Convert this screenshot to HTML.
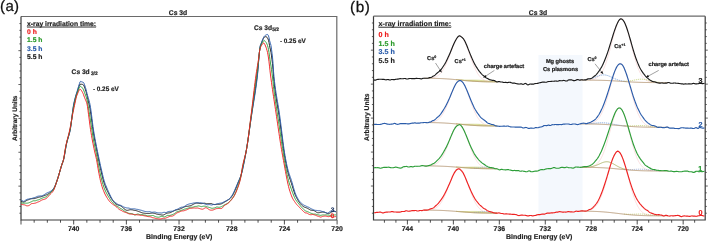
<!DOCTYPE html>
<html><head><meta charset="utf-8"><style>
html,body{margin:0;padding:0;background:#fff;width:710px;height:242px;overflow:hidden}
body{position:relative;font-family:"Liberation Sans",sans-serif}
text{text-rendering:geometricPrecision}
</style></head><body>
<svg width="710" height="242" viewBox="0 0 710 242" style="position:absolute;left:0;top:0;will-change:transform"><rect width="710" height="242" fill="#fff"/><rect x="538.5" y="55" width="44" height="164.5" fill="#f4f8fd"/><g fill="none" stroke="#3a3a3a" stroke-width="1.2"><path d="M21,16.5 H336.8 V220" stroke="#6a6a6a"/><path d="M21,16.5 V220 H336.8"/><path d="M19.40,213.23 H21" stroke-width="0.8"/><path d="M19.40,206.45 H21" stroke-width="0.8"/><path d="M19.40,199.68 H21" stroke-width="0.8"/><path d="M19.40,192.91 H21" stroke-width="0.8"/><path d="M18.40,186.13 H21" stroke-width="0.8"/><path d="M19.40,179.36 H21" stroke-width="0.8"/><path d="M19.40,172.59 H21" stroke-width="0.8"/><path d="M19.40,165.81 H21" stroke-width="0.8"/><path d="M19.40,159.04 H21" stroke-width="0.8"/><path d="M18.40,152.27 H21" stroke-width="0.8"/><path d="M19.40,145.49 H21" stroke-width="0.8"/><path d="M19.40,138.72 H21" stroke-width="0.8"/><path d="M19.40,131.95 H21" stroke-width="0.8"/><path d="M19.40,125.17 H21" stroke-width="0.8"/><path d="M18.40,118.40 H21" stroke-width="0.8"/><path d="M19.40,111.63 H21" stroke-width="0.8"/><path d="M19.40,104.85 H21" stroke-width="0.8"/><path d="M19.40,98.08 H21" stroke-width="0.8"/><path d="M19.40,91.31 H21" stroke-width="0.8"/><path d="M18.40,84.53 H21" stroke-width="0.8"/><path d="M19.40,77.76 H21" stroke-width="0.8"/><path d="M19.40,70.99 H21" stroke-width="0.8"/><path d="M19.40,64.21 H21" stroke-width="0.8"/><path d="M19.40,57.44 H21" stroke-width="0.8"/><path d="M18.40,50.67 H21" stroke-width="0.8"/><path d="M19.40,43.89 H21" stroke-width="0.8"/><path d="M19.40,37.12 H21" stroke-width="0.8"/><path d="M19.40,30.35 H21" stroke-width="0.8"/><path d="M19.40,23.57 H21" stroke-width="0.8"/><path d="M337.08,220 V224.50" stroke-width="0.9"/><path d="M323.91,220 V222.70" stroke-width="0.9"/><path d="M310.74,220 V222.70" stroke-width="0.9"/><path d="M297.57,220 V222.70" stroke-width="0.9"/><path d="M284.40,220 V224.50" stroke-width="0.9"/><path d="M271.23,220 V222.70" stroke-width="0.9"/><path d="M258.06,220 V222.70" stroke-width="0.9"/><path d="M244.89,220 V222.70" stroke-width="0.9"/><path d="M231.72,220 V224.50" stroke-width="0.9"/><path d="M218.55,220 V222.70" stroke-width="0.9"/><path d="M205.38,220 V222.70" stroke-width="0.9"/><path d="M192.21,220 V222.70" stroke-width="0.9"/><path d="M179.04,220 V224.50" stroke-width="0.9"/><path d="M165.87,220 V222.70" stroke-width="0.9"/><path d="M152.70,220 V222.70" stroke-width="0.9"/><path d="M139.53,220 V222.70" stroke-width="0.9"/><path d="M126.36,220 V224.50" stroke-width="0.9"/><path d="M113.19,220 V222.70" stroke-width="0.9"/><path d="M100.02,220 V222.70" stroke-width="0.9"/><path d="M86.85,220 V222.70" stroke-width="0.9"/><path d="M73.68,220 V224.50" stroke-width="0.9"/><path d="M60.51,220 V222.70" stroke-width="0.9"/><path d="M47.34,220 V222.70" stroke-width="0.9"/><path d="M34.17,220 V222.70" stroke-width="0.9"/><path d="M21.00,220 V224.50" stroke-width="0.9"/></g><g fill="none" stroke="#3a3a3a" stroke-width="1.2"><path d="M373.5,16.2 H705.2" stroke="#6a6a6a"/><path d="M373.5,16.2 V220 H705.2 V16.2"/><path d="M371.90,213.21 H373.5" stroke-width="0.8"/><path d="M705.2,213.21 H706.80" stroke-width="0.8"/><path d="M371.90,206.41 H373.5" stroke-width="0.8"/><path d="M705.2,206.41 H706.80" stroke-width="0.8"/><path d="M371.90,199.62 H373.5" stroke-width="0.8"/><path d="M705.2,199.62 H706.80" stroke-width="0.8"/><path d="M371.90,192.83 H373.5" stroke-width="0.8"/><path d="M705.2,192.83 H706.80" stroke-width="0.8"/><path d="M370.90,186.03 H373.5" stroke-width="0.8"/><path d="M705.2,186.03 H707.80" stroke-width="0.8"/><path d="M371.90,179.24 H373.5" stroke-width="0.8"/><path d="M705.2,179.24 H706.80" stroke-width="0.8"/><path d="M371.90,172.45 H373.5" stroke-width="0.8"/><path d="M705.2,172.45 H706.80" stroke-width="0.8"/><path d="M371.90,165.65 H373.5" stroke-width="0.8"/><path d="M705.2,165.65 H706.80" stroke-width="0.8"/><path d="M371.90,158.86 H373.5" stroke-width="0.8"/><path d="M705.2,158.86 H706.80" stroke-width="0.8"/><path d="M370.90,152.07 H373.5" stroke-width="0.8"/><path d="M705.2,152.07 H707.80" stroke-width="0.8"/><path d="M371.90,145.27 H373.5" stroke-width="0.8"/><path d="M705.2,145.27 H706.80" stroke-width="0.8"/><path d="M371.90,138.48 H373.5" stroke-width="0.8"/><path d="M705.2,138.48 H706.80" stroke-width="0.8"/><path d="M371.90,131.69 H373.5" stroke-width="0.8"/><path d="M705.2,131.69 H706.80" stroke-width="0.8"/><path d="M371.90,124.89 H373.5" stroke-width="0.8"/><path d="M705.2,124.89 H706.80" stroke-width="0.8"/><path d="M370.90,118.10 H373.5" stroke-width="0.8"/><path d="M705.2,118.10 H707.80" stroke-width="0.8"/><path d="M371.90,111.31 H373.5" stroke-width="0.8"/><path d="M705.2,111.31 H706.80" stroke-width="0.8"/><path d="M371.90,104.51 H373.5" stroke-width="0.8"/><path d="M705.2,104.51 H706.80" stroke-width="0.8"/><path d="M371.90,97.72 H373.5" stroke-width="0.8"/><path d="M705.2,97.72 H706.80" stroke-width="0.8"/><path d="M371.90,90.93 H373.5" stroke-width="0.8"/><path d="M705.2,90.93 H706.80" stroke-width="0.8"/><path d="M370.90,84.13 H373.5" stroke-width="0.8"/><path d="M705.2,84.13 H707.80" stroke-width="0.8"/><path d="M371.90,77.34 H373.5" stroke-width="0.8"/><path d="M705.2,77.34 H706.80" stroke-width="0.8"/><path d="M371.90,70.55 H373.5" stroke-width="0.8"/><path d="M705.2,70.55 H706.80" stroke-width="0.8"/><path d="M371.90,63.75 H373.5" stroke-width="0.8"/><path d="M705.2,63.75 H706.80" stroke-width="0.8"/><path d="M371.90,56.96 H373.5" stroke-width="0.8"/><path d="M705.2,56.96 H706.80" stroke-width="0.8"/><path d="M370.90,50.17 H373.5" stroke-width="0.8"/><path d="M705.2,50.17 H707.80" stroke-width="0.8"/><path d="M371.90,43.37 H373.5" stroke-width="0.8"/><path d="M705.2,43.37 H706.80" stroke-width="0.8"/><path d="M371.90,36.58 H373.5" stroke-width="0.8"/><path d="M705.2,36.58 H706.80" stroke-width="0.8"/><path d="M371.90,29.79 H373.5" stroke-width="0.8"/><path d="M705.2,29.79 H706.80" stroke-width="0.8"/><path d="M371.90,22.99 H373.5" stroke-width="0.8"/><path d="M705.2,22.99 H706.80" stroke-width="0.8"/><path d="M694.65,220 V222.70" stroke-width="0.9"/><path d="M683.16,220 V224.50" stroke-width="0.9"/><path d="M671.67,220 V222.70" stroke-width="0.9"/><path d="M660.18,220 V222.70" stroke-width="0.9"/><path d="M648.69,220 V222.70" stroke-width="0.9"/><path d="M637.20,220 V224.50" stroke-width="0.9"/><path d="M625.71,220 V222.70" stroke-width="0.9"/><path d="M614.22,220 V222.70" stroke-width="0.9"/><path d="M602.73,220 V222.70" stroke-width="0.9"/><path d="M591.24,220 V224.50" stroke-width="0.9"/><path d="M579.75,220 V222.70" stroke-width="0.9"/><path d="M568.26,220 V222.70" stroke-width="0.9"/><path d="M556.77,220 V222.70" stroke-width="0.9"/><path d="M545.28,220 V224.50" stroke-width="0.9"/><path d="M533.79,220 V222.70" stroke-width="0.9"/><path d="M522.30,220 V222.70" stroke-width="0.9"/><path d="M510.81,220 V222.70" stroke-width="0.9"/><path d="M499.32,220 V224.50" stroke-width="0.9"/><path d="M487.83,220 V222.70" stroke-width="0.9"/><path d="M476.34,220 V222.70" stroke-width="0.9"/><path d="M464.85,220 V222.70" stroke-width="0.9"/><path d="M453.36,220 V224.50" stroke-width="0.9"/><path d="M441.87,220 V222.70" stroke-width="0.9"/><path d="M430.38,220 V222.70" stroke-width="0.9"/><path d="M418.89,220 V222.70" stroke-width="0.9"/><path d="M407.40,220 V224.50" stroke-width="0.9"/><path d="M395.91,220 V222.70" stroke-width="0.9"/><path d="M384.42,220 V222.70" stroke-width="0.9"/></g><path d="M456.00,79.54 L456.50,79.57 L457.00,79.61 L457.50,79.64 L458.00,79.67 L458.50,79.70 L459.00,79.73 L459.50,79.76 L460.00,79.78 L460.50,79.81 L461.00,79.83 L461.50,79.85 L462.00,79.87 L462.50,79.89 L463.00,79.91 L463.50,79.92 L464.00,79.94 L464.50,79.95 L465.00,79.96 L465.50,79.96 L466.00,79.97 L466.50,79.98 L467.00,79.98 L467.50,79.98 L468.00,79.98 L468.50,79.98 L469.00,79.98 L469.50,79.98 L470.00,79.98 L470.50,79.98 L471.00,79.98 L471.50,79.98 L472.00,79.98 L472.50,79.99 L473.00,79.99 L473.50,79.99 L474.00,80.00 L474.50,80.01 L475.00,80.02 L475.50,80.03 L476.00,80.04 L476.50,80.06 L477.00,80.07 L477.50,80.09 L478.00,80.12 L478.50,80.14 L479.00,80.17 L479.50,80.20 L480.00,80.23 L480.50,80.27 L481.00,80.31 L481.50,80.34 L482.00,80.39 L482.50,80.43 L483.00,80.47 L483.50,80.52 L484.00,80.57 L484.50,80.62 L485.00,80.67 L485.50,80.72 L486.00,80.77 L486.50,80.82 L487.00,80.87 L487.50,80.92 L488.00,80.98 L488.50,81.03 L489.00,81.08 L489.50,81.13 L490.00,81.17 L490.50,81.22 L491.00,81.26 L491.50,81.31 L492.00,81.35 L492.50,81.39 L493.00,81.43 L493.50,81.47 L494.00,81.50 L494.50,81.54 L495.00,81.57 L495.50,81.60 L496.00,81.63 L496.50,81.65 L497.00,81.68 L497.00,81.91 L496.50,81.91 L496.00,81.91 L495.50,81.90 L495.00,81.90 L494.50,81.90 L494.00,81.89 L493.50,81.89 L493.00,81.89 L492.50,81.88 L492.00,81.88 L491.50,81.87 L491.00,81.87 L490.50,81.86 L490.00,81.85 L489.50,81.85 L489.00,81.84 L488.50,81.83 L488.00,81.83 L487.50,81.82 L487.00,81.81 L486.50,81.80 L486.00,81.79 L485.50,81.78 L485.00,81.76 L484.50,81.75 L484.00,81.74 L483.50,81.73 L483.00,81.71 L482.50,81.70 L482.00,81.68 L481.50,81.66 L481.00,81.64 L480.50,81.62 L480.00,81.61 L479.50,81.58 L479.00,81.56 L478.50,81.54 L478.00,81.52 L477.50,81.49 L477.00,81.47 L476.50,81.44 L476.00,81.41 L475.50,81.38 L475.00,81.35 L474.50,81.32 L474.00,81.29 L473.50,81.26 L473.00,81.22 L472.50,81.19 L472.00,81.15 L471.50,81.12 L471.00,81.08 L470.50,81.04 L470.00,81.00 L469.50,80.96 L469.00,80.92 L468.50,80.88 L468.00,80.83 L467.50,80.79 L467.00,80.74 L466.50,80.70 L466.00,80.65 L465.50,80.60 L465.00,80.56 L464.50,80.51 L464.00,80.46 L463.50,80.41 L463.00,80.36 L462.50,80.31 L462.00,80.26 L461.50,80.21 L461.00,80.16 L460.50,80.11 L460.00,80.06 L459.50,80.01 L459.00,79.96 L458.50,79.91 L458.00,79.86 L457.50,79.81 L457.00,79.76 L456.50,79.71 L456.00,79.66 Z" fill="#dfe3a0" stroke="#c4c870" stroke-width="0.5"/><path d="M432.00,77.76 L432.50,77.67 L433.00,77.58 L433.50,77.47 L434.00,77.34 L434.50,77.19 L435.00,77.03 L435.50,76.84 L436.00,76.63 L436.50,76.40 L437.00,76.13 L437.50,75.84 L438.00,75.51 L438.50,75.15 L439.00,74.75 L439.50,74.32 L440.00,73.84 L440.50,73.31 L441.00,72.74 L441.50,72.12 L442.00,71.45 L442.50,70.73 L443.00,69.96 L443.50,69.14 L444.00,68.26 L444.50,67.33 L445.00,66.34 L445.50,65.31 L446.00,64.23 L446.50,63.09 L447.00,61.92 L447.50,60.70 L448.00,59.45 L448.50,58.16 L449.00,56.85 L449.50,55.51 L450.00,54.16 L450.50,52.80 L451.00,51.44 L451.50,50.09 L452.00,48.76 L452.50,47.45 L453.00,46.17 L453.50,44.93 L454.00,43.74 L454.50,42.61 L455.00,41.55 L455.50,40.56 L456.00,39.66 L456.50,38.85 L457.00,38.13 L457.50,37.52 L458.00,37.02 L458.50,36.63 L459.00,36.35 L459.50,36.20 L460.00,36.16 L460.50,36.25 L461.00,36.46 L461.50,36.79 L462.00,37.23 L462.50,37.79 L463.00,38.46 L463.50,39.23 L464.00,40.10 L464.50,41.07 L465.00,42.12 L465.50,43.25 L466.00,44.44 L466.50,45.70 L467.00,47.01 L467.50,48.36 L468.00,49.75 L468.50,51.17 L469.00,52.60 L469.50,54.04 L470.00,55.48 L470.50,56.91 L471.00,58.33 L471.50,59.73 L472.00,61.10 L472.50,62.44 L473.00,63.74 L473.50,65.00 L474.00,66.22 L474.50,67.39 L475.00,68.50 L475.50,69.57 L476.00,70.57 L476.50,71.53 L477.00,72.43 L477.50,73.27 L478.00,74.06 L478.50,74.80 L479.00,75.48 L479.50,76.11 L480.00,76.70 L480.50,77.24 L481.00,77.73 L481.50,78.18 L482.00,78.59 L482.50,78.96 L483.00,79.30 L483.50,79.60 L484.00,79.88 L484.50,80.12 L485.00,80.34 L485.50,80.54 L486.00,80.71 L486.50,80.87 L487.00,81.01 L487.50,81.13 L488.00,81.23" fill="none" stroke="#f4c0c0" stroke-width="0.5"/><path d="M590.00,79.81 L590.50,79.76 L591.00,79.70 L591.50,79.62 L592.00,79.54 L592.50,79.44 L593.00,79.33 L593.50,79.20 L594.00,79.05 L594.50,78.88 L595.00,78.69 L595.50,78.47 L596.00,78.23 L596.50,77.95 L597.00,77.64 L597.50,77.30 L598.00,76.91 L598.50,76.48 L599.00,76.00 L599.50,75.48 L600.00,74.90 L600.50,74.27 L601.00,73.58 L601.50,72.83 L602.00,72.01 L602.50,71.12 L603.00,70.17 L603.50,69.15 L604.00,68.05 L604.50,66.88 L605.00,65.63 L605.50,64.32 L606.00,62.92 L606.50,61.46 L607.00,59.93 L607.50,58.33 L608.00,56.67 L608.50,54.95 L609.00,53.17 L609.50,51.35 L610.00,49.49 L610.50,47.60 L611.00,45.69 L611.50,43.76 L612.00,41.82 L612.50,39.89 L613.00,37.98 L613.50,36.10 L614.00,34.26 L614.50,32.47 L615.00,30.74 L615.50,29.09 L616.00,27.53 L616.50,26.07 L617.00,24.71 L617.50,23.48 L618.00,22.38 L618.50,21.41 L619.00,20.59 L619.50,19.92 L620.00,19.41 L620.50,19.06 L621.00,18.88 L621.50,18.86 L622.00,19.01 L622.50,19.33 L623.00,19.81 L623.50,20.45 L624.00,21.25 L624.50,22.19 L625.00,23.28 L625.50,24.50 L626.00,25.85 L626.50,27.32 L627.00,28.88 L627.50,30.54 L628.00,32.29 L628.50,34.10 L629.00,35.97 L629.50,37.89 L630.00,39.84 L630.50,41.82 L631.00,43.81 L631.50,45.79 L632.00,47.77 L632.50,49.73 L633.00,51.66 L633.50,53.56 L634.00,55.41 L634.50,57.21 L635.00,58.95 L635.50,60.63 L636.00,62.25 L636.50,63.79 L637.00,65.27 L637.50,66.67 L638.00,67.99 L638.50,69.24 L639.00,70.42 L639.50,71.52 L640.00,72.55 L640.50,73.50 L641.00,74.39 L641.50,75.21 L642.00,75.96 L642.50,76.66 L643.00,77.29 L643.50,77.87 L644.00,78.39 L644.50,78.87 L645.00,79.30 L645.50,79.69 L646.00,80.04 L646.50,80.35 L647.00,80.63 L647.50,80.88 L648.00,81.10 L648.50,81.30 L649.00,81.47 L649.50,81.63 L650.00,81.76 L650.50,81.88 L651.00,81.98 L651.50,82.07 L652.00,82.15" fill="none" stroke="#f4c0c0" stroke-width="0.5"/><path d="M585.00,79.78 L585.50,79.73 L586.00,79.67 L586.50,79.61 L587.00,79.54 L587.50,79.46 L588.00,79.38 L588.50,79.28 L589.00,79.18 L589.50,79.06 L590.00,78.94 L590.50,78.81 L591.00,78.67 L591.50,78.52 L592.00,78.36 L592.50,78.20 L593.00,78.02 L593.50,77.84 L594.00,77.65 L594.50,77.46 L595.00,77.26 L595.50,77.06 L596.00,76.86 L596.50,76.66 L597.00,76.47 L597.50,76.27 L598.00,76.08 L598.50,75.90 L599.00,75.73 L599.50,75.57 L600.00,75.43 L600.50,75.29 L601.00,75.18 L601.50,75.08 L602.00,75.00 L602.50,74.94 L603.00,74.91 L603.50,74.89 L604.00,74.90 L604.50,74.92 L605.00,74.97 L605.50,75.05 L606.00,75.14 L606.50,75.25 L607.00,75.38 L607.50,75.53 L608.00,75.70 L608.50,75.88 L609.00,76.08 L609.50,76.28 L610.00,76.50 L610.50,76.72 L611.00,76.95 L611.50,77.18 L612.00,77.42 L612.50,77.66 L613.00,77.89 L613.50,78.12 L614.00,78.35 L614.50,78.58 L615.00,78.79 L615.50,79.00 L616.00,79.21 L616.50,79.40 L617.00,79.59 L617.50,79.77 L618.00,79.93 L618.50,80.09 L619.00,80.24 L619.50,80.38 L620.00,80.51 L620.50,80.63 L621.00,80.75 L621.50,80.85 L622.00,80.95 L622.50,81.04 L623.00,81.13 L623.50,81.21 L624.00,81.28 L624.50,81.35 L625.00,81.41 L625.50,81.47 L626.00,81.53" fill="none" stroke="#6a98d8" stroke-width="0.8" stroke-dasharray="1.3,0.8"/><path d="M624.00,81.27 L624.50,81.26 L625.00,81.25 L625.50,81.24 L626.00,81.22 L626.50,81.20 L627.00,81.17 L627.50,81.13 L628.00,81.09 L628.50,81.04 L629.00,80.99 L629.50,80.93 L630.00,80.86 L630.50,80.79 L631.00,80.71 L631.50,80.63 L632.00,80.54 L632.50,80.45 L633.00,80.36 L633.50,80.26 L634.00,80.17 L634.50,80.07 L635.00,79.97 L635.50,79.87 L636.00,79.78 L636.50,79.69 L637.00,79.60 L637.50,79.52 L638.00,79.45 L638.50,79.38 L639.00,79.33 L639.50,79.28 L640.00,79.24 L640.50,79.21 L641.00,79.20 L641.50,79.19 L642.00,79.20 L642.50,79.22 L643.00,79.25 L643.50,79.29 L644.00,79.34 L644.50,79.41 L645.00,79.48 L645.50,79.57 L646.00,79.66 L646.50,79.76 L647.00,79.87 L647.50,79.98 L648.00,80.10 L648.50,80.22 L649.00,80.35 L649.50,80.47 L650.00,80.60 L650.50,80.73 L651.00,80.85 L651.50,80.97 L652.00,81.09 L652.50,81.21 L653.00,81.32 L653.50,81.43 L654.00,81.54 L654.50,81.63 L655.00,81.73 L655.50,81.81 L656.00,81.89 L656.50,81.97 L657.00,82.04 L657.50,82.10 L658.00,82.16 L658.50,82.21 L659.00,82.26 L659.50,82.30 L660.00,82.34" fill="none" stroke="#b8c860" stroke-width="0.7" stroke-dasharray="1.2,0.8"/><path d="M424.00,78.24 L424.50,78.24 L425.00,78.24 L425.50,78.25 L426.00,78.25 L426.50,78.25 L427.00,78.26 L427.50,78.26 L428.00,78.26 L428.50,78.27 L429.00,78.27 L429.50,78.28 L430.00,78.29 L430.50,78.29 L431.00,78.30 L431.50,78.31 L432.00,78.31 L432.50,78.32 L433.00,78.33 L433.50,78.34 L434.00,78.35 L434.50,78.36 L435.00,78.37 L435.50,78.39 L436.00,78.40 L436.50,78.41 L437.00,78.43 L437.50,78.44 L438.00,78.46 L438.50,78.47 L439.00,78.49 L439.50,78.51 L440.00,78.53 L440.50,78.55 L441.00,78.57 L441.50,78.59 L442.00,78.62 L442.50,78.64 L443.00,78.67 L443.50,78.69 L444.00,78.72 L444.50,78.75 L445.00,78.78 L445.50,78.81 L446.00,78.84 L446.50,78.87 L447.00,78.90 L447.50,78.94 L448.00,78.97 L448.50,79.01 L449.00,79.05 L449.50,79.09 L450.00,79.13 L450.50,79.17 L451.00,79.21 L451.50,79.25 L452.00,79.29 L452.50,79.34 L453.00,79.38 L453.50,79.43 L454.00,79.47 L454.50,79.52 L455.00,79.57 L455.50,79.61 L456.00,79.66 L456.50,79.71 L457.00,79.76 L457.50,79.81 L458.00,79.86 L458.50,79.91 L459.00,79.96 L459.50,80.01 L460.00,80.06 L460.50,80.11 L461.00,80.16 L461.50,80.21 L462.00,80.26 L462.50,80.31 L463.00,80.36 L463.50,80.41 L464.00,80.46 L464.50,80.51 L465.00,80.56 L465.50,80.60 L466.00,80.65 L466.50,80.70 L467.00,80.74 L467.50,80.79 L468.00,80.83 L468.50,80.88 L469.00,80.92 L469.50,80.96 L470.00,81.00 L470.50,81.04 L471.00,81.08 L471.50,81.12 L472.00,81.15 L472.50,81.19 L473.00,81.22 L473.50,81.26 L474.00,81.29 L474.50,81.32 L475.00,81.35 L475.50,81.38 L476.00,81.41 L476.50,81.44 L477.00,81.47 L477.50,81.49 L478.00,81.52 L478.50,81.54 L479.00,81.56 L479.50,81.58 L480.00,81.61 L480.50,81.62 L481.00,81.64 L481.50,81.66 L482.00,81.68 L482.50,81.70 L483.00,81.71 L483.50,81.73 L484.00,81.74 L484.50,81.75 L485.00,81.76 L485.50,81.78 L486.00,81.79 L486.50,81.80 L487.00,81.81 L487.50,81.82 L488.00,81.83 L488.50,81.83 L489.00,81.84 L489.50,81.85 L490.00,81.85 L490.50,81.86 L491.00,81.87 L491.50,81.87 L492.00,81.88 L492.50,81.88 L493.00,81.89 L493.50,81.89 L494.00,81.89 L494.50,81.90 L495.00,81.90 L495.50,81.90 L496.00,81.91 L496.50,81.91 L497.00,81.91" fill="none" stroke="#b0906c" stroke-width="0.85"/><path d="M580.00,80.09 L580.50,80.10 L581.00,80.10 L581.50,80.10 L582.00,80.10 L582.50,80.10 L583.00,80.10 L583.50,80.10 L584.00,80.10 L584.50,80.10 L585.00,80.11 L585.50,80.11 L586.00,80.11 L586.50,80.11 L587.00,80.11 L587.50,80.12 L588.00,80.12 L588.50,80.12 L589.00,80.13 L589.50,80.13 L590.00,80.13 L590.50,80.14 L591.00,80.14 L591.50,80.14 L592.00,80.15 L592.50,80.15 L593.00,80.16 L593.50,80.17 L594.00,80.17 L594.50,80.18 L595.00,80.18 L595.50,80.19 L596.00,80.20 L596.50,80.21 L597.00,80.22 L597.50,80.23 L598.00,80.24 L598.50,80.25 L599.00,80.26 L599.50,80.27 L600.00,80.28 L600.50,80.29 L601.00,80.30 L601.50,80.32 L602.00,80.33 L602.50,80.35 L603.00,80.36 L603.50,80.38 L604.00,80.40 L604.50,80.41 L605.00,80.43 L605.50,80.45 L606.00,80.47 L606.50,80.49 L607.00,80.51 L607.50,80.53 L608.00,80.55 L608.50,80.58 L609.00,80.60 L609.50,80.62 L610.00,80.65 L610.50,80.68 L611.00,80.70 L611.50,80.73 L612.00,80.76 L612.50,80.78 L613.00,80.81 L613.50,80.84 L614.00,80.87 L614.50,80.90 L615.00,80.93 L615.50,80.96 L616.00,80.99 L616.50,81.02 L617.00,81.06 L617.50,81.09 L618.00,81.12 L618.50,81.16 L619.00,81.19 L619.50,81.22 L620.00,81.26 L620.50,81.29 L621.00,81.32 L621.50,81.36 L622.00,81.39 L622.50,81.42 L623.00,81.46 L623.50,81.49 L624.00,81.52 L624.50,81.56 L625.00,81.59 L625.50,81.62 L626.00,81.65 L626.50,81.69 L627.00,81.72 L627.50,81.75 L628.00,81.78 L628.50,81.81 L629.00,81.84 L629.50,81.87 L630.00,81.90 L630.50,81.93 L631.00,81.95 L631.50,81.98 L632.00,82.01 L632.50,82.03 L633.00,82.06 L633.50,82.08 L634.00,82.11 L634.50,82.13 L635.00,82.15 L635.50,82.18 L636.00,82.20 L636.50,82.22 L637.00,82.24 L637.50,82.26 L638.00,82.27 L638.50,82.29 L639.00,82.31 L639.50,82.33 L640.00,82.34 L640.50,82.36 L641.00,82.37 L641.50,82.39 L642.00,82.40 L642.50,82.41 L643.00,82.42 L643.50,82.44 L644.00,82.45 L644.50,82.46 L645.00,82.47 L645.50,82.48 L646.00,82.49 L646.50,82.49 L647.00,82.50 L647.50,82.51 L648.00,82.52 L648.50,82.52 L649.00,82.53 L649.50,82.54 L650.00,82.54 L650.50,82.55 L651.00,82.55 L651.50,82.56 L652.00,82.56 L652.50,82.56 L653.00,82.57 L653.50,82.57 L654.00,82.57 L654.50,82.58 L655.00,82.58 L655.50,82.58 L656.00,82.59 L656.50,82.59 L657.00,82.59 L657.50,82.59 L658.00,82.59 L658.50,82.59 L659.00,82.60 L659.50,82.60 L660.00,82.60 L660.50,82.60 L661.00,82.60 L661.50,82.60 L662.00,82.60 L662.50,82.60 L663.00,82.60 L663.50,82.60 L664.00,82.61 L664.50,82.61 L665.00,82.61 L665.50,82.61 L666.00,82.61 L666.50,82.61 L667.00,82.61 L667.50,82.61 L668.00,82.61" fill="none" stroke="#b0906c" stroke-width="0.85"/><path d="M456.00,123.78 L456.50,123.81 L457.00,123.84 L457.50,123.87 L458.00,123.90 L458.50,123.93 L459.00,123.95 L459.50,123.98 L460.00,124.00 L460.50,124.02 L461.00,124.04 L461.50,124.06 L462.00,124.08 L462.50,124.09 L463.00,124.11 L463.50,124.12 L464.00,124.13 L464.50,124.14 L465.00,124.14 L465.50,124.15 L466.00,124.15 L466.50,124.15 L467.00,124.16 L467.50,124.16 L468.00,124.15 L468.50,124.15 L469.00,124.15 L469.50,124.15 L470.00,124.15 L470.50,124.14 L471.00,124.14 L471.50,124.14 L472.00,124.14 L472.50,124.14 L473.00,124.14 L473.50,124.14 L474.00,124.14 L474.50,124.15 L475.00,124.16 L475.50,124.17 L476.00,124.18 L476.50,124.19 L477.00,124.21 L477.50,124.23 L478.00,124.25 L478.50,124.27 L479.00,124.30 L479.50,124.33 L480.00,124.36 L480.50,124.39 L481.00,124.43 L481.50,124.47 L482.00,124.51 L482.50,124.55 L483.00,124.60 L483.50,124.64 L484.00,124.69 L484.50,124.74 L485.00,124.79 L485.50,124.84 L486.00,124.89 L486.50,124.94 L487.00,124.99 L487.50,125.04 L488.00,125.09 L488.50,125.14 L489.00,125.19 L489.50,125.24 L490.00,125.29 L490.50,125.33 L491.00,125.38 L491.50,125.42 L492.00,125.47 L492.50,125.51 L493.00,125.54 L493.50,125.58 L494.00,125.62 L494.50,125.65 L495.00,125.68 L495.50,125.71 L496.00,125.74 L496.50,125.77 L497.00,125.79 L497.00,126.02 L496.50,126.02 L496.00,126.02 L495.50,126.02 L495.00,126.01 L494.50,126.01 L494.00,126.01 L493.50,126.00 L493.00,126.00 L492.50,126.00 L492.00,125.99 L491.50,125.99 L491.00,125.98 L490.50,125.98 L490.00,125.97 L489.50,125.96 L489.00,125.96 L488.50,125.95 L488.00,125.94 L487.50,125.93 L487.00,125.92 L486.50,125.91 L486.00,125.90 L485.50,125.89 L485.00,125.88 L484.50,125.87 L484.00,125.86 L483.50,125.85 L483.00,125.83 L482.50,125.82 L482.00,125.80 L481.50,125.79 L481.00,125.77 L480.50,125.75 L480.00,125.73 L479.50,125.71 L479.00,125.69 L478.50,125.67 L478.00,125.65 L477.50,125.63 L477.00,125.60 L476.50,125.58 L476.00,125.55 L475.50,125.52 L475.00,125.49 L474.50,125.47 L474.00,125.44 L473.50,125.40 L473.00,125.37 L472.50,125.34 L472.00,125.31 L471.50,125.27 L471.00,125.24 L470.50,125.20 L470.00,125.16 L469.50,125.12 L469.00,125.08 L468.50,125.04 L468.00,125.00 L467.50,124.96 L467.00,124.92 L466.50,124.88 L466.00,124.83 L465.50,124.79 L465.00,124.75 L464.50,124.70 L464.00,124.65 L463.50,124.61 L463.00,124.56 L462.50,124.51 L462.00,124.47 L461.50,124.42 L461.00,124.37 L460.50,124.33 L460.00,124.28 L459.50,124.23 L459.00,124.18 L458.50,124.14 L458.00,124.09 L457.50,124.04 L457.00,123.99 L456.50,123.95 L456.00,123.90 Z" fill="#dfe3a0" stroke="#c4c870" stroke-width="0.5"/><path d="M432.00,121.97 L432.50,121.87 L433.00,121.76 L433.50,121.64 L434.00,121.50 L434.50,121.34 L435.00,121.15 L435.50,120.95 L436.00,120.72 L436.50,120.46 L437.00,120.18 L437.50,119.86 L438.00,119.51 L438.50,119.12 L439.00,118.69 L439.50,118.22 L440.00,117.71 L440.50,117.15 L441.00,116.55 L441.50,115.90 L442.00,115.20 L442.50,114.45 L443.00,113.64 L443.50,112.78 L444.00,111.88 L444.50,110.91 L445.00,109.90 L445.50,108.84 L446.00,107.73 L446.50,106.57 L447.00,105.38 L447.50,104.14 L448.00,102.87 L448.50,101.57 L449.00,100.25 L449.50,98.90 L450.00,97.55 L450.50,96.19 L451.00,94.84 L451.50,93.50 L452.00,92.17 L452.50,90.88 L453.00,89.62 L453.50,88.40 L454.00,87.24 L454.50,86.14 L455.00,85.11 L455.50,84.16 L456.00,83.29 L456.50,82.51 L457.00,81.83 L457.50,81.26 L458.00,80.79 L458.50,80.44 L459.00,80.20 L459.50,80.08 L460.00,80.08 L460.50,80.20 L461.00,80.44 L461.50,80.79 L462.00,81.26 L462.50,81.85 L463.00,82.54 L463.50,83.33 L464.00,84.22 L464.50,85.19 L465.00,86.25 L465.50,87.39 L466.00,88.59 L466.50,89.85 L467.00,91.16 L467.50,92.51 L468.00,93.90 L468.50,95.31 L469.00,96.73 L469.50,98.17 L470.00,99.60 L470.50,101.03 L471.00,102.44 L471.50,103.83 L472.00,105.19 L472.50,106.52 L473.00,107.82 L473.50,109.07 L474.00,110.28 L474.50,111.44 L475.00,112.55 L475.50,113.61 L476.00,114.61 L476.50,115.57 L477.00,116.46 L477.50,117.30 L478.00,118.09 L478.50,118.83 L479.00,119.51 L479.50,120.15 L480.00,120.73 L480.50,121.27 L481.00,121.77 L481.50,122.22 L482.00,122.64 L482.50,123.01 L483.00,123.35 L483.50,123.66 L484.00,123.94 L484.50,124.19 L485.00,124.41 L485.50,124.61 L486.00,124.79 L486.50,124.95 L487.00,125.09 L487.50,125.21 L488.00,125.32" fill="none" stroke="#f4c0c0" stroke-width="0.5"/><path d="M590.00,123.36 L590.50,123.26 L591.00,123.15 L591.50,123.02 L592.00,122.88 L592.50,122.71 L593.00,122.53 L593.50,122.32 L594.00,122.09 L594.50,121.82 L595.00,121.53 L595.50,121.20 L596.00,120.84 L596.50,120.44 L597.00,120.00 L597.50,119.51 L598.00,118.97 L598.50,118.38 L599.00,117.75 L599.50,117.05 L600.00,116.30 L600.50,115.48 L601.00,114.61 L601.50,113.67 L602.00,112.66 L602.50,111.59 L603.00,110.44 L603.50,109.24 L604.00,107.96 L604.50,106.61 L605.00,105.20 L605.50,103.73 L606.00,102.20 L606.50,100.61 L607.00,98.96 L607.50,97.27 L608.00,95.54 L608.50,93.77 L609.00,91.96 L609.50,90.14 L610.00,88.30 L610.50,86.46 L611.00,84.62 L611.50,82.79 L612.00,80.98 L612.50,79.21 L613.00,77.49 L613.50,75.81 L614.00,74.21 L614.50,72.67 L615.00,71.23 L615.50,69.88 L616.00,68.63 L616.50,67.50 L617.00,66.49 L617.50,65.60 L618.00,64.86 L618.50,64.25 L619.00,63.79 L619.50,63.49 L620.00,63.33 L620.50,63.33 L621.00,63.48 L621.50,63.78 L622.00,64.24 L622.50,64.84 L623.00,65.59 L623.50,66.48 L624.00,67.50 L624.50,68.64 L625.00,69.91 L625.50,71.28 L626.00,72.75 L626.50,74.32 L627.00,75.96 L627.50,77.68 L628.00,79.45 L628.50,81.27 L629.00,83.13 L629.50,85.02 L630.00,86.93 L630.50,88.84 L631.00,90.76 L631.50,92.66 L632.00,94.54 L632.50,96.40 L633.00,98.22 L633.50,100.00 L634.00,101.73 L634.50,103.42 L635.00,105.04 L635.50,106.61 L636.00,108.11 L636.50,109.54 L637.00,110.91 L637.50,112.21 L638.00,113.44 L638.50,114.60 L639.00,115.69 L639.50,116.71 L640.00,117.67 L640.50,118.56 L641.00,119.38 L641.50,120.15 L642.00,120.85 L642.50,121.50 L643.00,122.10 L643.50,122.65 L644.00,123.15 L644.50,123.60 L645.00,124.01 L645.50,124.38 L646.00,124.72 L646.50,125.02 L647.00,125.29 L647.50,125.54 L648.00,125.75 L648.50,125.95 L649.00,126.12 L649.50,126.27 L650.00,126.41 L650.50,126.53 L651.00,126.63 L651.50,126.72 L652.00,126.80" fill="none" stroke="#f4c0c0" stroke-width="0.5"/><path d="M585.00,123.85 L585.50,123.84 L586.00,123.83 L586.50,123.81 L587.00,123.80 L587.50,123.78 L588.00,123.76 L588.50,123.73 L589.00,123.71 L589.50,123.68 L590.00,123.65 L590.50,123.62 L591.00,123.58 L591.50,123.55 L592.00,123.51 L592.50,123.47 L593.00,123.42 L593.50,123.38 L594.00,123.33 L594.50,123.28 L595.00,123.24 L595.50,123.19 L596.00,123.14 L596.50,123.09 L597.00,123.05 L597.50,123.00 L598.00,122.96 L598.50,122.92 L599.00,122.88 L599.50,122.85 L600.00,122.82 L600.50,122.80 L601.00,122.78 L601.50,122.77 L602.00,122.76 L602.50,122.76 L603.00,122.77 L603.50,122.79 L604.00,122.81 L604.50,122.84 L605.00,122.87 L605.50,122.91 L606.00,122.96 L606.50,123.02 L607.00,123.08 L607.50,123.15 L608.00,123.22 L608.50,123.30 L609.00,123.38 L609.50,123.47 L610.00,123.56 L610.50,123.65 L611.00,123.75 L611.50,123.85 L612.00,123.94 L612.50,124.04 L613.00,124.14 L613.50,124.24 L614.00,124.34 L614.50,124.43 L615.00,124.53 L615.50,124.62 L616.00,124.72 L616.50,124.81 L617.00,124.89 L617.50,124.98 L618.00,125.06 L618.50,125.14 L619.00,125.22 L619.50,125.29 L620.00,125.36 L620.50,125.43 L621.00,125.50 L621.50,125.56 L622.00,125.63 L622.50,125.69 L623.00,125.75 L623.50,125.80 L624.00,125.86 L624.50,125.91 L625.00,125.96 L625.50,126.01 L626.00,126.06" fill="none" stroke="#6a98d8" stroke-width="0.8" stroke-dasharray="1.3,0.8"/><path d="M624.00,125.81 L624.50,125.83 L625.00,125.85 L625.50,125.87 L626.00,125.89 L626.50,125.90 L627.00,125.92 L627.50,125.92 L628.00,125.93 L628.50,125.93 L629.00,125.93 L629.50,125.92 L630.00,125.92 L630.50,125.91 L631.00,125.89 L631.50,125.87 L632.00,125.86 L632.50,125.83 L633.00,125.81 L633.50,125.78 L634.00,125.76 L634.50,125.73 L635.00,125.70 L635.50,125.68 L636.00,125.65 L636.50,125.62 L637.00,125.60 L637.50,125.58 L638.00,125.56 L638.50,125.54 L639.00,125.53 L639.50,125.52 L640.00,125.51 L640.50,125.51 L641.00,125.51 L641.50,125.52 L642.00,125.54 L642.50,125.56 L643.00,125.58 L643.50,125.61 L644.00,125.64 L644.50,125.68 L645.00,125.73 L645.50,125.77 L646.00,125.82 L646.50,125.88 L647.00,125.94 L647.50,126.00 L648.00,126.06 L648.50,126.12 L649.00,126.18 L649.50,126.25 L650.00,126.31 L650.50,126.37 L651.00,126.44 L651.50,126.50 L652.00,126.56 L652.50,126.62 L653.00,126.67 L653.50,126.73 L654.00,126.78 L654.50,126.83 L655.00,126.87 L655.50,126.92 L656.00,126.96 L656.50,126.99 L657.00,127.03 L657.50,127.06 L658.00,127.09 L658.50,127.11 L659.00,127.14 L659.50,127.16 L660.00,127.18" fill="none" stroke="#b8c860" stroke-width="0.7" stroke-dasharray="1.2,0.8"/><path d="M424.00,122.53 L424.50,122.53 L425.00,122.53 L425.50,122.54 L426.00,122.54 L426.50,122.54 L427.00,122.55 L427.50,122.55 L428.00,122.56 L428.50,122.56 L429.00,122.57 L429.50,122.57 L430.00,122.58 L430.50,122.58 L431.00,122.59 L431.50,122.60 L432.00,122.61 L432.50,122.62 L433.00,122.62 L433.50,122.63 L434.00,122.64 L434.50,122.65 L435.00,122.67 L435.50,122.68 L436.00,122.69 L436.50,122.70 L437.00,122.72 L437.50,122.73 L438.00,122.75 L438.50,122.76 L439.00,122.78 L439.50,122.80 L440.00,122.82 L440.50,122.84 L441.00,122.86 L441.50,122.88 L442.00,122.90 L442.50,122.93 L443.00,122.95 L443.50,122.98 L444.00,123.00 L444.50,123.03 L445.00,123.06 L445.50,123.09 L446.00,123.12 L446.50,123.15 L447.00,123.18 L447.50,123.21 L448.00,123.25 L448.50,123.28 L449.00,123.32 L449.50,123.35 L450.00,123.39 L450.50,123.43 L451.00,123.47 L451.50,123.51 L452.00,123.55 L452.50,123.59 L453.00,123.63 L453.50,123.68 L454.00,123.72 L454.50,123.77 L455.00,123.81 L455.50,123.86 L456.00,123.90 L456.50,123.95 L457.00,123.99 L457.50,124.04 L458.00,124.09 L458.50,124.14 L459.00,124.18 L459.50,124.23 L460.00,124.28 L460.50,124.33 L461.00,124.37 L461.50,124.42 L462.00,124.47 L462.50,124.51 L463.00,124.56 L463.50,124.61 L464.00,124.65 L464.50,124.70 L465.00,124.75 L465.50,124.79 L466.00,124.83 L466.50,124.88 L467.00,124.92 L467.50,124.96 L468.00,125.00 L468.50,125.04 L469.00,125.08 L469.50,125.12 L470.00,125.16 L470.50,125.20 L471.00,125.24 L471.50,125.27 L472.00,125.31 L472.50,125.34 L473.00,125.37 L473.50,125.40 L474.00,125.44 L474.50,125.47 L475.00,125.49 L475.50,125.52 L476.00,125.55 L476.50,125.58 L477.00,125.60 L477.50,125.63 L478.00,125.65 L478.50,125.67 L479.00,125.69 L479.50,125.71 L480.00,125.73 L480.50,125.75 L481.00,125.77 L481.50,125.79 L482.00,125.80 L482.50,125.82 L483.00,125.83 L483.50,125.85 L484.00,125.86 L484.50,125.87 L485.00,125.88 L485.50,125.89 L486.00,125.90 L486.50,125.91 L487.00,125.92 L487.50,125.93 L488.00,125.94 L488.50,125.95 L489.00,125.96 L489.50,125.96 L490.00,125.97 L490.50,125.98 L491.00,125.98 L491.50,125.99 L492.00,125.99 L492.50,126.00 L493.00,126.00 L493.50,126.00 L494.00,126.01 L494.50,126.01 L495.00,126.01 L495.50,126.02 L496.00,126.02 L496.50,126.02 L497.00,126.02" fill="none" stroke="#b0906c" stroke-width="0.85"/><path d="M580.00,123.93 L580.50,123.93 L581.00,123.93 L581.50,123.93 L582.00,123.93 L582.50,123.94 L583.00,123.94 L583.50,123.94 L584.00,123.94 L584.50,123.95 L585.00,123.95 L585.50,123.95 L586.00,123.96 L586.50,123.96 L587.00,123.97 L587.50,123.97 L588.00,123.97 L588.50,123.98 L589.00,123.99 L589.50,123.99 L590.00,124.00 L590.50,124.00 L591.00,124.01 L591.50,124.02 L592.00,124.03 L592.50,124.04 L593.00,124.04 L593.50,124.05 L594.00,124.06 L594.50,124.07 L595.00,124.09 L595.50,124.10 L596.00,124.11 L596.50,124.12 L597.00,124.14 L597.50,124.15 L598.00,124.17 L598.50,124.18 L599.00,124.20 L599.50,124.22 L600.00,124.23 L600.50,124.25 L601.00,124.27 L601.50,124.29 L602.00,124.31 L602.50,124.34 L603.00,124.36 L603.50,124.38 L604.00,124.41 L604.50,124.43 L605.00,124.46 L605.50,124.49 L606.00,124.51 L606.50,124.54 L607.00,124.57 L607.50,124.60 L608.00,124.64 L608.50,124.67 L609.00,124.70 L609.50,124.73 L610.00,124.77 L610.50,124.80 L611.00,124.84 L611.50,124.88 L612.00,124.91 L612.50,124.95 L613.00,124.99 L613.50,125.03 L614.00,125.07 L614.50,125.11 L615.00,125.15 L615.50,125.19 L616.00,125.23 L616.50,125.28 L617.00,125.32 L617.50,125.36 L618.00,125.41 L618.50,125.45 L619.00,125.49 L619.50,125.54 L620.00,125.58 L620.50,125.62 L621.00,125.67 L621.50,125.71 L622.00,125.75 L622.50,125.80 L623.00,125.84 L623.50,125.88 L624.00,125.93 L624.50,125.97 L625.00,126.01 L625.50,126.05 L626.00,126.09 L626.50,126.13 L627.00,126.17 L627.50,126.21 L628.00,126.25 L628.50,126.29 L629.00,126.33 L629.50,126.37 L630.00,126.40 L630.50,126.44 L631.00,126.47 L631.50,126.51 L632.00,126.54 L632.50,126.57 L633.00,126.61 L633.50,126.64 L634.00,126.67 L634.50,126.70 L635.00,126.73 L635.50,126.75 L636.00,126.78 L636.50,126.81 L637.00,126.83 L637.50,126.86 L638.00,126.88 L638.50,126.90 L639.00,126.92 L639.50,126.94 L640.00,126.96 L640.50,126.98 L641.00,127.00 L641.50,127.02 L642.00,127.04 L642.50,127.05 L643.00,127.07 L643.50,127.08 L644.00,127.10 L644.50,127.11 L645.00,127.12 L645.50,127.14 L646.00,127.15 L646.50,127.16 L647.00,127.17 L647.50,127.18 L648.00,127.19 L648.50,127.20 L649.00,127.21 L649.50,127.21 L650.00,127.22 L650.50,127.23 L651.00,127.23 L651.50,127.24 L652.00,127.25 L652.50,127.25 L653.00,127.26 L653.50,127.26 L654.00,127.27 L654.50,127.27 L655.00,127.27 L655.50,127.28 L656.00,127.28 L656.50,127.28 L657.00,127.29 L657.50,127.29 L658.00,127.29 L658.50,127.29 L659.00,127.30 L659.50,127.30 L660.00,127.30 L660.50,127.30 L661.00,127.30 L661.50,127.30 L662.00,127.30 L662.50,127.31 L663.00,127.31 L663.50,127.31 L664.00,127.31 L664.50,127.31 L665.00,127.31 L665.50,127.31 L666.00,127.31 L666.50,127.31 L667.00,127.31 L667.50,127.31 L668.00,127.31" fill="none" stroke="#b0906c" stroke-width="0.85"/><path d="M456.00,166.95 L456.50,166.98 L457.00,167.00 L457.50,167.02 L458.00,167.05 L458.50,167.07 L459.00,167.08 L459.50,167.10 L460.00,167.12 L460.50,167.13 L461.00,167.14 L461.50,167.16 L462.00,167.16 L462.50,167.17 L463.00,167.18 L463.50,167.18 L464.00,167.18 L464.50,167.18 L465.00,167.18 L465.50,167.18 L466.00,167.17 L466.50,167.17 L467.00,167.16 L467.50,167.15 L468.00,167.14 L468.50,167.13 L469.00,167.12 L469.50,167.11 L470.00,167.10 L470.50,167.09 L471.00,167.08 L471.50,167.07 L472.00,167.07 L472.50,167.06 L473.00,167.05 L473.50,167.05 L474.00,167.04 L474.50,167.04 L475.00,167.04 L475.50,167.05 L476.00,167.05 L476.50,167.06 L477.00,167.07 L477.50,167.08 L478.00,167.10 L478.50,167.12 L479.00,167.14 L479.50,167.16 L480.00,167.19 L480.50,167.22 L481.00,167.25 L481.50,167.28 L482.00,167.32 L482.50,167.36 L483.00,167.40 L483.50,167.44 L484.00,167.49 L484.50,167.53 L485.00,167.58 L485.50,167.62 L486.00,167.67 L486.50,167.72 L487.00,167.77 L487.50,167.82 L488.00,167.86 L488.50,167.91 L489.00,167.96 L489.50,168.01 L490.00,168.05 L490.50,168.10 L491.00,168.14 L491.50,168.18 L492.00,168.22 L492.50,168.26 L493.00,168.30 L493.50,168.33 L494.00,168.37 L494.50,168.40 L495.00,168.43 L495.50,168.46 L496.00,168.49 L496.50,168.51 L497.00,168.54 L497.00,168.77 L496.50,168.77 L496.00,168.77 L495.50,168.76 L495.00,168.76 L494.50,168.76 L494.00,168.76 L493.50,168.76 L493.00,168.75 L492.50,168.75 L492.00,168.75 L491.50,168.74 L491.00,168.74 L490.50,168.74 L490.00,168.73 L489.50,168.73 L489.00,168.72 L488.50,168.72 L488.00,168.71 L487.50,168.71 L487.00,168.70 L486.50,168.70 L486.00,168.69 L485.50,168.68 L485.00,168.67 L484.50,168.66 L484.00,168.66 L483.50,168.65 L483.00,168.64 L482.50,168.63 L482.00,168.61 L481.50,168.60 L481.00,168.59 L480.50,168.58 L480.00,168.56 L479.50,168.55 L479.00,168.53 L478.50,168.52 L478.00,168.50 L477.50,168.48 L477.00,168.46 L476.50,168.44 L476.00,168.42 L475.50,168.40 L475.00,168.38 L474.50,168.36 L474.00,168.34 L473.50,168.31 L473.00,168.29 L472.50,168.26 L472.00,168.23 L471.50,168.21 L471.00,168.18 L470.50,168.15 L470.00,168.12 L469.50,168.09 L469.00,168.06 L468.50,168.03 L468.00,167.99 L467.50,167.96 L467.00,167.93 L466.50,167.89 L466.00,167.86 L465.50,167.82 L465.00,167.78 L464.50,167.75 L464.00,167.71 L463.50,167.67 L463.00,167.63 L462.50,167.59 L462.00,167.55 L461.50,167.51 L461.00,167.47 L460.50,167.43 L460.00,167.39 L459.50,167.35 L459.00,167.31 L458.50,167.27 L458.00,167.23 L457.50,167.19 L457.00,167.15 L456.50,167.12 L456.00,167.08 Z" fill="#dfe3a0" stroke="#c4c870" stroke-width="0.5"/><path d="M432.00,165.22 L432.50,165.11 L433.00,164.98 L433.50,164.84 L434.00,164.67 L434.50,164.49 L435.00,164.28 L435.50,164.05 L436.00,163.79 L436.50,163.50 L437.00,163.17 L437.50,162.81 L438.00,162.42 L438.50,161.98 L439.00,161.50 L439.50,160.98 L440.00,160.41 L440.50,159.79 L441.00,159.12 L441.50,158.41 L442.00,157.64 L442.50,156.81 L443.00,155.93 L443.50,155.00 L444.00,154.02 L444.50,152.98 L445.00,151.90 L445.50,150.76 L446.00,149.59 L446.50,148.37 L447.00,147.11 L447.50,145.82 L448.00,144.50 L448.50,143.17 L449.00,141.81 L449.50,140.45 L450.00,139.09 L450.50,137.74 L451.00,136.40 L451.50,135.09 L452.00,133.81 L452.50,132.57 L453.00,131.39 L453.50,130.26 L454.00,129.20 L454.50,128.22 L455.00,127.33 L455.50,126.52 L456.00,125.81 L456.50,125.21 L457.00,124.72 L457.50,124.34 L458.00,124.08 L458.50,123.94 L459.00,123.91 L459.50,124.02 L460.00,124.24 L460.50,124.58 L461.00,125.04 L461.50,125.61 L462.00,126.29 L462.50,127.08 L463.00,127.96 L463.50,128.93 L464.00,129.99 L464.50,131.12 L465.00,132.32 L465.50,133.58 L466.00,134.89 L466.50,136.24 L467.00,137.62 L467.50,139.03 L468.00,140.45 L468.50,141.88 L469.00,143.30 L469.50,144.72 L470.00,146.12 L470.50,147.49 L471.00,148.84 L471.50,150.15 L472.00,151.43 L472.50,152.66 L473.00,153.84 L473.50,154.98 L474.00,156.06 L474.50,157.09 L475.00,158.07 L475.50,158.99 L476.00,159.85 L476.50,160.67 L477.00,161.42 L477.50,162.13 L478.00,162.78 L478.50,163.38 L479.00,163.94 L479.50,164.45 L480.00,164.91 L480.50,165.34 L481.00,165.72 L481.50,166.07 L482.00,166.39 L482.50,166.67 L483.00,166.92 L483.50,167.15 L484.00,167.36 L484.50,167.54 L485.00,167.70 L485.50,167.84 L486.00,167.96 L486.50,168.07 L487.00,168.17 L487.50,168.25 L488.00,168.33" fill="none" stroke="#f4c0c0" stroke-width="0.5"/><path d="M590.00,166.86 L590.50,166.77 L591.00,166.67 L591.50,166.56 L592.00,166.43 L592.50,166.28 L593.00,166.11 L593.50,165.91 L594.00,165.69 L594.50,165.45 L595.00,165.17 L595.50,164.86 L596.00,164.51 L596.50,164.12 L597.00,163.69 L597.50,163.21 L598.00,162.69 L598.50,162.11 L599.00,161.48 L599.50,160.79 L600.00,160.03 L600.50,159.22 L601.00,158.34 L601.50,157.39 L602.00,156.37 L602.50,155.28 L603.00,154.12 L603.50,152.89 L604.00,151.58 L604.50,150.21 L605.00,148.77 L605.50,147.26 L606.00,145.68 L606.50,144.05 L607.00,142.36 L607.50,140.62 L608.00,138.84 L608.50,137.03 L609.00,135.18 L609.50,133.32 L610.00,131.44 L610.50,129.56 L611.00,127.70 L611.50,125.85 L612.00,124.04 L612.50,122.27 L613.00,120.55 L613.50,118.90 L614.00,117.33 L614.50,115.84 L615.00,114.46 L615.50,113.18 L616.00,112.03 L616.50,111.00 L617.00,110.12 L617.50,109.37 L618.00,108.78 L618.50,108.34 L619.00,108.06 L619.50,107.94 L620.00,107.99 L620.50,108.20 L621.00,108.57 L621.50,109.10 L622.00,109.78 L622.50,110.62 L623.00,111.59 L623.50,112.71 L624.00,113.95 L624.50,115.32 L625.00,116.79 L625.50,118.36 L626.00,120.02 L626.50,121.76 L627.00,123.56 L627.50,125.41 L628.00,127.31 L628.50,129.24 L629.00,131.19 L629.50,133.14 L630.00,135.10 L630.50,137.04 L631.00,138.96 L631.50,140.85 L632.00,142.70 L632.50,144.51 L633.00,146.27 L633.50,147.97 L634.00,149.61 L634.50,151.18 L635.00,152.69 L635.50,154.12 L636.00,155.49 L636.50,156.77 L637.00,157.99 L637.50,159.13 L638.00,160.20 L638.50,161.20 L639.00,162.12 L639.50,162.98 L640.00,163.78 L640.50,164.51 L641.00,165.18 L641.50,165.80 L642.00,166.36 L642.50,166.87 L643.00,167.33 L643.50,167.75 L644.00,168.12 L644.50,168.46 L645.00,168.77 L645.50,169.04 L646.00,169.28 L646.50,169.50 L647.00,169.69 L647.50,169.85 L648.00,170.00 L648.50,170.13 L649.00,170.25 L649.50,170.35 L650.00,170.44 L650.50,170.51 L651.00,170.58 L651.50,170.63 L652.00,170.68" fill="none" stroke="#f4c0c0" stroke-width="0.5"/><path d="M581.00,167.31 L581.50,167.31 L582.00,167.31 L582.50,167.30 L583.00,167.30 L583.50,167.29 L584.00,167.28 L584.50,167.27 L585.00,167.26 L585.50,167.24 L586.00,167.22 L586.50,167.20 L587.00,167.18 L587.50,167.15 L588.00,167.11 L588.50,167.07 L589.00,167.02 L589.50,166.97 L590.00,166.91 L590.50,166.84 L591.00,166.76 L591.50,166.67 L592.00,166.58 L592.50,166.47 L593.00,166.35 L593.50,166.22 L594.00,166.08 L594.50,165.93 L595.00,165.77 L595.50,165.60 L596.00,165.41 L596.50,165.22 L597.00,165.02 L597.50,164.81 L598.00,164.59 L598.50,164.37 L599.00,164.14 L599.50,163.91 L600.00,163.68 L600.50,163.46 L601.00,163.24 L601.50,163.02 L602.00,162.82 L602.50,162.62 L603.00,162.44 L603.50,162.28 L604.00,162.13 L604.50,162.01 L605.00,161.91 L605.50,161.83 L606.00,161.77 L606.50,161.74 L607.00,161.74 L607.50,161.77 L608.00,161.82 L608.50,161.90 L609.00,162.01 L609.50,162.15 L610.00,162.30 L610.50,162.49 L611.00,162.69 L611.50,162.91 L612.00,163.15 L612.50,163.40 L613.00,163.67 L613.50,163.95 L614.00,164.23 L614.50,164.52 L615.00,164.82 L615.50,165.11 L616.00,165.41 L616.50,165.70 L617.00,165.98 L617.50,166.26 L618.00,166.53 L618.50,166.79 L619.00,167.05 L619.50,167.29 L620.00,167.52 L620.50,167.74 L621.00,167.94 L621.50,168.14 L622.00,168.32 L622.50,168.49 L623.00,168.65 L623.50,168.80 L624.00,168.94 L624.50,169.07 L625.00,169.19 L625.50,169.30 L626.00,169.40 L626.50,169.49 L627.00,169.58 L627.50,169.66 L628.00,169.74" fill="none" stroke="#a4ac58" stroke-width="0.8"/><path d="M474.00,168.19 L474.50,168.18 L475.00,168.17 L475.50,168.14 L476.00,168.11 L476.50,168.07 L477.00,168.02 L477.50,167.96 L478.00,167.90 L478.50,167.83 L479.00,167.75 L479.50,167.67 L480.00,167.59 L480.50,167.51 L481.00,167.43 L481.50,167.35 L482.00,167.28 L482.50,167.21 L483.00,167.16 L483.50,167.12 L484.00,167.09 L484.50,167.07 L485.00,167.07 L485.50,167.09 L486.00,167.12 L486.50,167.17 L487.00,167.22 L487.50,167.30 L488.00,167.38 L488.50,167.47 L489.00,167.56 L489.50,167.66 L490.00,167.76 L490.50,167.86 L491.00,167.96 L491.50,168.06 L492.00,168.15 L492.50,168.23 L493.00,168.31 L493.50,168.38 L494.00,168.44 L494.50,168.50 L495.00,168.55 L495.50,168.59 L496.00,168.62" fill="none" stroke="#8aaee0" stroke-width="0.7" stroke-dasharray="1.2,0.8"/><path d="M624.00,169.44 L624.50,169.46 L625.00,169.49 L625.50,169.51 L626.00,169.54 L626.50,169.55 L627.00,169.57 L627.50,169.58 L628.00,169.59 L628.50,169.59 L629.00,169.59 L629.50,169.59 L630.00,169.59 L630.50,169.58 L631.00,169.57 L631.50,169.55 L632.00,169.53 L632.50,169.52 L633.00,169.49 L633.50,169.47 L634.00,169.44 L634.50,169.42 L635.00,169.39 L635.50,169.36 L636.00,169.34 L636.50,169.31 L637.00,169.29 L637.50,169.27 L638.00,169.25 L638.50,169.23 L639.00,169.22 L639.50,169.21 L640.00,169.20 L640.50,169.20 L641.00,169.21 L641.50,169.21 L642.00,169.23 L642.50,169.25 L643.00,169.27 L643.50,169.30 L644.00,169.33 L644.50,169.37 L645.00,169.41 L645.50,169.46 L646.00,169.51 L646.50,169.56 L647.00,169.62 L647.50,169.68 L648.00,169.74 L648.50,169.80 L649.00,169.86 L649.50,169.93 L650.00,169.99 L650.50,170.05 L651.00,170.12 L651.50,170.18 L652.00,170.24 L652.50,170.29 L653.00,170.35 L653.50,170.40 L654.00,170.45 L654.50,170.50 L655.00,170.55 L655.50,170.59 L656.00,170.63 L656.50,170.66 L657.00,170.70 L657.50,170.73 L658.00,170.76 L658.50,170.78 L659.00,170.81 L659.50,170.83 L660.00,170.85" fill="none" stroke="#8aa0d0" stroke-width="0.7" stroke-dasharray="1.2,0.8"/><path d="M424.00,165.87 L424.50,165.87 L425.00,165.88 L425.50,165.88 L426.00,165.88 L426.50,165.89 L427.00,165.89 L427.50,165.89 L428.00,165.90 L428.50,165.90 L429.00,165.91 L429.50,165.91 L430.00,165.92 L430.50,165.92 L431.00,165.93 L431.50,165.93 L432.00,165.94 L432.50,165.95 L433.00,165.96 L433.50,165.97 L434.00,165.97 L434.50,165.98 L435.00,165.99 L435.50,166.00 L436.00,166.02 L436.50,166.03 L437.00,166.04 L437.50,166.05 L438.00,166.07 L438.50,166.08 L439.00,166.10 L439.50,166.11 L440.00,166.13 L440.50,166.15 L441.00,166.17 L441.50,166.19 L442.00,166.21 L442.50,166.23 L443.00,166.25 L443.50,166.27 L444.00,166.29 L444.50,166.32 L445.00,166.34 L445.50,166.37 L446.00,166.39 L446.50,166.42 L447.00,166.45 L447.50,166.48 L448.00,166.51 L448.50,166.54 L449.00,166.57 L449.50,166.60 L450.00,166.64 L450.50,166.67 L451.00,166.70 L451.50,166.74 L452.00,166.77 L452.50,166.81 L453.00,166.85 L453.50,166.88 L454.00,166.92 L454.50,166.96 L455.00,167.00 L455.50,167.04 L456.00,167.08 L456.50,167.12 L457.00,167.15 L457.50,167.19 L458.00,167.23 L458.50,167.27 L459.00,167.31 L459.50,167.35 L460.00,167.39 L460.50,167.43 L461.00,167.47 L461.50,167.51 L462.00,167.55 L462.50,167.59 L463.00,167.63 L463.50,167.67 L464.00,167.71 L464.50,167.75 L465.00,167.78 L465.50,167.82 L466.00,167.86 L466.50,167.89 L467.00,167.93 L467.50,167.96 L468.00,167.99 L468.50,168.03 L469.00,168.06 L469.50,168.09 L470.00,168.12 L470.50,168.15 L471.00,168.18 L471.50,168.21 L472.00,168.23 L472.50,168.26 L473.00,168.29 L473.50,168.31 L474.00,168.34 L474.50,168.36 L475.00,168.38 L475.50,168.40 L476.00,168.42 L476.50,168.44 L477.00,168.46 L477.50,168.48 L478.00,168.50 L478.50,168.52 L479.00,168.53 L479.50,168.55 L480.00,168.56 L480.50,168.58 L481.00,168.59 L481.50,168.60 L482.00,168.61 L482.50,168.63 L483.00,168.64 L483.50,168.65 L484.00,168.66 L484.50,168.66 L485.00,168.67 L485.50,168.68 L486.00,168.69 L486.50,168.70 L487.00,168.70 L487.50,168.71 L488.00,168.71 L488.50,168.72 L489.00,168.72 L489.50,168.73 L490.00,168.73 L490.50,168.74 L491.00,168.74 L491.50,168.74 L492.00,168.75 L492.50,168.75 L493.00,168.75 L493.50,168.76 L494.00,168.76 L494.50,168.76 L495.00,168.76 L495.50,168.76 L496.00,168.77 L496.50,168.77 L497.00,168.77" fill="none" stroke="#b0906c" stroke-width="0.85"/><path d="M580.00,167.33 L580.50,167.33 L581.00,167.33 L581.50,167.33 L582.00,167.33 L582.50,167.34 L583.00,167.34 L583.50,167.34 L584.00,167.34 L584.50,167.35 L585.00,167.35 L585.50,167.35 L586.00,167.36 L586.50,167.36 L587.00,167.36 L587.50,167.37 L588.00,167.37 L588.50,167.38 L589.00,167.39 L589.50,167.39 L590.00,167.40 L590.50,167.40 L591.00,167.41 L591.50,167.42 L592.00,167.43 L592.50,167.44 L593.00,167.45 L593.50,167.46 L594.00,167.47 L594.50,167.48 L595.00,167.49 L595.50,167.50 L596.00,167.52 L596.50,167.53 L597.00,167.55 L597.50,167.56 L598.00,167.58 L598.50,167.60 L599.00,167.62 L599.50,167.63 L600.00,167.65 L600.50,167.68 L601.00,167.70 L601.50,167.72 L602.00,167.74 L602.50,167.77 L603.00,167.79 L603.50,167.82 L604.00,167.85 L604.50,167.88 L605.00,167.91 L605.50,167.94 L606.00,167.97 L606.50,168.00 L607.00,168.03 L607.50,168.07 L608.00,168.10 L608.50,168.14 L609.00,168.18 L609.50,168.22 L610.00,168.26 L610.50,168.30 L611.00,168.34 L611.50,168.38 L612.00,168.42 L612.50,168.46 L613.00,168.51 L613.50,168.55 L614.00,168.60 L614.50,168.64 L615.00,168.69 L615.50,168.74 L616.00,168.78 L616.50,168.83 L617.00,168.88 L617.50,168.93 L618.00,168.97 L618.50,169.02 L619.00,169.07 L619.50,169.12 L620.00,169.17 L620.50,169.22 L621.00,169.27 L621.50,169.32 L622.00,169.36 L622.50,169.41 L623.00,169.46 L623.50,169.51 L624.00,169.56 L624.50,169.60 L625.00,169.65 L625.50,169.69 L626.00,169.74 L626.50,169.78 L627.00,169.83 L627.50,169.87 L628.00,169.91 L628.50,169.95 L629.00,170.00 L629.50,170.04 L630.00,170.07 L630.50,170.11 L631.00,170.15 L631.50,170.19 L632.00,170.22 L632.50,170.26 L633.00,170.29 L633.50,170.32 L634.00,170.35 L634.50,170.38 L635.00,170.41 L635.50,170.44 L636.00,170.47 L636.50,170.50 L637.00,170.52 L637.50,170.55 L638.00,170.57 L638.50,170.59 L639.00,170.62 L639.50,170.64 L640.00,170.66 L640.50,170.68 L641.00,170.69 L641.50,170.71 L642.00,170.73 L642.50,170.74 L643.00,170.76 L643.50,170.77 L644.00,170.79 L644.50,170.80 L645.00,170.81 L645.50,170.82 L646.00,170.83 L646.50,170.84 L647.00,170.85 L647.50,170.86 L648.00,170.87 L648.50,170.88 L649.00,170.89 L649.50,170.89 L650.00,170.90 L650.50,170.91 L651.00,170.91 L651.50,170.92 L652.00,170.92 L652.50,170.93 L653.00,170.93 L653.50,170.94 L654.00,170.94 L654.50,170.94 L655.00,170.95 L655.50,170.95 L656.00,170.95 L656.50,170.95 L657.00,170.96 L657.50,170.96 L658.00,170.96 L658.50,170.96 L659.00,170.96 L659.50,170.97 L660.00,170.97 L660.50,170.97 L661.00,170.97 L661.50,170.97 L662.00,170.97 L662.50,170.97 L663.00,170.97 L663.50,170.97 L664.00,170.97 L664.50,170.98 L665.00,170.98 L665.50,170.98 L666.00,170.98 L666.50,170.98 L667.00,170.98 L667.50,170.98 L668.00,170.98" fill="none" stroke="#b0906c" stroke-width="0.85"/><path d="M456.00,211.25 L456.50,211.28 L457.00,211.31 L457.50,211.33 L458.00,211.36 L458.50,211.38 L459.00,211.40 L459.50,211.42 L460.00,211.44 L460.50,211.45 L461.00,211.47 L461.50,211.48 L462.00,211.49 L462.50,211.50 L463.00,211.51 L463.50,211.51 L464.00,211.52 L464.50,211.52 L465.00,211.52 L465.50,211.52 L466.00,211.52 L466.50,211.51 L467.00,211.51 L467.50,211.50 L468.00,211.49 L468.50,211.49 L469.00,211.48 L469.50,211.47 L470.00,211.46 L470.50,211.45 L471.00,211.44 L471.50,211.43 L472.00,211.43 L472.50,211.42 L473.00,211.42 L473.50,211.41 L474.00,211.41 L474.50,211.41 L475.00,211.41 L475.50,211.42 L476.00,211.42 L476.50,211.43 L477.00,211.45 L477.50,211.46 L478.00,211.48 L478.50,211.50 L479.00,211.52 L479.50,211.54 L480.00,211.57 L480.50,211.60 L481.00,211.63 L481.50,211.67 L482.00,211.71 L482.50,211.75 L483.00,211.79 L483.50,211.83 L484.00,211.87 L484.50,211.92 L485.00,211.97 L485.50,212.01 L486.00,212.06 L486.50,212.11 L487.00,212.16 L487.50,212.21 L488.00,212.26 L488.50,212.31 L489.00,212.35 L489.50,212.40 L490.00,212.45 L490.50,212.49 L491.00,212.54 L491.50,212.58 L492.00,212.62 L492.50,212.66 L493.00,212.70 L493.50,212.73 L494.00,212.77 L494.50,212.80 L495.00,212.83 L495.50,212.86 L496.00,212.89 L496.50,212.91 L497.00,212.94 L497.00,213.17 L496.50,213.17 L496.00,213.17 L495.50,213.16 L495.00,213.16 L494.50,213.16 L494.00,213.16 L493.50,213.15 L493.00,213.15 L492.50,213.15 L492.00,213.14 L491.50,213.14 L491.00,213.14 L490.50,213.13 L490.00,213.13 L489.50,213.12 L489.00,213.12 L488.50,213.11 L488.00,213.11 L487.50,213.10 L487.00,213.09 L486.50,213.09 L486.00,213.08 L485.50,213.07 L485.00,213.06 L484.50,213.05 L484.00,213.04 L483.50,213.03 L483.00,213.02 L482.50,213.01 L482.00,213.00 L481.50,212.99 L481.00,212.97 L480.50,212.96 L480.00,212.94 L479.50,212.93 L479.00,212.91 L478.50,212.89 L478.00,212.88 L477.50,212.86 L477.00,212.84 L476.50,212.82 L476.00,212.80 L475.50,212.78 L475.00,212.75 L474.50,212.73 L474.00,212.70 L473.50,212.68 L473.00,212.65 L472.50,212.62 L472.00,212.60 L471.50,212.57 L471.00,212.54 L470.50,212.51 L470.00,212.48 L469.50,212.44 L469.00,212.41 L468.50,212.38 L468.00,212.34 L467.50,212.31 L467.00,212.27 L466.50,212.23 L466.00,212.20 L465.50,212.16 L465.00,212.12 L464.50,212.08 L464.00,212.04 L463.50,212.00 L463.00,211.96 L462.50,211.92 L462.00,211.88 L461.50,211.84 L461.00,211.80 L460.50,211.76 L460.00,211.71 L459.50,211.67 L459.00,211.63 L458.50,211.59 L458.00,211.54 L457.50,211.50 L457.00,211.46 L456.50,211.42 L456.00,211.38 Z" fill="#dfe3a0" stroke="#c4c870" stroke-width="0.5"/><path d="M432.00,209.32 L432.50,209.20 L433.00,209.06 L433.50,208.90 L434.00,208.72 L434.50,208.52 L435.00,208.29 L435.50,208.03 L436.00,207.75 L436.50,207.43 L437.00,207.08 L437.50,206.70 L438.00,206.27 L438.50,205.81 L439.00,205.30 L439.50,204.74 L440.00,204.14 L440.50,203.49 L441.00,202.79 L441.50,202.04 L442.00,201.24 L442.50,200.38 L443.00,199.48 L443.50,198.51 L444.00,197.50 L444.50,196.44 L445.00,195.33 L445.50,194.18 L446.00,192.98 L446.50,191.74 L447.00,190.47 L447.50,189.17 L448.00,187.85 L448.50,186.51 L449.00,185.15 L449.50,183.79 L450.00,182.44 L450.50,181.10 L451.00,179.77 L451.50,178.48 L452.00,177.22 L452.50,176.00 L453.00,174.84 L453.50,173.74 L454.00,172.71 L454.50,171.76 L455.00,170.90 L455.50,170.12 L456.00,169.45 L456.50,168.88 L457.00,168.42 L457.50,168.07 L458.00,167.84 L458.50,167.73 L459.00,167.73 L459.50,167.86 L460.00,168.10 L460.50,168.47 L461.00,168.94 L461.50,169.53 L462.00,170.23 L462.50,171.02 L463.00,171.92 L463.50,172.90 L464.00,173.96 L464.50,175.10 L465.00,176.30 L465.50,177.56 L466.00,178.87 L466.50,180.22 L467.00,181.60 L467.50,183.01 L468.00,184.42 L468.50,185.85 L469.00,187.27 L469.50,188.69 L470.00,190.09 L470.50,191.47 L471.00,192.82 L471.50,194.14 L472.00,195.41 L472.50,196.65 L473.00,197.84 L473.50,198.99 L474.00,200.08 L474.50,201.12 L475.00,202.11 L475.50,203.04 L476.00,203.92 L476.50,204.74 L477.00,205.51 L477.50,206.23 L478.00,206.90 L478.50,207.52 L479.00,208.09 L479.50,208.61 L480.00,209.09 L480.50,209.53 L481.00,209.93 L481.50,210.29 L482.00,210.62 L482.50,210.92 L483.00,211.19 L483.50,211.43 L484.00,211.64 L484.50,211.83 L485.00,212.00 L485.50,212.15 L486.00,212.29 L486.50,212.40 L487.00,212.51 L487.50,212.60 L488.00,212.68" fill="none" stroke="#f4c0c0" stroke-width="0.5"/><path d="M590.00,210.02 L590.50,209.85 L591.00,209.65 L591.50,209.43 L592.00,209.19 L592.50,208.91 L593.00,208.60 L593.50,208.26 L594.00,207.88 L594.50,207.46 L595.00,206.99 L595.50,206.48 L596.00,205.92 L596.50,205.31 L597.00,204.64 L597.50,203.92 L598.00,203.13 L598.50,202.29 L599.00,201.38 L599.50,200.40 L600.00,199.36 L600.50,198.25 L601.00,197.07 L601.50,195.83 L602.00,194.52 L602.50,193.14 L603.00,191.70 L603.50,190.19 L604.00,188.63 L604.50,187.01 L605.00,185.34 L605.50,183.63 L606.00,181.88 L606.50,180.09 L607.00,178.28 L607.50,176.46 L608.00,174.62 L608.50,172.78 L609.00,170.96 L609.50,169.15 L610.00,167.38 L610.50,165.64 L611.00,163.96 L611.50,162.33 L612.00,160.78 L612.50,159.31 L613.00,157.94 L613.50,156.66 L614.00,155.50 L614.50,154.46 L615.00,153.54 L615.50,152.76 L616.00,152.12 L616.50,151.63 L617.00,151.28 L617.50,151.09 L618.00,151.05 L618.50,151.17 L619.00,151.44 L619.50,151.86 L620.00,152.44 L620.50,153.16 L621.00,154.02 L621.50,155.02 L622.00,156.14 L622.50,157.39 L623.00,158.75 L623.50,160.21 L624.00,161.77 L624.50,163.41 L625.00,165.13 L625.50,166.90 L626.00,168.73 L626.50,170.61 L627.00,172.51 L627.50,174.43 L628.00,176.37 L628.50,178.30 L629.00,180.23 L629.50,182.14 L630.00,184.02 L630.50,185.87 L631.00,187.68 L631.50,189.45 L632.00,191.17 L632.50,192.82 L633.00,194.42 L633.50,195.96 L634.00,197.43 L634.50,198.83 L635.00,200.16 L635.50,201.42 L636.00,202.61 L636.50,203.73 L637.00,204.79 L637.50,205.77 L638.00,206.69 L638.50,207.54 L639.00,208.33 L639.50,209.06 L640.00,209.74 L640.50,210.35 L641.00,210.92 L641.50,211.44 L642.00,211.91 L642.50,212.34 L643.00,212.73 L643.50,213.08 L644.00,213.39 L644.50,213.68 L645.00,213.93 L645.50,214.16 L646.00,214.36 L646.50,214.54 L647.00,214.70 L647.50,214.84 L648.00,214.97 L648.50,215.08 L649.00,215.18 L649.50,215.26 L650.00,215.34 L650.50,215.40 L651.00,215.46 L651.50,215.51 L652.00,215.55" fill="none" stroke="#f4c0c0" stroke-width="0.5"/><path d="M474.00,212.56 L474.50,212.55 L475.00,212.54 L475.50,212.51 L476.00,212.48 L476.50,212.44 L477.00,212.39 L477.50,212.34 L478.00,212.28 L478.50,212.21 L479.00,212.13 L479.50,212.05 L480.00,211.97 L480.50,211.89 L481.00,211.81 L481.50,211.73 L482.00,211.66 L482.50,211.60 L483.00,211.55 L483.50,211.50 L484.00,211.48 L484.50,211.46 L485.00,211.46 L485.50,211.48 L486.00,211.51 L486.50,211.56 L487.00,211.62 L487.50,211.69 L488.00,211.77 L488.50,211.86 L489.00,211.96 L489.50,212.06 L490.00,212.16 L490.50,212.26 L491.00,212.36 L491.50,212.45 L492.00,212.54 L492.50,212.63 L493.00,212.71 L493.50,212.78 L494.00,212.84 L494.50,212.90 L495.00,212.94 L495.50,212.99 L496.00,213.02" fill="none" stroke="#8aaee0" stroke-width="0.7" stroke-dasharray="1.2,0.8"/><path d="M624.00,214.04 L624.50,214.08 L625.00,214.12 L625.50,214.15 L626.00,214.18 L626.50,214.21 L627.00,214.23 L627.50,214.25 L628.00,214.27 L628.50,214.28 L629.00,214.29 L629.50,214.29 L630.00,214.29 L630.50,214.29 L631.00,214.28 L631.50,214.28 L632.00,214.26 L632.50,214.25 L633.00,214.23 L633.50,214.21 L634.00,214.19 L634.50,214.17 L635.00,214.15 L635.50,214.13 L636.00,214.11 L636.50,214.08 L637.00,214.06 L637.50,214.05 L638.00,214.03 L638.50,214.02 L639.00,214.01 L639.50,214.00 L640.00,214.00 L640.50,214.00 L641.00,214.01 L641.50,214.02 L642.00,214.03 L642.50,214.05 L643.00,214.08 L643.50,214.11 L644.00,214.15 L644.50,214.19 L645.00,214.23 L645.50,214.28 L646.00,214.33 L646.50,214.39 L647.00,214.44 L647.50,214.50 L648.00,214.56 L648.50,214.63 L649.00,214.69 L649.50,214.76 L650.00,214.82 L650.50,214.88 L651.00,214.95 L651.50,215.01 L652.00,215.07 L652.50,215.13 L653.00,215.18 L653.50,215.24 L654.00,215.29 L654.50,215.34 L655.00,215.38 L655.50,215.43 L656.00,215.47 L656.50,215.50 L657.00,215.54 L657.50,215.57 L658.00,215.60 L658.50,215.62 L659.00,215.65 L659.50,215.67 L660.00,215.69" fill="none" stroke="#b8c860" stroke-width="0.7" stroke-dasharray="1.2,0.8"/><path d="M424.00,210.09 L424.50,210.09 L425.00,210.09 L425.50,210.09 L426.00,210.10 L426.50,210.10 L427.00,210.11 L427.50,210.11 L428.00,210.11 L428.50,210.12 L429.00,210.12 L429.50,210.13 L430.00,210.14 L430.50,210.14 L431.00,210.15 L431.50,210.16 L432.00,210.17 L432.50,210.17 L433.00,210.18 L433.50,210.19 L434.00,210.20 L434.50,210.21 L435.00,210.22 L435.50,210.24 L436.00,210.25 L436.50,210.26 L437.00,210.27 L437.50,210.29 L438.00,210.30 L438.50,210.32 L439.00,210.34 L439.50,210.35 L440.00,210.37 L440.50,210.39 L441.00,210.41 L441.50,210.43 L442.00,210.45 L442.50,210.48 L443.00,210.50 L443.50,210.52 L444.00,210.55 L444.50,210.57 L445.00,210.60 L445.50,210.63 L446.00,210.66 L446.50,210.69 L447.00,210.72 L447.50,210.75 L448.00,210.78 L448.50,210.81 L449.00,210.84 L449.50,210.88 L450.00,210.91 L450.50,210.95 L451.00,210.98 L451.50,211.02 L452.00,211.06 L452.50,211.10 L453.00,211.14 L453.50,211.18 L454.00,211.21 L454.50,211.26 L455.00,211.30 L455.50,211.34 L456.00,211.38 L456.50,211.42 L457.00,211.46 L457.50,211.50 L458.00,211.54 L458.50,211.59 L459.00,211.63 L459.50,211.67 L460.00,211.71 L460.50,211.76 L461.00,211.80 L461.50,211.84 L462.00,211.88 L462.50,211.92 L463.00,211.96 L463.50,212.00 L464.00,212.04 L464.50,212.08 L465.00,212.12 L465.50,212.16 L466.00,212.20 L466.50,212.23 L467.00,212.27 L467.50,212.31 L468.00,212.34 L468.50,212.38 L469.00,212.41 L469.50,212.44 L470.00,212.48 L470.50,212.51 L471.00,212.54 L471.50,212.57 L472.00,212.60 L472.50,212.62 L473.00,212.65 L473.50,212.68 L474.00,212.70 L474.50,212.73 L475.00,212.75 L475.50,212.78 L476.00,212.80 L476.50,212.82 L477.00,212.84 L477.50,212.86 L478.00,212.88 L478.50,212.89 L479.00,212.91 L479.50,212.93 L480.00,212.94 L480.50,212.96 L481.00,212.97 L481.50,212.99 L482.00,213.00 L482.50,213.01 L483.00,213.02 L483.50,213.03 L484.00,213.04 L484.50,213.05 L485.00,213.06 L485.50,213.07 L486.00,213.08 L486.50,213.09 L487.00,213.09 L487.50,213.10 L488.00,213.11 L488.50,213.11 L489.00,213.12 L489.50,213.12 L490.00,213.13 L490.50,213.13 L491.00,213.14 L491.50,213.14 L492.00,213.14 L492.50,213.15 L493.00,213.15 L493.50,213.15 L494.00,213.16 L494.50,213.16 L495.00,213.16 L495.50,213.16 L496.00,213.17 L496.50,213.17 L497.00,213.17" fill="none" stroke="#b0906c" stroke-width="0.85"/><path d="M580.00,211.13 L580.50,211.13 L581.00,211.14 L581.50,211.14 L582.00,211.14 L582.50,211.15 L583.00,211.15 L583.50,211.16 L584.00,211.16 L584.50,211.17 L585.00,211.17 L585.50,211.18 L586.00,211.19 L586.50,211.20 L587.00,211.20 L587.50,211.21 L588.00,211.22 L588.50,211.23 L589.00,211.24 L589.50,211.25 L590.00,211.26 L590.50,211.27 L591.00,211.29 L591.50,211.30 L592.00,211.32 L592.50,211.33 L593.00,211.35 L593.50,211.36 L594.00,211.38 L594.50,211.40 L595.00,211.42 L595.50,211.44 L596.00,211.46 L596.50,211.48 L597.00,211.51 L597.50,211.53 L598.00,211.56 L598.50,211.59 L599.00,211.61 L599.50,211.64 L600.00,211.67 L600.50,211.70 L601.00,211.74 L601.50,211.77 L602.00,211.81 L602.50,211.84 L603.00,211.88 L603.50,211.92 L604.00,211.96 L604.50,212.00 L605.00,212.04 L605.50,212.08 L606.00,212.13 L606.50,212.17 L607.00,212.22 L607.50,212.27 L608.00,212.32 L608.50,212.37 L609.00,212.42 L609.50,212.47 L610.00,212.52 L610.50,212.57 L611.00,212.63 L611.50,212.68 L612.00,212.74 L612.50,212.80 L613.00,212.85 L613.50,212.91 L614.00,212.97 L614.50,213.03 L615.00,213.09 L615.50,213.15 L616.00,213.21 L616.50,213.27 L617.00,213.33 L617.50,213.39 L618.00,213.45 L618.50,213.51 L619.00,213.57 L619.50,213.63 L620.00,213.69 L620.50,213.75 L621.00,213.81 L621.50,213.87 L622.00,213.93 L622.50,213.99 L623.00,214.05 L623.50,214.11 L624.00,214.16 L624.50,214.22 L625.00,214.28 L625.50,214.33 L626.00,214.38 L626.50,214.44 L627.00,214.49 L627.50,214.54 L628.00,214.59 L628.50,214.64 L629.00,214.69 L629.50,214.73 L630.00,214.78 L630.50,214.82 L631.00,214.87 L631.50,214.91 L632.00,214.95 L632.50,214.99 L633.00,215.03 L633.50,215.07 L634.00,215.10 L634.50,215.14 L635.00,215.17 L635.50,215.21 L636.00,215.24 L636.50,215.27 L637.00,215.30 L637.50,215.33 L638.00,215.35 L638.50,215.38 L639.00,215.40 L639.50,215.43 L640.00,215.45 L640.50,215.47 L641.00,215.49 L641.50,215.51 L642.00,215.53 L642.50,215.55 L643.00,215.57 L643.50,215.58 L644.00,215.60 L644.50,215.61 L645.00,215.63 L645.50,215.64 L646.00,215.65 L646.50,215.67 L647.00,215.68 L647.50,215.69 L648.00,215.70 L648.50,215.71 L649.00,215.71 L649.50,215.72 L650.00,215.73 L650.50,215.74 L651.00,215.74 L651.50,215.75 L652.00,215.76 L652.50,215.76 L653.00,215.77 L653.50,215.77 L654.00,215.78 L654.50,215.78 L655.00,215.78 L655.50,215.79 L656.00,215.79 L656.50,215.79 L657.00,215.80 L657.50,215.80 L658.00,215.80 L658.50,215.80 L659.00,215.80 L659.50,215.81 L660.00,215.81 L660.50,215.81 L661.00,215.81 L661.50,215.81 L662.00,215.81 L662.50,215.81 L663.00,215.81 L663.50,215.82 L664.00,215.82 L664.50,215.82 L665.00,215.82 L665.50,215.82 L666.00,215.82 L666.50,215.82 L667.00,215.82 L667.50,215.82 L668.00,215.82" fill="none" stroke="#b0906c" stroke-width="0.85"/><path d="M374.00,79.91 L374.50,80.09 L375.00,80.18 L375.50,80.14 L376.00,79.98 L376.50,79.77 L377.00,79.57 L377.50,79.43 L378.00,79.37 L378.50,79.31 L379.00,79.26 L379.50,79.24 L380.00,79.24 L380.50,79.25 L381.00,79.27 L381.50,79.30 L382.00,79.31 L382.50,79.28 L383.00,79.31 L383.50,79.34 L384.00,79.37 L384.50,79.47 L385.00,79.64 L385.50,79.79 L386.00,79.84 L386.50,79.75 L387.00,79.60 L387.50,79.48 L388.00,79.49 L388.50,79.62 L389.00,79.81 L389.50,79.93 L390.00,79.96 L390.50,79.84 L391.00,79.70 L391.50,79.56 L392.00,79.45 L392.50,79.48 L393.00,79.56 L393.50,79.62 L394.00,79.65 L394.50,79.61 L395.00,79.49 L395.50,79.36 L396.00,79.26 L396.50,79.20 L397.00,79.17 L397.50,79.14 L398.00,79.10 L398.50,78.98 L399.00,78.84 L399.50,78.73 L400.00,78.67 L400.50,78.69 L401.00,78.73 L401.50,78.75 L402.00,78.76 L402.50,78.74 L403.00,78.71 L403.50,78.62 L404.00,78.51 L404.50,78.46 L405.00,78.52 L405.50,78.64 L406.00,78.80 L406.50,78.95 L407.00,79.01 L407.50,78.96 L408.00,78.86 L408.50,78.73 L409.00,78.59 L409.50,78.48 L410.00,78.45 L410.50,78.48 L411.00,78.53 L411.50,78.59 L412.00,78.61 L412.50,78.61 L413.00,78.62 L413.50,78.61 L414.00,78.64 L414.50,78.66 L415.00,78.57 L415.50,78.45 L416.00,78.36 L416.50,78.36 L417.00,78.41 L417.50,78.49 L418.00,78.54 L418.50,78.52 L419.00,78.49 L419.50,78.54 L420.00,78.65 L420.50,78.81 L421.00,78.93 L421.50,78.91 L422.00,78.78 L422.50,78.58 L423.00,78.38 L423.50,78.26 L424.00,78.24 L424.50,78.28 L425.00,78.27 L425.50,78.27 L426.00,78.24 L426.50,78.23 L427.00,78.25 L427.50,78.26 L428.00,78.20 L428.50,78.02 L429.00,77.83 L429.50,77.67 L430.00,77.58 L430.50,77.52 L431.00,77.40 L431.50,77.22 L432.00,76.94 L432.50,76.61 L433.00,76.33 L433.50,76.06 L434.00,75.82 L434.50,75.51 L435.00,75.12 L435.50,74.66 L436.00,74.15 L436.50,73.65 L437.00,73.19 L437.50,72.76 L438.00,72.36 L438.50,71.97 L439.00,71.56 L439.50,71.13 L440.00,70.66 L440.50,70.14 L441.00,69.57 L441.50,68.94 L442.00,68.26 L442.50,67.55 L443.00,66.80 L443.50,66.03 L444.00,65.25 L444.50,64.47 L445.00,63.65 L445.50,62.78 L446.00,61.84 L446.50,60.82 L447.00,59.76 L447.50,58.69 L448.00,57.61 L448.50,56.53 L449.00,55.43 L449.50,54.32 L450.00,53.17 L450.50,51.97 L451.00,50.74 L451.50,49.49 L452.00,48.24 L452.50,47.01 L453.00,45.83 L453.50,44.69 L454.00,43.60 L454.50,42.56 L455.00,41.57 L455.50,40.60 L456.00,39.67 L456.50,38.80 L457.00,37.99 L457.50,37.30 L458.00,36.73 L458.50,36.29 L459.00,35.98 L459.50,35.83 L460.00,35.89 L460.50,36.27 L461.00,36.62 L461.50,36.98 L462.00,37.35 L462.50,37.78 L463.00,38.31 L463.50,38.94 L464.00,39.70 L464.50,40.56 L465.00,41.53 L465.50,42.56 L466.00,43.67 L466.50,44.84 L467.00,46.07 L467.50,47.33 L468.00,48.60 L468.50,49.88 L469.00,51.15 L469.50,52.41 L470.00,53.65 L470.50,54.87 L471.00,56.06 L471.50,57.22 L472.00,58.38 L472.50,59.52 L473.00,60.62 L473.50,61.68 L474.00,62.70 L474.50,63.68 L475.00,64.61 L475.50,65.51 L476.00,66.35 L476.50,67.16 L477.00,67.93 L477.50,68.70 L478.00,69.45 L478.50,70.18 L479.00,70.88 L479.50,71.53 L480.00,72.13 L480.50,72.71 L481.00,73.27 L481.50,73.83 L482.00,74.35 L482.50,74.84 L483.00,75.28 L483.50,75.68 L484.00,76.08 L484.50,76.47 L485.00,76.88 L485.50,77.30 L486.00,77.67 L486.50,77.99 L487.00,78.25 L487.50,78.51 L488.00,78.79 L488.50,79.10 L489.00,79.40 L489.50,79.62 L490.00,79.78 L490.50,79.90 L491.00,80.01 L491.50,80.13 L492.00,80.25 L492.50,80.36 L493.00,80.40 L493.50,80.43 L494.00,80.50 L494.50,80.63 L495.00,80.88 L495.50,81.19 L496.00,81.53 L496.50,81.78 L497.00,81.91 L497.50,81.93 L498.00,81.82 L498.50,81.66 L499.00,81.59 L499.50,81.62 L500.00,81.71 L500.50,81.85 L501.00,81.95 L501.50,82.01 L502.00,82.04 L502.50,82.14 L503.00,82.27 L503.50,82.39 L504.00,82.45 L504.50,82.46 L505.00,82.40 L505.50,82.38 L506.00,82.40 L506.50,82.49 L507.00,82.57 L507.50,82.60 L508.00,82.55 L508.50,82.43 L509.00,82.32 L509.50,82.26 L510.00,82.28 L510.50,82.41 L511.00,82.60 L511.50,82.83 L512.00,83.02 L512.50,83.14 L513.00,83.15 L513.50,83.09 L514.00,83.05 L514.50,83.09 L515.00,83.23 L515.50,83.39 L516.00,83.52 L516.50,83.64 L517.00,83.72 L517.50,83.84 L518.00,83.92 L518.50,84.01 L519.00,84.06 L519.50,84.04 L520.00,83.95 L520.50,83.87 L521.00,83.85 L521.50,83.93 L522.00,84.05 L522.50,84.22 L523.00,84.32 L523.50,84.25 L524.00,84.04 L524.50,83.76 L525.00,83.50 L525.50,83.44 L526.00,83.59 L526.50,83.96 L527.00,84.40 L527.50,84.72 L528.00,84.86 L528.50,84.75 L529.00,84.48 L529.50,84.22 L530.00,84.03 L530.50,84.00 L531.00,84.08 L531.50,84.16 L532.00,84.19 L532.50,84.19 L533.00,84.16 L533.50,84.12 L534.00,84.00 L534.50,83.83 L535.00,83.67 L535.50,83.52 L536.00,83.48 L536.50,83.46 L537.00,83.43 L537.50,83.37 L538.00,83.23 L538.50,83.10 L539.00,82.96 L539.50,82.79 L540.00,82.69 L540.50,82.57 L541.00,82.46 L541.50,82.33 L542.00,82.22 L542.50,82.15 L543.00,82.08 L543.50,82.07 L544.00,82.11 L544.50,82.15 L545.00,82.22 L545.50,82.27 L546.00,82.25 L546.50,82.17 L547.00,82.00 L547.50,81.81 L548.00,81.60 L548.50,81.48 L549.00,81.48 L549.50,81.52 L550.00,81.55 L550.50,81.51 L551.00,81.41 L551.50,81.33 L552.00,81.29 L552.50,81.28 L553.00,81.28 L553.50,81.26 L554.00,81.24 L554.50,81.16 L555.00,81.10 L555.50,81.03 L556.00,81.00 L556.50,81.06 L557.00,81.15 L557.50,81.20 L558.00,81.15 L558.50,81.01 L559.00,80.81 L559.50,80.64 L560.00,80.64 L560.50,80.71 L561.00,80.75 L561.50,80.78 L562.00,80.75 L562.50,80.64 L563.00,80.51 L563.50,80.44 L564.00,80.47 L564.50,80.55 L565.00,80.69 L565.50,80.87 L566.00,80.99 L566.50,81.01 L567.00,80.90 L567.50,80.66 L568.00,80.33 L568.50,80.07 L569.00,79.87 L569.50,79.85 L570.00,79.84 L570.50,79.85 L571.00,79.83 L571.50,79.88 L572.00,80.03 L572.50,80.22 L573.00,80.41 L573.50,80.60 L574.00,80.66 L574.50,80.65 L575.00,80.53 L575.50,80.38 L576.00,80.13 L576.50,79.86 L577.00,79.67 L577.50,79.58 L578.00,79.66 L578.50,79.82 L579.00,80.01 L579.50,80.13 L580.00,80.09 L580.50,79.99 L581.00,79.86 L581.50,79.79 L582.00,79.79 L582.50,79.86 L583.00,79.95 L583.50,79.97 L584.00,79.96 L584.50,79.94 L585.00,79.94 L585.50,79.91 L586.00,79.82 L586.50,79.62 L587.00,79.35 L587.50,79.09 L588.00,78.91 L588.50,78.80 L589.00,78.76 L589.50,78.73 L590.00,78.70 L590.50,78.62 L591.00,78.48 L591.50,78.26 L592.00,78.00 L592.50,77.67 L593.00,77.27 L593.50,76.86 L594.00,76.45 L594.50,76.08 L595.00,75.69 L595.50,75.29 L596.00,74.83 L596.50,74.28 L597.00,73.69 L597.50,73.06 L598.00,72.39 L598.50,71.73 L599.00,71.04 L599.50,70.34 L600.00,69.59 L600.50,68.81 L601.00,67.98 L601.50,67.12 L602.00,66.20 L602.50,65.23 L603.00,64.17 L603.50,63.08 L604.00,61.93 L604.50,60.75 L605.00,59.52 L605.50,58.26 L606.00,56.95 L606.50,55.62 L607.00,54.24 L607.50,52.82 L608.00,51.34 L608.50,49.81 L609.00,48.25 L609.50,46.66 L610.00,45.04 L610.50,43.43 L611.00,41.80 L611.50,40.16 L612.00,38.52 L612.50,36.89 L613.00,35.27 L613.50,33.68 L614.00,32.14 L614.50,30.64 L615.00,29.21 L615.50,27.85 L616.00,26.55 L616.50,25.30 L617.00,24.12 L617.50,22.99 L618.00,21.96 L618.50,21.06 L619.00,20.29 L619.50,19.67 L620.00,19.22 L620.50,18.93 L621.00,18.81 L621.50,18.97 L622.00,19.26 L622.50,19.64 L623.00,20.14 L623.50,20.79 L624.00,21.58 L624.50,22.50 L625.00,23.55 L625.50,24.70 L626.00,25.95 L626.50,27.29 L627.00,28.71 L627.50,30.22 L628.00,31.80 L628.50,33.44 L629.00,35.10 L629.50,36.80 L630.00,38.51 L630.50,40.24 L631.00,42.01 L631.50,43.80 L632.00,45.59 L632.50,47.34 L633.00,49.06 L633.50,50.74 L634.00,52.39 L634.50,53.99 L635.00,55.54 L635.50,57.02 L636.00,58.44 L636.50,59.81 L637.00,61.12 L637.50,62.38 L638.00,63.60 L638.50,64.77 L639.00,65.90 L639.50,66.98 L640.00,67.99 L640.50,68.93 L641.00,69.81 L641.50,70.63 L642.00,71.43 L642.50,72.19 L643.00,72.90 L643.50,73.58 L644.00,74.22 L644.50,74.84 L645.00,75.46 L645.50,76.05 L646.00,76.61 L646.50,77.12 L647.00,77.59 L647.50,78.02 L648.00,78.43 L648.50,78.88 L649.00,79.31 L649.50,79.70 L650.00,80.06 L650.50,80.36 L651.00,80.62 L651.50,80.89 L652.00,81.17 L652.50,81.40 L653.00,81.58 L653.50,81.67 L654.00,81.71 L654.50,81.77 L655.00,81.92 L655.50,82.09 L656.00,82.28 L656.50,82.47 L657.00,82.65 L657.50,82.80 L658.00,82.91 L658.50,83.02 L659.00,83.07 L659.50,83.11 L660.00,83.14 L660.50,83.11 L661.00,83.05 L661.50,82.95 L662.00,82.93 L662.50,82.99 L663.00,83.11 L663.50,83.24 L664.00,83.26 L664.50,83.25 L665.00,83.19 L665.50,83.12 L666.00,83.14 L666.50,83.11 L667.00,83.03 L667.50,82.82 L668.00,82.61 L668.50,82.51 L669.00,82.52 L669.50,82.70 L670.00,82.92 L670.50,83.09 L671.00,83.20 L671.50,83.21 L672.00,83.22 L672.50,83.23 L673.00,83.17 L673.50,83.07 L674.00,83.02 L674.50,83.00 L675.00,83.03 L675.50,83.10 L676.00,83.18 L676.50,83.24 L677.00,83.27 L677.50,83.29 L678.00,83.36 L678.50,83.40 L679.00,83.45 L679.50,83.52 L680.00,83.61 L680.50,83.73 L681.00,83.79 L681.50,83.83 L682.00,83.88 L682.50,83.93 L683.00,84.00 L683.50,84.08 L684.00,84.07 L684.50,84.03 L685.00,83.94 L685.50,83.91 L686.00,83.94 L686.50,84.00 L687.00,84.05 L687.50,84.04 L688.00,83.94 L688.50,83.86 L689.00,83.80 L689.50,83.80 L690.00,83.83 L690.50,83.92 L691.00,83.97 L691.50,83.92 L692.00,83.79 L692.50,83.59 L693.00,83.43 L693.50,83.40 L694.00,83.49 L694.50,83.63 L695.00,83.77 L695.50,83.85 L696.00,83.90 L696.50,83.88 L697.00,83.85 L697.50,83.80 L698.00,83.71 L698.50,83.63 L699.00,83.54 L699.50,83.45 L700.00,83.44 L700.50,83.46 L701.00,83.50 L701.50,83.55 L702.00,83.60 L702.50,83.61 L703.00,83.58 L703.50,83.51 L704.00,83.40 L704.50,83.24" fill="none" stroke="#1a1a1a" stroke-width="1.15" stroke-linejoin="round"/><path d="M374.00,124.45 L374.50,124.37 L375.00,124.36 L375.50,124.36 L376.00,124.39 L376.50,124.42 L377.00,124.46 L377.50,124.48 L378.00,124.49 L378.50,124.46 L379.00,124.47 L379.50,124.46 L380.00,124.44 L380.50,124.36 L381.00,124.26 L381.50,124.11 L382.00,123.93 L382.50,123.77 L383.00,123.66 L383.50,123.55 L384.00,123.44 L384.50,123.41 L385.00,123.45 L385.50,123.52 L386.00,123.66 L386.50,123.85 L387.00,124.00 L387.50,124.09 L388.00,124.15 L388.50,124.22 L389.00,124.28 L389.50,124.30 L390.00,124.30 L390.50,124.25 L391.00,124.18 L391.50,124.11 L392.00,124.07 L392.50,124.01 L393.00,123.86 L393.50,123.68 L394.00,123.51 L394.50,123.41 L395.00,123.47 L395.50,123.63 L396.00,123.87 L396.50,124.09 L397.00,124.26 L397.50,124.33 L398.00,124.30 L398.50,124.20 L399.00,124.05 L399.50,123.89 L400.00,123.76 L400.50,123.67 L401.00,123.62 L401.50,123.62 L402.00,123.68 L402.50,123.68 L403.00,123.67 L403.50,123.65 L404.00,123.62 L404.50,123.60 L405.00,123.61 L405.50,123.65 L406.00,123.68 L406.50,123.71 L407.00,123.76 L407.50,123.82 L408.00,123.84 L408.50,123.87 L409.00,123.86 L409.50,123.76 L410.00,123.61 L410.50,123.48 L411.00,123.34 L411.50,123.24 L412.00,123.19 L412.50,123.17 L413.00,123.14 L413.50,123.08 L414.00,122.98 L414.50,122.88 L415.00,122.85 L415.50,122.94 L416.00,123.08 L416.50,123.18 L417.00,123.22 L417.50,123.16 L418.00,123.13 L418.50,123.15 L419.00,123.15 L419.50,123.10 L420.00,123.00 L420.50,122.88 L421.00,122.78 L421.50,122.73 L422.00,122.73 L422.50,122.72 L423.00,122.67 L423.50,122.61 L424.00,122.53 L424.50,122.47 L425.00,122.48 L425.50,122.52 L426.00,122.59 L426.50,122.67 L427.00,122.75 L427.50,122.75 L428.00,122.65 L428.50,122.49 L429.00,122.31 L429.50,122.17 L430.00,122.08 L430.50,121.92 L431.00,121.69 L431.50,121.40 L432.00,121.11 L432.50,120.84 L433.00,120.60 L433.50,120.41 L434.00,120.19 L434.50,119.92 L435.00,119.58 L435.50,119.15 L436.00,118.67 L436.50,118.16 L437.00,117.67 L437.50,117.23 L438.00,116.82 L438.50,116.43 L439.00,116.00 L439.50,115.52 L440.00,114.97 L440.50,114.34 L441.00,113.65 L441.50,112.90 L442.00,112.13 L442.50,111.35 L443.00,110.58 L443.50,109.81 L444.00,109.02 L444.50,108.20 L445.00,107.33 L445.50,106.42 L446.00,105.48 L446.50,104.53 L447.00,103.54 L447.50,102.52 L448.00,101.45 L448.50,100.35 L449.00,99.24 L449.50,98.12 L450.00,96.97 L450.50,95.79 L451.00,94.57 L451.50,93.34 L452.00,92.12 L452.50,90.93 L453.00,89.76 L453.50,88.62 L454.00,87.52 L454.50,86.44 L455.00,85.43 L455.50,84.51 L456.00,83.69 L456.50,82.98 L457.00,82.37 L457.50,81.87 L458.00,81.45 L458.50,81.11 L459.00,80.83 L459.50,80.63 L460.00,80.52 L460.50,80.60 L461.00,80.82 L461.50,81.16 L462.00,81.60 L462.50,82.12 L463.00,82.73 L463.50,83.44 L464.00,84.24 L464.50,85.13 L465.00,86.09 L465.50,87.13 L466.00,88.22 L466.50,89.36 L467.00,90.54 L467.50,91.76 L468.00,92.99 L468.50,94.24 L469.00,95.47 L469.50,96.72 L470.00,97.97 L470.50,99.20 L471.00,100.42 L471.50,101.61 L472.00,102.78 L472.50,103.92 L473.00,105.03 L473.50,106.12 L474.00,107.16 L474.50,108.14 L475.00,109.08 L475.50,109.96 L476.00,110.79 L476.50,111.59 L477.00,112.34 L477.50,113.06 L478.00,113.76 L478.50,114.45 L479.00,115.13 L479.50,115.81 L480.00,116.45 L480.50,117.03 L481.00,117.55 L481.50,118.01 L482.00,118.44 L482.50,118.83 L483.00,119.22 L483.50,119.60 L484.00,119.97 L484.50,120.33 L485.00,120.68 L485.50,121.07 L486.00,121.50 L486.50,121.98 L487.00,122.47 L487.50,122.87 L488.00,123.18 L488.50,123.37 L489.00,123.50 L489.50,123.64 L490.00,123.84 L490.50,124.07 L491.00,124.27 L491.50,124.42 L492.00,124.50 L492.50,124.53 L493.00,124.60 L493.50,124.77 L494.00,125.00 L494.50,125.27 L495.00,125.54 L495.50,125.74 L496.00,125.88 L496.50,125.96 L497.00,126.02 L497.50,126.09 L498.00,126.14 L498.50,126.21 L499.00,126.28 L499.50,126.33 L500.00,126.33 L500.50,126.29 L501.00,126.30 L501.50,126.27 L502.00,126.24 L502.50,126.21 L503.00,126.15 L503.50,126.11 L504.00,126.09 L504.50,126.10 L505.00,126.17 L505.50,126.21 L506.00,126.22 L506.50,126.16 L507.00,126.08 L507.50,126.04 L508.00,126.05 L508.50,126.18 L509.00,126.39 L509.50,126.57 L510.00,126.73 L510.50,126.84 L511.00,126.92 L511.50,126.99 L512.00,127.03 L512.50,127.02 L513.00,126.99 L513.50,126.95 L514.00,126.95 L514.50,127.00 L515.00,127.09 L515.50,127.16 L516.00,127.15 L516.50,127.14 L517.00,127.09 L517.50,127.06 L518.00,127.06 L518.50,127.06 L519.00,127.08 L519.50,127.08 L520.00,127.07 L520.50,127.07 L521.00,127.10 L521.50,127.27 L522.00,127.44 L522.50,127.68 L523.00,127.91 L523.50,128.02 L524.00,127.97 L524.50,127.81 L525.00,127.64 L525.50,127.48 L526.00,127.44 L526.50,127.56 L527.00,127.74 L527.50,128.01 L528.00,128.20 L528.50,128.34 L529.00,128.38 L529.50,128.32 L530.00,128.21 L530.50,128.09 L531.00,128.05 L531.50,128.06 L532.00,128.12 L532.50,128.24 L533.00,128.28 L533.50,128.30 L534.00,128.20 L534.50,127.98 L535.00,127.72 L535.50,127.56 L536.00,127.54 L536.50,127.61 L537.00,127.72 L537.50,127.79 L538.00,127.72 L538.50,127.58 L539.00,127.40 L539.50,127.25 L540.00,127.13 L540.50,127.05 L541.00,126.95 L541.50,126.82 L542.00,126.65 L542.50,126.43 L543.00,126.14 L543.50,125.87 L544.00,125.65 L544.50,125.50 L545.00,125.48 L545.50,125.55 L546.00,125.65 L546.50,125.65 L547.00,125.57 L547.50,125.40 L548.00,125.18 L548.50,125.08 L549.00,125.16 L549.50,125.34 L550.00,125.48 L550.50,125.46 L551.00,125.24 L551.50,124.94 L552.00,124.73 L552.50,124.69 L553.00,124.72 L553.50,124.75 L554.00,124.70 L554.50,124.61 L555.00,124.51 L555.50,124.48 L556.00,124.51 L556.50,124.57 L557.00,124.61 L557.50,124.64 L558.00,124.62 L558.50,124.60 L559.00,124.58 L559.50,124.53 L560.00,124.52 L560.50,124.55 L561.00,124.60 L561.50,124.59 L562.00,124.52 L562.50,124.40 L563.00,124.27 L563.50,124.16 L564.00,124.14 L564.50,124.10 L565.00,124.09 L565.50,124.03 L566.00,124.01 L566.50,124.00 L567.00,124.00 L567.50,123.97 L568.00,123.98 L568.50,124.05 L569.00,124.17 L569.50,124.30 L570.00,124.47 L570.50,124.53 L571.00,124.53 L571.50,124.44 L572.00,124.30 L572.50,124.16 L573.00,124.03 L573.50,123.97 L574.00,123.95 L574.50,123.97 L575.00,124.05 L575.50,124.14 L576.00,124.26 L576.50,124.41 L577.00,124.53 L577.50,124.59 L578.00,124.52 L578.50,124.38 L579.00,124.21 L579.50,124.03 L580.00,123.93 L580.50,123.81 L581.00,123.68 L581.50,123.52 L582.00,123.37 L582.50,123.28 L583.00,123.22 L583.50,123.18 L584.00,123.21 L584.50,123.28 L585.00,123.36 L585.50,123.48 L586.00,123.59 L586.50,123.62 L587.00,123.54 L587.50,123.35 L588.00,123.15 L588.50,122.94 L589.00,122.77 L589.50,122.67 L590.00,122.51 L590.50,122.32 L591.00,122.06 L591.50,121.76 L592.00,121.47 L592.50,121.18 L593.00,120.90 L593.50,120.61 L594.00,120.31 L594.50,119.97 L595.00,119.57 L595.50,119.07 L596.00,118.51 L596.50,117.89 L597.00,117.27 L597.50,116.63 L598.00,115.97 L598.50,115.26 L599.00,114.47 L599.50,113.58 L600.00,112.63 L600.50,111.64 L601.00,110.63 L601.50,109.61 L602.00,108.57 L602.50,107.46 L603.00,106.28 L603.50,105.03 L604.00,103.72 L604.50,102.40 L605.00,101.05 L605.50,99.67 L606.00,98.25 L606.50,96.78 L607.00,95.27 L607.50,93.73 L608.00,92.18 L608.50,90.60 L609.00,88.98 L609.50,87.35 L610.00,85.71 L610.50,84.07 L611.00,82.45 L611.50,80.85 L612.00,79.26 L612.50,77.69 L613.00,76.15 L613.50,74.65 L614.00,73.24 L614.50,71.90 L615.00,70.64 L615.50,69.47 L616.00,68.38 L616.50,67.38 L617.00,66.50 L617.50,65.73 L618.00,65.08 L618.50,64.56 L619.00,64.17 L619.50,63.90 L620.00,63.81 L620.50,63.85 L621.00,63.99 L621.50,64.25 L622.00,64.65 L622.50,65.21 L623.00,65.92 L623.50,66.80 L624.00,67.81 L624.50,68.93 L625.00,70.16 L625.50,71.46 L626.00,72.84 L626.50,74.28 L627.00,75.78 L627.50,77.33 L628.00,78.93 L628.50,80.57 L629.00,82.24 L629.50,83.92 L630.00,85.60 L630.50,87.28 L631.00,88.96 L631.50,90.63 L632.00,92.30 L632.50,93.95 L633.00,95.55 L633.50,97.09 L634.00,98.56 L634.50,99.98 L635.00,101.36 L635.50,102.72 L636.00,104.05 L636.50,105.34 L637.00,106.57 L637.50,107.72 L638.00,108.79 L638.50,109.82 L639.00,110.82 L639.50,111.81 L640.00,112.78 L640.50,113.69 L641.00,114.55 L641.50,115.32 L642.00,116.03 L642.50,116.72 L643.00,117.40 L643.50,118.10 L644.00,118.80 L644.50,119.49 L645.00,120.14 L645.50,120.71 L646.00,121.22 L646.50,121.70 L647.00,122.15 L647.50,122.59 L648.00,123.00 L648.50,123.38 L649.00,123.72 L649.50,124.05 L650.00,124.40 L650.50,124.71 L651.00,124.98 L651.50,125.20 L652.00,125.34 L652.50,125.44 L653.00,125.54 L653.50,125.63 L654.00,125.74 L654.50,125.83 L655.00,125.97 L655.50,126.17 L656.00,126.42 L656.50,126.73 L657.00,127.04 L657.50,127.27 L658.00,127.41 L658.50,127.40 L659.00,127.32 L659.50,127.20 L660.00,127.15 L660.50,127.21 L661.00,127.29 L661.50,127.41 L662.00,127.53 L662.50,127.57 L663.00,127.65 L663.50,127.69 L664.00,127.74 L664.50,127.66 L665.00,127.55 L665.50,127.41 L666.00,127.22 L666.50,127.09 L667.00,127.07 L667.50,127.10 L668.00,127.31 L668.50,127.61 L669.00,127.90 L669.50,128.06 L670.00,128.15 L670.50,128.16 L671.00,128.15 L671.50,128.15 L672.00,128.13 L672.50,128.08 L673.00,128.08 L673.50,128.11 L674.00,128.23 L674.50,128.36 L675.00,128.48 L675.50,128.52 L676.00,128.50 L676.50,128.49 L677.00,128.49 L677.50,128.54 L678.00,128.64 L678.50,128.68 L679.00,128.66 L679.50,128.54 L680.00,128.28 L680.50,128.04 L681.00,127.87 L681.50,127.80 L682.00,127.77 L682.50,127.78 L683.00,127.79 L683.50,127.84 L684.00,127.89 L684.50,128.00 L685.00,128.04 L685.50,128.08 L686.00,128.08 L686.50,128.08 L687.00,128.05 L687.50,128.08 L688.00,128.14 L688.50,128.19 L689.00,128.21 L689.50,128.21 L690.00,128.17 L690.50,128.14 L691.00,128.11 L691.50,128.14 L692.00,128.21 L692.50,128.33 L693.00,128.49 L693.50,128.54 L694.00,128.47 L694.50,128.25 L695.00,127.94 L695.50,127.70 L696.00,127.61 L696.50,127.80 L697.00,128.12 L697.50,128.35 L698.00,128.39 L698.50,128.18 L699.00,127.84 L699.50,127.55 L700.00,127.47 L700.50,127.56 L701.00,127.71 L701.50,127.87 L702.00,128.00 L702.50,128.08 L703.00,128.12 L703.50,128.08 L704.00,128.02 L704.50,127.89" fill="none" stroke="#2a5caa" stroke-width="1.15" stroke-linejoin="round"/><path d="M374.00,168.03 L374.50,167.81 L375.00,167.63 L375.50,167.61 L376.00,167.66 L376.50,167.72 L377.00,167.72 L377.50,167.67 L378.00,167.65 L378.50,167.71 L379.00,167.87 L379.50,168.06 L380.00,168.18 L380.50,168.21 L381.00,168.13 L381.50,168.01 L382.00,167.85 L382.50,167.69 L383.00,167.55 L383.50,167.44 L384.00,167.38 L384.50,167.34 L385.00,167.36 L385.50,167.38 L386.00,167.39 L386.50,167.38 L387.00,167.33 L387.50,167.27 L388.00,167.22 L388.50,167.19 L389.00,167.24 L389.50,167.33 L390.00,167.46 L390.50,167.59 L391.00,167.72 L391.50,167.78 L392.00,167.78 L392.50,167.75 L393.00,167.70 L393.50,167.62 L394.00,167.50 L394.50,167.36 L395.00,167.20 L395.50,167.10 L396.00,167.13 L396.50,167.22 L397.00,167.35 L397.50,167.49 L398.00,167.63 L398.50,167.75 L399.00,167.88 L399.50,168.02 L400.00,168.09 L400.50,168.09 L401.00,168.04 L401.50,167.88 L402.00,167.63 L402.50,167.34 L403.00,167.05 L403.50,166.82 L404.00,166.67 L404.50,166.62 L405.00,166.60 L405.50,166.54 L406.00,166.46 L406.50,166.44 L407.00,166.52 L407.50,166.68 L408.00,166.87 L408.50,167.01 L409.00,167.02 L409.50,166.92 L410.00,166.75 L410.50,166.60 L411.00,166.56 L411.50,166.63 L412.00,166.77 L412.50,166.85 L413.00,166.84 L413.50,166.72 L414.00,166.54 L414.50,166.35 L415.00,166.27 L415.50,166.26 L416.00,166.27 L416.50,166.28 L417.00,166.32 L417.50,166.30 L418.00,166.29 L418.50,166.28 L419.00,166.27 L419.50,166.22 L420.00,166.13 L420.50,166.00 L421.00,165.84 L421.50,165.69 L422.00,165.62 L422.50,165.61 L423.00,165.68 L423.50,165.78 L424.00,165.87 L424.50,165.96 L425.00,166.01 L425.50,166.06 L426.00,166.07 L426.50,166.07 L427.00,166.02 L427.50,165.94 L428.00,165.79 L428.50,165.64 L429.00,165.52 L429.50,165.41 L430.00,165.29 L430.50,165.13 L431.00,164.89 L431.50,164.62 L432.00,164.33 L432.50,164.03 L433.00,163.74 L433.50,163.46 L434.00,163.21 L434.50,162.93 L435.00,162.57 L435.50,162.13 L436.00,161.64 L436.50,161.13 L437.00,160.66 L437.50,160.18 L438.00,159.70 L438.50,159.17 L439.00,158.61 L439.50,158.02 L440.00,157.42 L440.50,156.79 L441.00,156.13 L441.50,155.43 L442.00,154.67 L442.50,153.87 L443.00,153.04 L443.50,152.17 L444.00,151.27 L444.50,150.37 L445.00,149.47 L445.50,148.56 L446.00,147.61 L446.50,146.64 L447.00,145.63 L447.50,144.56 L448.00,143.44 L448.50,142.29 L449.00,141.11 L449.50,139.92 L450.00,138.74 L450.50,137.55 L451.00,136.36 L451.50,135.18 L452.00,134.02 L452.50,132.90 L453.00,131.83 L453.50,130.81 L454.00,129.84 L454.50,128.93 L455.00,128.10 L455.50,127.36 L456.00,126.74 L456.50,126.24 L457.00,125.83 L457.50,125.52 L458.00,125.26 L458.50,125.01 L459.00,124.74 L459.50,124.67 L460.00,124.80 L460.50,125.12 L461.00,125.60 L461.50,126.20 L462.00,126.88 L462.50,127.67 L463.00,128.55 L463.50,129.51 L464.00,130.53 L464.50,131.60 L465.00,132.72 L465.50,133.89 L466.00,135.09 L466.50,136.32 L467.00,137.57 L467.50,138.82 L468.00,140.06 L468.50,141.29 L469.00,142.52 L469.50,143.74 L470.00,144.92 L470.50,146.07 L471.00,147.19 L471.50,148.26 L472.00,149.31 L472.50,150.35 L473.00,151.35 L473.50,152.33 L474.00,153.25 L474.50,154.11 L475.00,154.93 L475.50,155.68 L476.00,156.39 L476.50,157.07 L477.00,157.72 L477.50,158.35 L478.00,158.97 L478.50,159.56 L479.00,160.12 L479.50,160.64 L480.00,161.11 L480.50,161.57 L481.00,162.01 L481.50,162.46 L482.00,162.89 L482.50,163.27 L483.00,163.60 L483.50,163.90 L484.00,164.22 L484.50,164.56 L485.00,164.94 L485.50,165.32 L486.00,165.66 L486.50,165.98 L487.00,166.26 L487.50,166.53 L488.00,166.78 L488.50,167.01 L489.00,167.20 L489.50,167.32 L490.00,167.42 L490.50,167.50 L491.00,167.57 L491.50,167.63 L492.00,167.72 L492.50,167.80 L493.00,167.91 L493.50,168.05 L494.00,168.26 L494.50,168.47 L495.00,168.66 L495.50,168.74 L496.00,168.74 L496.50,168.71 L497.00,168.77 L497.50,168.97 L498.00,169.26 L498.50,169.56 L499.00,169.78 L499.50,169.85 L500.00,169.78 L500.50,169.61 L501.00,169.43 L501.50,169.37 L502.00,169.41 L502.50,169.52 L503.00,169.64 L503.50,169.70 L504.00,169.73 L504.50,169.76 L505.00,169.82 L505.50,169.90 L506.00,169.88 L506.50,169.77 L507.00,169.64 L507.50,169.56 L508.00,169.55 L508.50,169.64 L509.00,169.81 L509.50,169.95 L510.00,170.02 L510.50,170.09 L511.00,170.21 L511.50,170.38 L512.00,170.54 L512.50,170.65 L513.00,170.63 L513.50,170.56 L514.00,170.45 L514.50,170.42 L515.00,170.48 L515.50,170.59 L516.00,170.68 L516.50,170.69 L517.00,170.65 L517.50,170.59 L518.00,170.54 L518.50,170.60 L519.00,170.74 L519.50,170.94 L520.00,171.12 L520.50,171.20 L521.00,171.18 L521.50,171.08 L522.00,170.98 L522.50,170.96 L523.00,171.06 L523.50,171.20 L524.00,171.35 L524.50,171.44 L525.00,171.54 L525.50,171.65 L526.00,171.75 L526.50,171.80 L527.00,171.73 L527.50,171.53 L528.00,171.24 L528.50,170.99 L529.00,170.88 L529.50,170.92 L530.00,171.11 L530.50,171.38 L531.00,171.62 L531.50,171.73 L532.00,171.76 L532.50,171.74 L533.00,171.62 L533.50,171.52 L534.00,171.39 L534.50,171.26 L535.00,171.17 L535.50,171.13 L536.00,171.14 L536.50,171.15 L537.00,171.09 L537.50,171.00 L538.00,170.84 L538.50,170.63 L539.00,170.39 L539.50,170.15 L540.00,169.94 L540.50,169.77 L541.00,169.65 L541.50,169.60 L542.00,169.59 L542.50,169.61 L543.00,169.68 L543.50,169.70 L544.00,169.64 L544.50,169.48 L545.00,169.28 L545.50,169.10 L546.00,168.96 L546.50,168.85 L547.00,168.79 L547.50,168.72 L548.00,168.65 L548.50,168.59 L549.00,168.60 L549.50,168.66 L550.00,168.66 L550.50,168.63 L551.00,168.56 L551.50,168.39 L552.00,168.20 L552.50,168.00 L553.00,167.78 L553.50,167.61 L554.00,167.54 L554.50,167.63 L555.00,167.78 L555.50,167.96 L556.00,168.11 L556.50,168.20 L557.00,168.23 L557.50,168.26 L558.00,168.27 L558.50,168.24 L559.00,168.16 L559.50,168.02 L560.00,167.84 L560.50,167.64 L561.00,167.47 L561.50,167.35 L562.00,167.28 L562.50,167.31 L563.00,167.42 L563.50,167.57 L564.00,167.67 L564.50,167.69 L565.00,167.60 L565.50,167.43 L566.00,167.28 L566.50,167.19 L567.00,167.20 L567.50,167.30 L568.00,167.45 L568.50,167.62 L569.00,167.70 L569.50,167.74 L570.00,167.77 L570.50,167.78 L571.00,167.80 L571.50,167.85 L572.00,167.95 L572.50,168.06 L573.00,168.11 L573.50,168.08 L574.00,167.89 L574.50,167.61 L575.00,167.31 L575.50,167.13 L576.00,167.02 L576.50,167.03 L577.00,167.06 L577.50,167.10 L578.00,167.15 L578.50,167.17 L579.00,167.23 L579.50,167.30 L580.00,167.33 L580.50,167.34 L581.00,167.28 L581.50,167.23 L582.00,167.15 L582.50,167.03 L583.00,166.89 L583.50,166.76 L584.00,166.64 L584.50,166.59 L585.00,166.60 L585.50,166.63 L586.00,166.65 L586.50,166.62 L587.00,166.54 L587.50,166.44 L588.00,166.31 L588.50,166.18 L589.00,166.00 L589.50,165.79 L590.00,165.54 L590.50,165.27 L591.00,165.02 L591.50,164.75 L592.00,164.42 L592.50,164.06 L593.00,163.64 L593.50,163.16 L594.00,162.63 L594.50,162.06 L595.00,161.48 L595.50,160.87 L596.00,160.27 L596.50,159.66 L597.00,159.03 L597.50,158.36 L598.00,157.63 L598.50,156.83 L599.00,155.95 L599.50,155.01 L600.00,154.03 L600.50,153.03 L601.00,152.00 L601.50,150.90 L602.00,149.75 L602.50,148.55 L603.00,147.30 L603.50,146.01 L604.00,144.71 L604.50,143.38 L605.00,142.03 L605.50,140.64 L606.00,139.23 L606.50,137.77 L607.00,136.27 L607.50,134.76 L608.00,133.24 L608.50,131.71 L609.00,130.19 L609.50,128.66 L610.00,127.12 L610.50,125.57 L611.00,124.02 L611.50,122.48 L612.00,120.97 L612.50,119.52 L613.00,118.12 L613.50,116.77 L614.00,115.47 L614.50,114.22 L615.00,113.06 L615.50,112.01 L616.00,111.08 L616.50,110.27 L617.00,109.57 L617.50,108.95 L618.00,108.46 L618.50,108.11 L619.00,107.94 L619.50,107.98 L620.00,108.11 L620.50,108.36 L621.00,108.77 L621.50,109.32 L622.00,110.05 L622.50,110.90 L623.00,111.88 L623.50,112.96 L624.00,114.16 L624.50,115.47 L625.00,116.87 L625.50,118.36 L626.00,119.90 L626.50,121.50 L627.00,123.13 L627.50,124.81 L628.00,126.52 L628.50,128.26 L629.00,130.02 L629.50,131.75 L630.00,133.46 L630.50,135.15 L631.00,136.82 L631.50,138.47 L632.00,140.11 L632.50,141.70 L633.00,143.23 L633.50,144.69 L634.00,146.07 L634.50,147.39 L635.00,148.65 L635.50,149.87 L636.00,151.04 L636.50,152.16 L637.00,153.22 L637.50,154.21 L638.00,155.15 L638.50,156.03 L639.00,156.85 L639.50,157.65 L640.00,158.40 L640.50,159.12 L641.00,159.80 L641.50,160.45 L642.00,161.05 L642.50,161.64 L643.00,162.27 L643.50,162.94 L644.00,163.62 L644.50,164.27 L645.00,164.82 L645.50,165.27 L646.00,165.64 L646.50,165.96 L647.00,166.27 L647.50,166.59 L648.00,166.90 L648.50,167.25 L649.00,167.57 L649.50,167.88 L650.00,168.14 L650.50,168.37 L651.00,168.62 L651.50,168.89 L652.00,169.14 L652.50,169.34 L653.00,169.45 L653.50,169.51 L654.00,169.57 L654.50,169.67 L655.00,169.80 L655.50,169.92 L656.00,170.04 L656.50,170.15 L657.00,170.21 L657.50,170.28 L658.00,170.35 L658.50,170.43 L659.00,170.53 L659.50,170.59 L660.00,170.61 L660.50,170.62 L661.00,170.64 L661.50,170.70 L662.00,170.74 L662.50,170.76 L663.00,170.74 L663.50,170.70 L664.00,170.65 L664.50,170.61 L665.00,170.57 L665.50,170.55 L666.00,170.56 L666.50,170.60 L667.00,170.71 L667.50,170.84 L668.00,170.98 L668.50,171.12 L669.00,171.25 L669.50,171.30 L670.00,171.28 L670.50,171.19 L671.00,171.10 L671.50,171.10 L672.00,171.21 L672.50,171.36 L673.00,171.49 L673.50,171.60 L674.00,171.65 L674.50,171.62 L675.00,171.56 L675.50,171.49 L676.00,171.40 L676.50,171.36 L677.00,171.39 L677.50,171.45 L678.00,171.54 L678.50,171.64 L679.00,171.71 L679.50,171.75 L680.00,171.76 L680.50,171.80 L681.00,171.78 L681.50,171.74 L682.00,171.68 L682.50,171.56 L683.00,171.42 L683.50,171.29 L684.00,171.20 L684.50,171.19 L685.00,171.17 L685.50,171.17 L686.00,171.12 L686.50,171.09 L687.00,171.06 L687.50,171.06 L688.00,171.19 L688.50,171.41 L689.00,171.61 L689.50,171.75 L690.00,171.78 L690.50,171.74 L691.00,171.70 L691.50,171.74 L692.00,171.88 L692.50,172.12 L693.00,172.33 L693.50,172.42 L694.00,172.36 L694.50,172.14 L695.00,171.87 L695.50,171.62 L696.00,171.39 L696.50,171.27 L697.00,171.20 L697.50,171.27 L698.00,171.43 L698.50,171.59 L699.00,171.70 L699.50,171.69 L700.00,171.60 L700.50,171.54 L701.00,171.52 L701.50,171.57 L702.00,171.64 L702.50,171.62 L703.00,171.55 L703.50,171.44 L704.00,171.27 L704.50,171.08" fill="none" stroke="#2e9e3a" stroke-width="1.15" stroke-linejoin="round"/><path d="M374.00,212.71 L374.50,212.77 L375.00,212.77 L375.50,212.64 L376.00,212.51 L376.50,212.42 L377.00,212.37 L377.50,212.34 L378.00,212.34 L378.50,212.30 L379.00,212.24 L379.50,212.14 L380.00,212.10 L380.50,212.15 L381.00,212.30 L381.50,212.52 L382.00,212.72 L382.50,212.88 L383.00,212.94 L383.50,212.89 L384.00,212.75 L384.50,212.55 L385.00,212.36 L385.50,212.22 L386.00,212.15 L386.50,212.13 L387.00,212.10 L387.50,212.07 L388.00,212.00 L388.50,212.00 L389.00,212.01 L389.50,212.05 L390.00,212.01 L390.50,211.90 L391.00,211.74 L391.50,211.62 L392.00,211.56 L392.50,211.59 L393.00,211.71 L393.50,211.84 L394.00,211.92 L394.50,211.98 L395.00,211.98 L395.50,212.01 L396.00,212.03 L396.50,212.08 L397.00,212.09 L397.50,212.09 L398.00,212.10 L398.50,212.14 L399.00,212.16 L399.50,212.15 L400.00,212.08 L400.50,211.95 L401.00,211.77 L401.50,211.60 L402.00,211.48 L402.50,211.45 L403.00,211.47 L403.50,211.50 L404.00,211.49 L404.50,211.38 L405.00,211.15 L405.50,210.89 L406.00,210.74 L406.50,210.73 L407.00,210.84 L407.50,211.02 L408.00,211.18 L408.50,211.23 L409.00,211.21 L409.50,211.16 L410.00,211.10 L410.50,210.99 L411.00,210.88 L411.50,210.76 L412.00,210.64 L412.50,210.59 L413.00,210.61 L413.50,210.68 L414.00,210.68 L414.50,210.61 L415.00,210.54 L415.50,210.50 L416.00,210.55 L416.50,210.69 L417.00,210.85 L417.50,210.97 L418.00,210.96 L418.50,210.90 L419.00,210.79 L419.50,210.63 L420.00,210.54 L420.50,210.51 L421.00,210.55 L421.50,210.60 L422.00,210.57 L422.50,210.44 L423.00,210.27 L423.50,210.13 L424.00,210.09 L424.50,210.10 L425.00,210.14 L425.50,210.15 L426.00,210.12 L426.50,210.08 L427.00,210.06 L427.50,209.98 L428.00,209.89 L428.50,209.71 L429.00,209.52 L429.50,209.30 L430.00,209.09 L430.50,208.91 L431.00,208.76 L431.50,208.59 L432.00,208.42 L432.50,208.24 L433.00,208.03 L433.50,207.73 L434.00,207.37 L434.50,206.94 L435.00,206.46 L435.50,205.97 L436.00,205.51 L436.50,205.07 L437.00,204.65 L437.50,204.19 L438.00,203.69 L438.50,203.10 L439.00,202.48 L439.50,201.84 L440.00,201.17 L440.50,200.50 L441.00,199.81 L441.50,199.11 L442.00,198.39 L442.50,197.64 L443.00,196.85 L443.50,196.02 L444.00,195.15 L444.50,194.24 L445.00,193.28 L445.50,192.28 L446.00,191.26 L446.50,190.21 L447.00,189.15 L447.50,188.06 L448.00,186.97 L448.50,185.86 L449.00,184.75 L449.50,183.64 L450.00,182.52 L450.50,181.36 L451.00,180.17 L451.50,178.95 L452.00,177.73 L452.50,176.55 L453.00,175.44 L453.50,174.44 L454.00,173.51 L454.50,172.65 L455.00,171.86 L455.50,171.13 L456.00,170.50 L456.50,169.97 L457.00,169.53 L457.50,169.20 L458.00,168.95 L458.50,168.83 L459.00,168.89 L459.50,169.09 L460.00,169.42 L460.50,169.84 L461.00,170.30 L461.50,170.82 L462.00,171.39 L462.50,172.04 L463.00,172.79 L463.50,173.66 L464.00,174.64 L464.50,175.73 L465.00,176.88 L465.50,178.06 L466.00,179.27 L466.50,180.48 L467.00,181.71 L467.50,182.92 L468.00,184.13 L468.50,185.33 L469.00,186.50 L469.50,187.66 L470.00,188.80 L470.50,189.96 L471.00,191.12 L471.50,192.25 L472.00,193.34 L472.50,194.37 L473.00,195.34 L473.50,196.26 L474.00,197.16 L474.50,198.01 L475.00,198.83 L475.50,199.59 L476.00,200.30 L476.50,200.97 L477.00,201.62 L477.50,202.26 L478.00,202.89 L478.50,203.49 L479.00,204.07 L479.50,204.60 L480.00,205.09 L480.50,205.54 L481.00,205.99 L481.50,206.45 L482.00,206.93 L482.50,207.40 L483.00,207.83 L483.50,208.19 L484.00,208.46 L484.50,208.69 L485.00,208.96 L485.50,209.28 L486.00,209.64 L486.50,210.02 L487.00,210.38 L487.50,210.67 L488.00,210.91 L488.50,211.14 L489.00,211.32 L489.50,211.48 L490.00,211.60 L490.50,211.72 L491.00,211.83 L491.50,211.97 L492.00,212.15 L492.50,212.35 L493.00,212.52 L493.50,212.70 L494.00,212.83 L494.50,212.96 L495.00,213.04 L495.50,213.09 L496.00,213.14 L496.50,213.15 L497.00,213.17 L497.50,213.13 L498.00,213.04 L498.50,212.94 L499.00,212.88 L499.50,212.95 L500.00,213.13 L500.50,213.31 L501.00,213.46 L501.50,213.48 L502.00,213.47 L502.50,213.49 L503.00,213.60 L503.50,213.82 L504.00,213.94 L504.50,213.99 L505.00,213.97 L505.50,213.92 L506.00,213.87 L506.50,213.87 L507.00,213.91 L507.50,213.96 L508.00,213.97 L508.50,214.04 L509.00,214.06 L509.50,214.08 L510.00,214.09 L510.50,214.16 L511.00,214.23 L511.50,214.28 L512.00,214.34 L512.50,214.38 L513.00,214.41 L513.50,214.42 L514.00,214.44 L514.50,214.44 L515.00,214.45 L515.50,214.50 L516.00,214.64 L516.50,214.83 L517.00,215.03 L517.50,215.22 L518.00,215.38 L518.50,215.50 L519.00,215.57 L519.50,215.54 L520.00,215.43 L520.50,215.26 L521.00,215.10 L521.50,215.04 L522.00,215.07 L522.50,215.16 L523.00,215.26 L523.50,215.28 L524.00,215.28 L524.50,215.24 L525.00,215.24 L525.50,215.31 L526.00,215.44 L526.50,215.59 L527.00,215.76 L527.50,215.86 L528.00,215.91 L528.50,215.88 L529.00,215.76 L529.50,215.64 L530.00,215.53 L530.50,215.48 L531.00,215.51 L531.50,215.58 L532.00,215.74 L532.50,215.82 L533.00,215.81 L533.50,215.72 L534.00,215.59 L534.50,215.50 L535.00,215.46 L535.50,215.43 L536.00,215.31 L536.50,215.10 L537.00,214.89 L537.50,214.70 L538.00,214.59 L538.50,214.57 L539.00,214.63 L539.50,214.65 L540.00,214.61 L540.50,214.51 L541.00,214.35 L541.50,214.19 L542.00,214.08 L542.50,214.03 L543.00,214.06 L543.50,214.11 L544.00,214.14 L544.50,214.11 L545.00,213.99 L545.50,213.80 L546.00,213.57 L546.50,213.33 L547.00,213.19 L547.50,213.12 L548.00,213.14 L548.50,213.17 L549.00,213.17 L549.50,213.14 L550.00,213.06 L550.50,212.98 L551.00,212.91 L551.50,212.89 L552.00,212.88 L552.50,212.85 L553.00,212.81 L553.50,212.77 L554.00,212.72 L554.50,212.66 L555.00,212.54 L555.50,212.37 L556.00,212.23 L556.50,212.15 L557.00,212.16 L557.50,212.16 L558.00,212.07 L558.50,211.90 L559.00,211.73 L559.50,211.63 L560.00,211.64 L560.50,211.72 L561.00,211.83 L561.50,211.93 L562.00,212.01 L562.50,212.11 L563.00,212.17 L563.50,212.15 L564.00,212.07 L564.50,212.03 L565.00,212.04 L565.50,212.10 L566.00,212.11 L566.50,212.05 L567.00,211.89 L567.50,211.69 L568.00,211.56 L568.50,211.54 L569.00,211.60 L569.50,211.72 L570.00,211.83 L570.50,211.85 L571.00,211.85 L571.50,211.85 L572.00,211.91 L572.50,211.97 L573.00,212.03 L573.50,212.05 L574.00,211.96 L574.50,211.77 L575.00,211.55 L575.50,211.34 L576.00,211.23 L576.50,211.19 L577.00,211.25 L577.50,211.31 L578.00,211.35 L578.50,211.37 L579.00,211.33 L579.50,211.26 L580.00,211.13 L580.50,211.03 L581.00,210.96 L581.50,210.88 L582.00,210.86 L582.50,210.89 L583.00,210.94 L583.50,210.99 L584.00,211.03 L584.50,211.06 L585.00,211.05 L585.50,211.05 L586.00,211.05 L586.50,210.97 L587.00,210.81 L587.50,210.58 L588.00,210.31 L588.50,210.02 L589.00,209.77 L589.50,209.55 L590.00,209.38 L590.50,209.18 L591.00,208.95 L591.50,208.67 L592.00,208.33 L592.50,207.93 L593.00,207.48 L593.50,206.96 L594.00,206.43 L594.50,205.86 L595.00,205.28 L595.50,204.66 L596.00,204.01 L596.50,203.32 L597.00,202.59 L597.50,201.82 L598.00,200.99 L598.50,200.07 L599.00,199.07 L599.50,198.00 L600.00,196.87 L600.50,195.70 L601.00,194.49 L601.50,193.23 L602.00,191.93 L602.50,190.58 L603.00,189.19 L603.50,187.75 L604.00,186.26 L604.50,184.75 L605.00,183.21 L605.50,181.66 L606.00,180.09 L606.50,178.51 L607.00,176.87 L607.50,175.19 L608.00,173.48 L608.50,171.77 L609.00,170.08 L609.50,168.42 L610.00,166.79 L610.50,165.18 L611.00,163.60 L611.50,162.08 L612.00,160.64 L612.50,159.29 L613.00,158.04 L613.50,156.89 L614.00,155.84 L614.50,154.88 L615.00,153.99 L615.50,153.20 L616.00,152.49 L616.50,151.90 L617.00,151.45 L617.50,151.17 L618.00,151.16 L618.50,151.45 L619.00,151.82 L619.50,152.32 L620.00,152.93 L620.50,153.68 L621.00,154.56 L621.50,155.56 L622.00,156.65 L622.50,157.86 L623.00,159.16 L623.50,160.55 L624.00,162.01 L624.50,163.53 L625.00,165.09 L625.50,166.69 L626.00,168.34 L626.50,170.04 L627.00,171.76 L627.50,173.48 L628.00,175.19 L628.50,176.88 L629.00,178.54 L629.50,180.18 L630.00,181.81 L630.50,183.40 L631.00,184.94 L631.50,186.43 L632.00,187.86 L632.50,189.25 L633.00,190.60 L633.50,191.89 L634.00,193.14 L634.50,194.32 L635.00,195.45 L635.50,196.52 L636.00,197.54 L636.50,198.49 L637.00,199.38 L637.50,200.21 L638.00,200.99 L638.50,201.74 L639.00,202.46 L639.50,203.13 L640.00,203.78 L640.50,204.39 L641.00,204.97 L641.50,205.53 L642.00,206.07 L642.50,206.59 L643.00,207.09 L643.50,207.59 L644.00,208.08 L644.50,208.57 L645.00,209.01 L645.50,209.36 L646.00,209.66 L646.50,209.92 L647.00,210.20 L647.50,210.52 L648.00,210.92 L648.50,211.37 L649.00,211.82 L649.50,212.23 L650.00,212.55 L650.50,212.79 L651.00,212.98 L651.50,213.15 L652.00,213.34 L652.50,213.54 L653.00,213.73 L653.50,213.91 L654.00,214.08 L654.50,214.22 L655.00,214.33 L655.50,214.45 L656.00,214.57 L656.50,214.67 L657.00,214.73 L657.50,214.73 L658.00,214.68 L658.50,214.64 L659.00,214.67 L659.50,214.78 L660.00,214.90 L660.50,214.98 L661.00,215.04 L661.50,215.14 L662.00,215.33 L662.50,215.60 L663.00,215.86 L663.50,215.99 L664.00,215.93 L664.50,215.74 L665.00,215.52 L665.50,215.36 L666.00,215.32 L666.50,215.39 L667.00,215.53 L667.50,215.66 L668.00,215.82 L668.50,215.96 L669.00,216.05 L669.50,216.05 L670.00,215.97 L670.50,215.87 L671.00,215.76 L671.50,215.71 L672.00,215.77 L672.50,215.85 L673.00,215.93 L673.50,215.94 L674.00,215.87 L674.50,215.78 L675.00,215.69 L675.50,215.62 L676.00,215.59 L676.50,215.54 L677.00,215.49 L677.50,215.44 L678.00,215.42 L678.50,215.48 L679.00,215.63 L679.50,215.86 L680.00,216.13 L680.50,216.39 L681.00,216.58 L681.50,216.63 L682.00,216.52 L682.50,216.33 L683.00,216.13 L683.50,215.96 L684.00,215.92 L684.50,215.92 L685.00,215.96 L685.50,216.03 L686.00,216.09 L686.50,216.13 L687.00,216.14 L687.50,216.16 L688.00,216.19 L688.50,216.22 L689.00,216.32 L689.50,216.37 L690.00,216.32 L690.50,216.21 L691.00,216.06 L691.50,215.95 L692.00,215.94 L692.50,216.02 L693.00,216.15 L693.50,216.18 L694.00,216.16 L694.50,216.16 L695.00,216.19 L695.50,216.26 L696.00,216.31 L696.50,216.29 L697.00,216.20 L697.50,216.03 L698.00,215.90 L698.50,215.79 L699.00,215.70 L699.50,215.63 L700.00,215.53 L700.50,215.44 L701.00,215.39 L701.50,215.41 L702.00,215.50 L702.50,215.60 L703.00,215.78 L703.50,215.91 L704.00,215.98 L704.50,215.92" fill="none" stroke="#ee2222" stroke-width="1.15" stroke-linejoin="round"/><path d="M21.00,201.06 L21.50,201.39 L22.00,201.66 L22.50,201.82 L23.00,201.94 L23.50,202.04 L24.00,201.96 L24.50,201.75 L25.00,201.51 L25.50,201.21 L26.00,200.89 L26.50,200.57 L27.00,200.30 L27.50,200.05 L28.00,199.86 L28.50,199.72 L29.00,199.45 L29.50,199.31 L30.00,199.08 L30.50,198.93 L31.00,198.83 L31.50,198.74 L32.00,198.68 L32.50,198.63 L33.00,198.64 L33.50,198.62 L34.00,198.63 L34.50,198.55 L35.00,198.45 L35.50,198.28 L36.00,198.14 L36.50,197.93 L37.00,197.77 L37.50,197.60 L38.00,197.40 L38.50,197.28 L39.00,197.14 L39.50,197.02 L40.00,196.94 L40.50,196.86 L41.00,196.70 L41.50,196.55 L42.00,196.37 L42.50,196.22 L43.00,196.05 L43.50,195.87 L44.00,195.70 L44.50,195.51 L45.00,195.33 L45.50,195.14 L46.00,194.97 L46.50,194.82 L47.00,194.59 L47.50,194.32 L48.00,194.05 L48.50,193.71 L49.00,193.32 L49.50,192.99 L50.00,192.59 L50.50,192.24 L51.00,191.84 L51.50,191.40 L52.00,190.90 L52.50,190.32 L53.00,189.68 L53.50,188.95 L54.00,188.13 L54.50,187.22 L55.00,186.15 L55.50,184.90 L56.00,183.49 L56.50,182.01 L57.00,180.52 L57.50,179.06 L58.00,177.51 L58.50,175.89 L59.00,174.20 L59.50,172.47 L60.00,170.73 L60.50,168.99 L61.00,167.30 L61.50,165.66 L62.00,164.13 L62.50,162.78 L63.00,161.43 L63.50,159.84 L64.00,157.67 L64.50,154.99 L65.00,152.05 L65.50,149.10 L66.00,146.34 L66.50,143.85 L67.00,141.73 L67.50,139.87 L68.00,138.15 L68.50,136.45 L69.00,134.70 L69.50,132.77 L70.00,130.56 L70.50,127.93 L71.00,124.63 L71.50,120.87 L72.00,116.91 L72.50,112.98 L73.00,109.32 L73.50,106.16 L74.00,103.61 L74.50,101.40 L75.00,99.38 L75.50,97.46 L76.00,95.69 L76.50,94.11 L77.00,92.63 L77.50,91.08 L78.00,89.48 L78.50,87.93 L79.00,86.55 L79.50,85.17 L80.00,84.13 L80.50,84.27 L81.00,84.51 L81.50,84.25 L82.00,84.28 L82.50,84.41 L83.00,84.58 L83.50,84.95 L84.00,85.85 L84.50,87.12 L85.00,88.54 L85.50,89.96 L86.00,91.61 L86.50,93.46 L87.00,95.45 L87.50,97.58 L88.00,99.76 L88.50,101.85 L89.00,103.94 L89.50,106.21 L90.00,108.77 L90.50,111.77 L91.00,115.17 L91.50,118.85 L92.00,122.65 L92.50,126.41 L93.00,129.99 L93.50,133.22 L94.00,136.15 L94.50,138.94 L95.00,141.60 L95.50,144.16 L96.00,146.67 L96.50,149.16 L97.00,151.70 L97.50,154.26 L98.00,156.78 L98.50,159.22 L99.00,161.62 L99.50,164.00 L100.00,166.35 L100.50,168.63 L101.00,170.84 L101.50,172.98 L102.00,175.07 L102.50,177.14 L103.00,179.16 L103.50,181.04 L104.00,182.77 L104.50,184.32 L105.00,185.67 L105.50,186.92 L106.00,188.09 L106.50,189.18 L107.00,190.22 L107.50,191.22 L108.00,192.21 L108.50,193.23 L109.00,194.25 L109.50,195.24 L110.00,196.21 L110.50,197.15 L111.00,198.02 L111.50,198.84 L112.00,199.58 L112.50,200.23 L113.00,200.87 L113.50,201.52 L114.00,202.12 L114.50,202.66 L115.00,203.21 L115.50,203.65 L116.00,204.03 L116.50,204.39 L117.00,204.63 L117.50,204.81 L118.00,204.97 L118.50,205.12 L119.00,205.23 L119.50,205.36 L120.00,205.50 L120.50,205.77 L121.00,206.08 L121.50,206.45 L122.00,206.84 L122.50,207.24 L123.00,207.74 L123.50,208.20 L124.00,208.69 L124.50,209.11 L125.00,209.46 L125.50,209.81 L126.00,210.09 L126.50,210.24 L127.00,210.29 L127.50,210.30 L128.00,210.23 L128.50,210.12 L129.00,209.92 L129.50,209.84 L130.00,209.77 L130.50,209.71 L131.00,209.76 L131.50,209.77 L132.00,209.82 L132.50,209.89 L133.00,210.03 L133.50,210.16 L134.00,210.28 L134.50,210.36 L135.00,210.42 L135.50,210.49 L136.00,210.62 L136.50,210.74 L137.00,210.92 L137.50,211.09 L138.00,211.25 L138.50,211.42 L139.00,211.67 L139.50,211.81 L140.00,212.04 L140.50,212.20 L141.00,212.42 L141.50,212.55 L142.00,212.75 L142.50,212.91 L143.00,213.01 L143.50,213.11 L144.00,213.19 L144.50,213.24 L145.00,213.30 L145.50,213.33 L146.00,213.43 L146.50,213.47 L147.00,213.53 L147.50,213.52 L148.00,213.54 L148.50,213.52 L149.00,213.50 L149.50,213.45 L150.00,213.34 L150.50,213.23 L151.00,213.20 L151.50,213.13 L152.00,213.10 L152.50,213.06 L153.00,213.11 L153.50,213.18 L154.00,213.34 L154.50,213.35 L155.00,213.49 L155.50,213.66 L156.00,213.84 L156.50,214.03 L157.00,214.16 L157.50,214.27 L158.00,214.36 L158.50,214.46 L159.00,214.55 L159.50,214.61 L160.00,214.71 L160.50,214.73 L161.00,214.85 L161.50,214.96 L162.00,214.99 L162.50,215.06 L163.00,215.08 L163.50,214.95 L164.00,214.71 L164.50,214.48 L165.00,214.19 L165.50,213.89 L166.00,213.63 L166.50,213.39 L167.00,213.21 L167.50,213.07 L168.00,213.02 L168.50,212.93 L169.00,212.93 L169.50,212.82 L170.00,212.69 L170.50,212.55 L171.00,212.27 L171.50,212.05 L172.00,211.84 L172.50,211.56 L173.00,211.27 L173.50,211.04 L174.00,210.81 L174.50,210.58 L175.00,210.39 L175.50,210.22 L176.00,210.06 L176.50,209.91 L177.00,209.83 L177.50,209.70 L178.00,209.59 L178.50,209.48 L179.00,209.35 L179.50,209.19 L180.00,208.99 L180.50,208.76 L181.00,208.56 L181.50,208.32 L182.00,208.08 L182.50,207.82 L183.00,207.55 L183.50,207.30 L184.00,207.08 L184.50,206.85 L185.00,206.71 L185.50,206.57 L186.00,206.47 L186.50,206.39 L187.00,206.31 L187.50,206.28 L188.00,206.20 L188.50,206.15 L189.00,206.04 L189.50,205.94 L190.00,205.83 L190.50,205.67 L191.00,205.54 L191.50,205.29 L192.00,205.02 L192.50,204.75 L193.00,204.46 L193.50,204.19 L194.00,203.94 L194.50,203.70 L195.00,203.49 L195.50,203.23 L196.00,203.15 L196.50,203.08 L197.00,203.06 L197.50,203.19 L198.00,203.17 L198.50,203.26 L199.00,203.39 L199.50,203.47 L200.00,203.60 L200.50,203.57 L201.00,203.58 L201.50,203.60 L202.00,203.48 L202.50,203.38 L203.00,203.31 L203.50,203.26 L204.00,203.24 L204.50,203.21 L205.00,203.31 L205.50,203.41 L206.00,203.54 L206.50,203.71 L207.00,203.73 L207.50,203.67 L208.00,203.68 L208.50,203.64 L209.00,203.71 L209.50,203.61 L210.00,203.52 L210.50,203.54 L211.00,203.54 L211.50,203.64 L212.00,203.89 L212.50,204.13 L213.00,204.25 L213.50,204.35 L214.00,204.52 L214.50,204.55 L215.00,204.58 L215.50,204.54 L216.00,204.49 L216.50,204.36 L217.00,204.33 L217.50,204.26 L218.00,204.29 L218.50,204.33 L219.00,204.28 L219.50,204.27 L220.00,204.15 L220.50,204.07 L221.00,203.94 L221.50,203.80 L222.00,203.58 L222.50,203.31 L223.00,203.03 L223.50,202.72 L224.00,202.42 L224.50,202.14 L225.00,201.85 L225.50,201.54 L226.00,201.24 L226.50,200.94 L227.00,200.59 L227.50,200.29 L228.00,199.99 L228.50,199.67 L229.00,199.34 L229.50,199.03 L230.00,198.59 L230.50,198.10 L231.00,197.50 L231.50,196.86 L232.00,196.17 L232.50,195.43 L233.00,194.58 L233.50,193.63 L234.00,192.59 L234.50,191.49 L235.00,190.36 L235.50,189.21 L236.00,188.00 L236.50,186.76 L237.00,185.53 L237.50,184.26 L238.00,183.01 L238.50,181.78 L239.00,180.59 L239.50,179.41 L240.00,178.18 L240.50,176.84 L241.00,175.26 L241.50,173.42 L242.00,171.35 L242.50,169.12 L243.00,166.84 L243.50,164.50 L244.00,162.11 L244.50,159.68 L245.00,157.21 L245.50,154.70 L246.00,152.09 L246.50,149.26 L247.00,146.25 L247.50,143.06 L248.00,139.73 L248.50,136.28 L249.00,132.76 L249.50,129.17 L250.00,125.58 L250.50,122.00 L251.00,118.46 L251.50,114.96 L252.00,111.53 L252.50,108.20 L253.00,104.92 L253.50,101.66 L254.00,98.42 L254.50,95.14 L255.00,91.80 L255.50,88.36 L256.00,84.82 L256.50,81.13 L257.00,77.26 L257.50,73.14 L258.00,68.05 L258.50,62.04 L259.00,56.18 L259.50,51.40 L260.00,47.54 L260.50,45.33 L261.00,44.30 L261.50,43.09 L262.00,41.77 L262.50,40.49 L263.00,39.40 L263.50,38.39 L264.00,37.56 L264.50,37.01 L265.00,36.75 L265.50,36.66 L266.00,36.61 L266.50,36.93 L267.00,37.30 L267.50,37.88 L268.00,38.94 L268.50,40.32 L269.00,42.54 L269.50,45.44 L270.00,47.89 L270.50,49.94 L271.00,52.34 L271.50,55.89 L272.00,59.85 L272.50,63.63 L273.00,69.28 L273.50,76.31 L274.00,81.60 L274.50,85.93 L275.00,89.87 L275.50,93.50 L276.00,96.89 L276.50,100.08 L277.00,103.15 L277.50,106.16 L278.00,109.15 L278.50,112.21 L279.00,115.40 L279.50,118.76 L280.00,122.34 L280.50,126.06 L281.00,129.87 L281.50,133.71 L282.00,137.56 L282.50,141.35 L283.00,145.05 L283.50,148.62 L284.00,152.02 L284.50,155.20 L285.00,158.15 L285.50,160.93 L286.00,163.59 L286.50,166.11 L287.00,168.46 L287.50,170.65 L288.00,172.67 L288.50,174.50 L289.00,176.18 L289.50,177.73 L290.00,179.20 L290.50,180.64 L291.00,182.11 L291.50,183.62 L292.00,185.22 L292.50,186.85 L293.00,188.46 L293.50,190.04 L294.00,191.61 L294.50,193.08 L295.00,194.45 L295.50,195.65 L296.00,196.69 L296.50,197.65 L297.00,198.58 L297.50,199.46 L298.00,200.31 L298.50,201.13 L299.00,201.88 L299.50,202.59 L300.00,203.27 L300.50,203.88 L301.00,204.45 L301.50,205.00 L302.00,205.44 L302.50,205.85 L303.00,206.24 L303.50,206.61 L304.00,206.92 L304.50,207.16 L305.00,207.33 L305.50,207.53 L306.00,207.69 L306.50,207.87 L307.00,208.05 L307.50,208.32 L308.00,208.58 L308.50,208.89 L309.00,209.18 L309.50,209.51 L310.00,209.79 L310.50,210.05 L311.00,210.17 L311.50,210.26 L312.00,210.30 L312.50,210.40 L313.00,210.41 L313.50,210.50 L314.00,210.63 L314.50,210.83 L315.00,211.14 L315.50,211.50 L316.00,211.81 L316.50,212.19 L317.00,212.48 L317.50,212.69 L318.00,212.76 L318.50,212.76 L319.00,212.70 L319.50,212.62 L320.00,212.49 L320.50,212.40 L321.00,212.24 L321.50,212.23 L322.00,212.08 L322.50,212.10 L323.00,212.16 L323.50,212.18 L324.00,212.25 L324.50,212.34 L325.00,212.50 L325.50,212.63 L326.00,212.82 L326.50,213.06 L327.00,213.33 L327.50,213.56 L328.00,213.68 L328.50,213.67 L329.00,213.46 L329.50,213.24 L330.00,212.93 L330.50,212.70 L331.00,212.34 L331.50,212.04 L332.00,211.73 L332.50,211.49 L333.00,211.42 L333.50,211.35 L334.00,211.39 L334.50,211.45 L335.00,211.51 L335.50,211.60 L336.00,211.73" fill="none" stroke="#1a1a1a" stroke-width="0.95" stroke-linejoin="round"/><path d="M21.00,200.13 L21.50,200.37 L22.00,200.60 L22.50,200.85 L23.00,201.13 L23.50,201.35 L24.00,201.26 L24.50,200.97 L25.00,200.59 L25.50,200.20 L26.00,199.84 L26.50,199.54 L27.00,199.33 L27.50,199.22 L28.00,199.15 L28.50,199.07 L29.00,198.98 L29.50,198.87 L30.00,198.76 L30.50,198.63 L31.00,198.54 L31.50,198.47 L32.00,198.34 L32.50,198.18 L33.00,197.99 L33.50,197.80 L34.00,197.64 L34.50,197.52 L35.00,197.40 L35.50,197.26 L36.00,197.04 L36.50,196.78 L37.00,196.53 L37.50,196.33 L38.00,196.20 L38.50,196.13 L39.00,196.09 L39.50,196.05 L40.00,195.97 L40.50,195.92 L41.00,195.89 L41.50,195.88 L42.00,195.83 L42.50,195.69 L43.00,195.45 L43.50,195.14 L44.00,194.80 L44.50,194.46 L45.00,194.16 L45.50,193.83 L46.00,193.51 L46.50,193.21 L47.00,192.93 L47.50,192.69 L48.00,192.50 L48.50,192.32 L49.00,192.10 L49.50,191.85 L50.00,191.60 L50.50,191.32 L51.00,191.00 L51.50,190.67 L52.00,190.26 L52.50,189.77 L53.00,189.19 L53.50,188.56 L54.00,187.88 L54.50,187.11 L55.00,186.22 L55.50,185.04 L56.00,183.64 L56.50,182.12 L57.00,180.59 L57.50,179.10 L58.00,177.55 L58.50,175.94 L59.00,174.31 L59.50,172.64 L60.00,170.95 L60.50,169.25 L61.00,167.57 L61.50,165.93 L62.00,164.37 L62.50,162.99 L63.00,161.59 L63.50,159.96 L64.00,157.83 L64.50,155.23 L65.00,152.35 L65.50,149.37 L66.00,146.48 L66.50,143.89 L67.00,141.73 L67.50,139.90 L68.00,138.24 L68.50,136.62 L69.00,134.94 L69.50,133.09 L70.00,130.96 L70.50,128.34 L71.00,124.92 L71.50,120.94 L72.00,116.69 L72.50,112.45 L73.00,108.52 L73.50,105.19 L74.00,102.60 L74.50,100.38 L75.00,98.38 L75.50,96.51 L76.00,94.82 L76.50,93.26 L77.00,91.71 L77.50,90.04 L78.00,88.24 L78.50,86.49 L79.00,84.96 L79.50,83.39 L80.00,82.00 L80.50,81.35 L81.00,81.63 L81.50,81.72 L82.00,81.87 L82.50,82.08 L83.00,82.31 L83.50,82.56 L84.00,83.36 L84.50,84.63 L85.00,86.12 L85.50,87.63 L86.00,89.39 L86.50,91.35 L87.00,93.37 L87.50,95.32 L88.00,97.09 L88.50,98.73 L89.00,100.42 L89.50,102.29 L90.00,104.51 L90.50,107.36 L91.00,110.81 L91.50,114.66 L92.00,118.71 L92.50,122.75 L93.00,126.59 L93.50,130.01 L94.00,133.06 L94.50,135.95 L95.00,138.71 L95.50,141.38 L96.00,144.00 L96.50,146.55 L97.00,149.03 L97.50,151.46 L98.00,153.86 L98.50,156.23 L99.00,158.59 L99.50,160.95 L100.00,163.29 L100.50,165.61 L101.00,167.86 L101.50,170.03 L102.00,172.17 L102.50,174.33 L103.00,176.44 L103.50,178.45 L104.00,180.29 L104.50,181.91 L105.00,183.36 L105.50,184.69 L106.00,185.93 L106.50,187.10 L107.00,188.23 L107.50,189.38 L108.00,190.53 L108.50,191.69 L109.00,192.85 L109.50,193.96 L110.00,195.02 L110.50,196.04 L111.00,197.00 L111.50,197.91 L112.00,198.74 L112.50,199.49 L113.00,200.21 L113.50,200.86 L114.00,201.43 L114.50,201.92 L115.00,202.31 L115.50,202.64 L116.00,202.96 L116.50,203.32 L117.00,203.72 L117.50,204.11 L118.00,204.47 L118.50,204.76 L119.00,204.97 L119.50,205.10 L120.00,205.18 L120.50,205.29 L121.00,205.44 L121.50,205.68 L122.00,205.98 L122.50,206.30 L123.00,206.62 L123.50,206.88 L124.00,207.09 L124.50,207.27 L125.00,207.43 L125.50,207.59 L126.00,207.73 L126.50,207.87 L127.00,207.95 L127.50,208.00 L128.00,208.01 L128.50,208.05 L129.00,208.16 L129.50,208.31 L130.00,208.53 L130.50,208.73 L131.00,208.82 L131.50,208.87 L132.00,208.86 L132.50,208.86 L133.00,208.85 L133.50,208.84 L134.00,208.86 L134.50,208.85 L135.00,208.92 L135.50,209.05 L136.00,209.15 L136.50,209.27 L137.00,209.36 L137.50,209.39 L138.00,209.45 L138.50,209.55 L139.00,209.70 L139.50,209.86 L140.00,209.99 L140.50,210.11 L141.00,210.20 L141.50,210.34 L142.00,210.53 L142.50,210.71 L143.00,210.89 L143.50,211.01 L144.00,211.15 L144.50,211.30 L145.00,211.43 L145.50,211.53 L146.00,211.61 L146.50,211.67 L147.00,211.74 L147.50,211.78 L148.00,211.80 L148.50,211.74 L149.00,211.66 L149.50,211.63 L150.00,211.73 L150.50,211.89 L151.00,212.09 L151.50,212.23 L152.00,212.29 L152.50,212.25 L153.00,212.18 L153.50,212.14 L154.00,212.11 L154.50,212.08 L155.00,212.12 L155.50,212.21 L156.00,212.32 L156.50,212.47 L157.00,212.63 L157.50,212.79 L158.00,212.87 L158.50,212.92 L159.00,212.95 L159.50,212.92 L160.00,212.91 L160.50,212.95 L161.00,212.99 L161.50,213.00 L162.00,212.92 L162.50,212.78 L163.00,212.60 L163.50,212.41 L164.00,212.35 L164.50,212.35 L165.00,212.44 L165.50,212.53 L166.00,212.51 L166.50,212.41 L167.00,212.21 L167.50,211.93 L168.00,211.71 L168.50,211.55 L169.00,211.47 L169.50,211.40 L170.00,211.35 L170.50,211.32 L171.00,211.26 L171.50,211.22 L172.00,211.21 L172.50,211.19 L173.00,211.10 L173.50,210.94 L174.00,210.69 L174.50,210.36 L175.00,210.03 L175.50,209.78 L176.00,209.60 L176.50,209.48 L177.00,209.34 L177.50,209.15 L178.00,208.90 L178.50,208.61 L179.00,208.30 L179.50,208.00 L180.00,207.70 L180.50,207.47 L181.00,207.29 L181.50,207.21 L182.00,207.17 L182.50,207.14 L183.00,207.08 L183.50,206.93 L184.00,206.68 L184.50,206.38 L185.00,206.05 L185.50,205.72 L186.00,205.39 L186.50,205.06 L187.00,204.76 L187.50,204.50 L188.00,204.32 L188.50,204.20 L189.00,204.05 L189.50,203.89 L190.00,203.75 L190.50,203.60 L191.00,203.53 L191.50,203.46 L192.00,203.40 L192.50,203.29 L193.00,203.14 L193.50,203.02 L194.00,202.95 L194.50,202.91 L195.00,202.91 L195.50,202.93 L196.00,202.88 L196.50,202.78 L197.00,202.66 L197.50,202.62 L198.00,202.66 L198.50,202.74 L199.00,202.80 L199.50,202.81 L200.00,202.78 L200.50,202.75 L201.00,202.79 L201.50,202.91 L202.00,203.06 L202.50,203.20 L203.00,203.32 L203.50,203.47 L204.00,203.64 L204.50,203.82 L205.00,204.02 L205.50,204.23 L206.00,204.43 L206.50,204.59 L207.00,204.71 L207.50,204.78 L208.00,204.74 L208.50,204.64 L209.00,204.58 L209.50,204.60 L210.00,204.69 L210.50,204.83 L211.00,204.96 L211.50,205.00 L212.00,204.94 L212.50,204.77 L213.00,204.60 L213.50,204.49 L214.00,204.48 L214.50,204.48 L215.00,204.43 L215.50,204.33 L216.00,204.20 L216.50,204.05 L217.00,203.92 L217.50,203.79 L218.00,203.64 L218.50,203.49 L219.00,203.36 L219.50,203.30 L220.00,203.24 L220.50,203.17 L221.00,203.07 L221.50,202.96 L222.00,202.81 L222.50,202.61 L223.00,202.36 L223.50,202.09 L224.00,201.79 L224.50,201.53 L225.00,201.28 L225.50,201.06 L226.00,200.83 L226.50,200.56 L227.00,200.28 L227.50,200.02 L228.00,199.74 L228.50,199.45 L229.00,199.09 L229.50,198.68 L230.00,198.14 L230.50,197.53 L231.00,196.87 L231.50,196.16 L232.00,195.40 L232.50,194.60 L233.00,193.71 L233.50,192.72 L234.00,191.64 L234.50,190.52 L235.00,189.41 L235.50,188.30 L236.00,187.16 L236.50,185.99 L237.00,184.81 L237.50,183.62 L238.00,182.42 L238.50,181.25 L239.00,180.15 L239.50,179.08 L240.00,177.99 L240.50,176.83 L241.00,175.52 L241.50,173.98 L242.00,172.18 L242.50,170.15 L243.00,167.92 L243.50,165.52 L244.00,163.00 L244.50,160.37 L245.00,157.70 L245.50,155.00 L246.00,152.24 L246.50,149.31 L247.00,146.23 L247.50,143.03 L248.00,139.73 L248.50,136.34 L249.00,132.91 L249.50,129.44 L250.00,125.97 L250.50,122.50 L251.00,119.07 L251.50,115.69 L252.00,112.43 L252.50,109.30 L253.00,106.25 L253.50,103.23 L254.00,100.20 L254.50,97.12 L255.00,93.95 L255.50,90.65 L256.00,87.15 L256.50,83.40 L257.00,79.36 L257.50,74.98 L258.00,69.39 L258.50,62.69 L259.00,56.30 L259.50,51.37 L260.00,47.16 L260.50,44.79 L261.00,43.83 L261.50,42.55 L262.00,41.11 L262.50,39.74 L263.00,38.60 L263.50,37.51 L264.00,36.60 L264.50,36.02 L265.00,35.65 L265.50,35.27 L266.00,34.94 L266.50,34.71 L267.00,34.67 L267.50,34.43 L268.00,34.95 L268.50,35.86 L269.00,37.68 L269.50,40.20 L270.00,42.10 L270.50,43.62 L271.00,45.66 L271.50,49.17 L272.00,53.22 L272.50,57.07 L273.00,63.28 L273.50,71.21 L274.00,76.97 L274.50,81.52 L275.00,85.61 L275.50,89.31 L276.00,92.69 L276.50,95.84 L277.00,98.84 L277.50,101.76 L278.00,104.68 L278.50,107.70 L279.00,110.87 L279.50,114.27 L280.00,117.95 L280.50,121.80 L281.00,125.79 L281.50,129.86 L282.00,133.94 L282.50,137.97 L283.00,141.90 L283.50,145.68 L284.00,149.25 L284.50,152.56 L285.00,155.56 L285.50,158.37 L286.00,161.03 L286.50,163.55 L287.00,165.91 L287.50,168.08 L288.00,170.05 L288.50,171.81 L289.00,173.40 L289.50,174.86 L290.00,176.27 L290.50,177.68 L291.00,179.13 L291.50,180.67 L292.00,182.33 L292.50,184.07 L293.00,185.84 L293.50,187.61 L294.00,189.34 L294.50,191.00 L295.00,192.53 L295.50,193.91 L296.00,195.10 L296.50,196.15 L297.00,197.15 L297.50,198.10 L298.00,198.99 L298.50,199.81 L299.00,200.55 L299.50,201.19 L300.00,201.75 L300.50,202.29 L301.00,202.83 L301.50,203.35 L302.00,203.82 L302.50,204.23 L303.00,204.59 L303.50,204.90 L304.00,205.18 L304.50,205.45 L305.00,205.68 L305.50,205.88 L306.00,206.11 L306.50,206.35 L307.00,206.61 L307.50,206.85 L308.00,207.04 L308.50,207.21 L309.00,207.41 L309.50,207.69 L310.00,208.03 L310.50,208.37 L311.00,208.66 L311.50,208.90 L312.00,209.11 L312.50,209.32 L313.00,209.54 L313.50,209.76 L314.00,209.98 L314.50,210.16 L315.00,210.29 L315.50,210.37 L316.00,210.39 L316.50,210.43 L317.00,210.49 L317.50,210.58 L318.00,210.66 L318.50,210.69 L319.00,210.71 L319.50,210.69 L320.00,210.76 L320.50,210.89 L321.00,211.06 L321.50,211.23 L322.00,211.38 L322.50,211.48 L323.00,211.54 L323.50,211.63 L324.00,211.79 L324.50,211.97 L325.00,212.21 L325.50,212.49 L326.00,212.77 L326.50,212.98 L327.00,213.11 L327.50,213.15 L328.00,212.96 L328.50,212.59 L329.00,212.24 L329.50,211.90 L330.00,211.57 L330.50,211.29 L331.00,211.10 L331.50,210.97 L332.00,210.94 L332.50,210.99 L333.00,211.07 L333.50,211.09 L334.00,211.19 L334.50,211.33 L335.00,211.47 L335.50,211.61 L336.00,211.76" fill="none" stroke="#2a5caa" stroke-width="0.95" stroke-linejoin="round"/><path d="M21.00,202.64 L21.50,202.89 L22.00,203.07 L22.50,203.17 L23.00,203.23 L23.50,203.23 L24.00,203.23 L24.50,203.17 L25.00,203.14 L25.50,203.14 L26.00,203.19 L26.50,203.19 L27.00,203.18 L27.50,203.12 L28.00,203.01 L28.50,202.88 L29.00,202.71 L29.50,202.52 L30.00,202.32 L30.50,202.11 L31.00,201.91 L31.50,201.68 L32.00,201.42 L32.50,201.13 L33.00,200.89 L33.50,200.79 L34.00,200.77 L34.50,200.79 L35.00,200.79 L35.50,200.72 L36.00,200.58 L36.50,200.39 L37.00,200.20 L37.50,200.04 L38.00,199.90 L38.50,199.79 L39.00,199.65 L39.50,199.44 L40.00,199.16 L40.50,198.89 L41.00,198.62 L41.50,198.40 L42.00,198.20 L42.50,198.02 L43.00,197.84 L43.50,197.66 L44.00,197.46 L44.50,197.30 L45.00,197.16 L45.50,197.04 L46.00,196.87 L46.50,196.61 L47.00,196.25 L47.50,195.78 L48.00,195.28 L48.50,194.78 L49.00,194.32 L49.50,193.86 L50.00,193.43 L50.50,192.96 L51.00,192.48 L51.50,191.96 L52.00,191.46 L52.50,190.95 L53.00,190.40 L53.50,189.76 L54.00,188.89 L54.50,187.78 L55.00,186.51 L55.50,185.09 L56.00,183.65 L56.50,182.23 L57.00,180.81 L57.50,179.36 L58.00,177.80 L58.50,176.13 L59.00,174.40 L59.50,172.63 L60.00,170.85 L60.50,169.09 L61.00,167.37 L61.50,165.72 L62.00,164.21 L62.50,162.88 L63.00,161.50 L63.50,159.77 L64.00,157.35 L64.50,154.38 L65.00,151.23 L65.50,148.24 L66.00,145.63 L66.50,143.27 L67.00,141.17 L67.50,139.25 L68.00,137.42 L68.50,135.61 L69.00,133.75 L69.50,131.75 L70.00,129.51 L70.50,126.93 L71.00,123.92 L71.50,120.66 L72.00,117.30 L72.50,114.03 L73.00,110.95 L73.50,108.14 L74.00,105.66 L74.50,103.37 L75.00,101.19 L75.50,99.01 L76.00,96.98 L76.50,95.24 L77.00,93.77 L77.50,92.39 L78.00,91.03 L78.50,89.63 L79.00,88.37 L79.50,87.25 L80.00,86.46 L80.50,86.28 L81.00,86.52 L81.50,86.95 L82.00,87.49 L82.50,88.08 L83.00,88.86 L83.50,89.84 L84.00,91.09 L84.50,92.48 L85.00,93.86 L85.50,95.14 L86.00,96.52 L86.50,98.09 L87.00,99.91 L87.50,102.31 L88.00,105.24 L88.50,108.24 L89.00,111.16 L89.50,114.28 L90.00,117.53 L90.50,120.83 L91.00,124.12 L91.50,127.45 L92.00,130.76 L92.50,133.99 L93.00,137.07 L93.50,139.92 L94.00,142.59 L94.50,145.16 L95.00,147.55 L95.50,149.85 L96.00,152.16 L96.50,154.57 L97.00,157.19 L97.50,160.01 L98.00,162.81 L98.50,165.40 L99.00,167.91 L99.50,170.37 L100.00,172.73 L100.50,174.96 L101.00,177.05 L101.50,179.05 L102.00,180.96 L102.50,182.78 L103.00,184.49 L103.50,186.05 L104.00,187.49 L104.50,188.80 L105.00,190.01 L105.50,191.15 L106.00,192.20 L106.50,193.18 L107.00,194.10 L107.50,194.99 L108.00,195.88 L108.50,196.76 L109.00,197.59 L109.50,198.41 L110.00,199.19 L110.50,199.96 L111.00,200.71 L111.50,201.38 L112.00,201.98 L112.50,202.47 L113.00,202.91 L113.50,203.34 L114.00,203.78 L114.50,204.23 L115.00,204.68 L115.50,205.10 L116.00,205.53 L116.50,205.90 L117.00,206.22 L117.50,206.52 L118.00,206.81 L118.50,207.10 L119.00,207.43 L119.50,207.79 L120.00,208.13 L120.50,208.42 L121.00,208.69 L121.50,208.93 L122.00,209.19 L122.50,209.52 L123.00,209.92 L123.50,210.34 L124.00,210.75 L124.50,211.11 L125.00,211.43 L125.50,211.72 L126.00,211.99 L126.50,212.23 L127.00,212.50 L127.50,212.77 L128.00,213.01 L128.50,213.20 L129.00,213.33 L129.50,213.41 L130.00,213.43 L130.50,213.46 L131.00,213.55 L131.50,213.61 L132.00,213.69 L132.50,213.82 L133.00,214.03 L133.50,214.30 L134.00,214.60 L134.50,214.88 L135.00,214.97 L135.50,214.86 L136.00,214.64 L136.50,214.39 L137.00,214.17 L137.50,214.07 L138.00,214.06 L138.50,214.14 L139.00,214.29 L139.50,214.51 L140.00,214.67 L140.50,214.73 L141.00,214.69 L141.50,214.59 L142.00,214.52 L142.50,214.58 L143.00,214.73 L143.50,214.92 L144.00,215.07 L144.50,215.12 L145.00,215.16 L145.50,215.23 L146.00,215.36 L146.50,215.57 L147.00,215.75 L147.50,215.86 L148.00,215.87 L148.50,215.81 L149.00,215.76 L149.50,215.72 L150.00,215.72 L150.50,215.71 L151.00,215.68 L151.50,215.61 L152.00,215.55 L152.50,215.49 L153.00,215.52 L153.50,215.65 L154.00,215.89 L154.50,216.18 L155.00,216.47 L155.50,216.68 L156.00,216.83 L156.50,216.94 L157.00,217.02 L157.50,217.11 L158.00,217.18 L158.50,217.20 L159.00,217.16 L159.50,217.02 L160.00,216.82 L160.50,216.61 L161.00,216.44 L161.50,216.35 L162.00,216.32 L162.50,216.40 L163.00,216.56 L163.50,216.75 L164.00,216.89 L164.50,216.92 L165.00,216.78 L165.50,216.53 L166.00,216.19 L166.50,215.86 L167.00,215.57 L167.50,215.41 L168.00,215.38 L168.50,215.43 L169.00,215.48 L169.50,215.47 L170.00,215.38 L170.50,215.26 L171.00,215.10 L171.50,214.92 L172.00,214.72 L172.50,214.51 L173.00,214.33 L173.50,214.13 L174.00,213.89 L174.50,213.60 L175.00,213.24 L175.50,212.83 L176.00,212.41 L176.50,212.04 L177.00,211.75 L177.50,211.57 L178.00,211.47 L178.50,211.36 L179.00,211.20 L179.50,210.99 L180.00,210.78 L180.50,210.57 L181.00,210.39 L181.50,210.27 L182.00,210.13 L182.50,209.97 L183.00,209.78 L183.50,209.55 L184.00,209.32 L184.50,209.11 L185.00,208.97 L185.50,208.86 L186.00,208.74 L186.50,208.59 L187.00,208.46 L187.50,208.34 L188.00,208.21 L188.50,208.05 L189.00,207.85 L189.50,207.59 L190.00,207.35 L190.50,207.21 L191.00,207.19 L191.50,207.24 L192.00,207.27 L192.50,207.25 L193.00,207.17 L193.50,206.97 L194.00,206.78 L194.50,206.60 L195.00,206.48 L195.50,206.41 L196.00,206.40 L196.50,206.36 L197.00,206.28 L197.50,206.11 L198.00,205.97 L198.50,205.90 L199.00,205.94 L199.50,206.07 L200.00,206.24 L200.50,206.42 L201.00,206.57 L201.50,206.61 L202.00,206.55 L202.50,206.36 L203.00,206.25 L203.50,206.19 L204.00,206.17 L204.50,206.18 L205.00,206.18 L205.50,206.26 L206.00,206.45 L206.50,206.63 L207.00,206.82 L207.50,206.97 L208.00,207.10 L208.50,207.22 L209.00,207.35 L209.50,207.50 L210.00,207.67 L210.50,207.83 L211.00,208.03 L211.50,208.21 L212.00,208.30 L212.50,208.27 L213.00,208.21 L213.50,208.14 L214.00,208.05 L214.50,207.95 L215.00,207.78 L215.50,207.53 L216.00,207.27 L216.50,207.07 L217.00,206.98 L217.50,207.04 L218.00,207.16 L218.50,207.26 L219.00,207.30 L219.50,207.27 L220.00,207.17 L220.50,206.98 L221.00,206.80 L221.50,206.65 L222.00,206.39 L222.50,206.09 L223.00,205.77 L223.50,205.42 L224.00,205.10 L224.50,204.84 L225.00,204.62 L225.50,204.39 L226.00,204.14 L226.50,203.88 L227.00,203.60 L227.50,203.31 L228.00,202.98 L228.50,202.59 L229.00,202.15 L229.50,201.65 L230.00,201.10 L230.50,200.53 L231.00,199.94 L231.50,199.37 L232.00,198.77 L232.50,198.15 L233.00,197.48 L233.50,196.73 L234.00,195.91 L234.50,194.96 L235.00,193.93 L235.50,192.81 L236.00,191.60 L236.50,190.33 L237.00,188.99 L237.50,187.60 L238.00,186.17 L238.50,184.71 L239.00,183.21 L239.50,181.64 L240.00,179.97 L240.50,178.07 L241.00,175.73 L241.50,173.08 L242.00,170.30 L242.50,167.61 L243.00,165.19 L243.50,162.97 L244.00,160.84 L244.50,158.74 L245.00,156.60 L245.50,154.38 L246.00,151.98 L246.50,149.32 L247.00,146.36 L247.50,143.14 L248.00,139.68 L248.50,136.05 L249.00,132.28 L249.50,128.43 L250.00,124.55 L250.50,120.69 L251.00,116.90 L251.50,113.14 L252.00,109.33 L252.50,105.49 L253.00,101.66 L253.50,97.84 L254.00,94.05 L254.50,90.30 L255.00,86.59 L255.50,82.93 L256.00,79.35 L256.50,75.87 L257.00,72.44 L257.50,68.96 L258.00,65.02 L258.50,60.57 L259.00,55.88 L259.50,51.43 L260.00,48.34 L260.50,46.50 L261.00,45.39 L261.50,44.30 L262.00,43.25 L262.50,42.27 L263.00,41.46 L263.50,40.84 L264.00,40.44 L264.50,40.68 L265.00,41.16 L265.50,41.71 L266.00,42.32 L266.50,43.13 L267.00,44.16 L267.50,45.45 L268.00,47.25 L268.50,49.50 L269.00,52.53 L269.50,56.22 L270.00,59.77 L270.50,62.95 L271.00,66.09 L271.50,69.70 L272.00,73.45 L272.50,77.07 L273.00,81.54 L273.50,86.65 L274.00,90.90 L274.50,94.67 L275.00,98.26 L275.50,101.71 L276.00,105.06 L276.50,108.34 L277.00,111.59 L277.50,114.81 L278.00,118.02 L278.50,121.25 L279.00,124.52 L279.50,127.86 L280.00,131.29 L280.50,134.76 L281.00,138.24 L281.50,141.69 L282.00,145.07 L282.50,148.37 L283.00,151.58 L283.50,154.72 L284.00,157.76 L284.50,160.73 L285.00,163.61 L285.50,166.42 L286.00,169.15 L286.50,171.74 L287.00,174.17 L287.50,176.42 L288.00,178.56 L288.50,180.54 L289.00,182.35 L289.50,183.96 L290.00,185.44 L290.50,186.87 L291.00,188.26 L291.50,189.65 L292.00,191.04 L292.50,192.41 L293.00,193.74 L293.50,195.02 L294.00,196.24 L294.50,197.39 L295.00,198.43 L295.50,199.35 L296.00,200.15 L296.50,200.87 L297.00,201.58 L297.50,202.25 L298.00,202.90 L298.50,203.52 L299.00,204.11 L299.50,204.71 L300.00,205.31 L300.50,205.93 L301.00,206.55 L301.50,207.14 L302.00,207.69 L302.50,208.22 L303.00,208.74 L303.50,209.24 L304.00,209.71 L304.50,210.15 L305.00,210.55 L305.50,210.87 L306.00,211.13 L306.50,211.30 L307.00,211.45 L307.50,211.61 L308.00,211.81 L308.50,212.05 L309.00,212.32 L309.50,212.59 L310.00,212.85 L310.50,213.06 L311.00,213.26 L311.50,213.42 L312.00,213.58 L312.50,213.77 L313.00,213.96 L313.50,214.07 L314.00,214.09 L314.50,214.08 L315.00,214.07 L315.50,214.11 L316.00,214.27 L316.50,214.43 L317.00,214.57 L317.50,214.69 L318.00,214.79 L318.50,214.88 L319.00,215.01 L319.50,215.17 L320.00,215.30 L320.50,215.37 L321.00,215.36 L321.50,215.21 L322.00,215.07 L322.50,214.97 L323.00,214.93 L323.50,214.93 L324.00,214.98 L324.50,214.97 L325.00,214.92 L325.50,214.90 L326.00,214.92 L326.50,214.93 L327.00,214.98 L327.50,215.03 L328.00,215.10 L328.50,215.13 L329.00,215.17 L329.50,215.30 L330.00,215.45 L330.50,215.60 L331.00,215.69 L331.50,215.63 L332.00,215.44 L332.50,215.17 L333.00,215.03 L333.50,214.95 L334.00,214.92 L334.50,214.96 L335.00,214.96 L335.50,214.92 L336.00,214.89" fill="none" stroke="#2e9e3a" stroke-width="0.95" stroke-linejoin="round"/><path d="M21.00,204.29 L21.50,204.36 L22.00,204.44 L22.50,204.55 L23.00,204.66 L23.50,204.73 L24.00,204.80 L24.50,204.87 L25.00,205.03 L25.50,205.26 L26.00,205.52 L26.50,205.74 L27.00,205.86 L27.50,205.84 L28.00,205.78 L28.50,205.66 L29.00,205.44 L29.50,205.16 L30.00,204.80 L30.50,204.38 L31.00,203.97 L31.50,203.68 L32.00,203.56 L32.50,203.51 L33.00,203.48 L33.50,203.47 L34.00,203.38 L34.50,203.27 L35.00,203.18 L35.50,203.07 L36.00,202.92 L36.50,202.68 L37.00,202.42 L37.50,202.18 L38.00,201.99 L38.50,201.84 L39.00,201.67 L39.50,201.43 L40.00,201.14 L40.50,200.80 L41.00,200.48 L41.50,200.18 L42.00,199.94 L42.50,199.77 L43.00,199.66 L43.50,199.54 L44.00,199.39 L44.50,199.21 L45.00,199.05 L45.50,198.85 L46.00,198.61 L46.50,198.28 L47.00,197.85 L47.50,197.34 L48.00,196.77 L48.50,196.18 L49.00,195.59 L49.50,195.00 L50.00,194.45 L50.50,193.96 L51.00,193.48 L51.50,193.01 L52.00,192.51 L52.50,191.93 L53.00,191.27 L53.50,190.50 L54.00,189.49 L54.50,188.18 L55.00,186.71 L55.50,185.18 L56.00,183.72 L56.50,182.33 L57.00,180.93 L57.50,179.46 L58.00,177.88 L58.50,176.19 L59.00,174.43 L59.50,172.63 L60.00,170.81 L60.50,169.01 L61.00,167.28 L61.50,165.63 L62.00,164.13 L62.50,162.82 L63.00,161.42 L63.50,159.63 L64.00,157.02 L64.50,153.82 L65.00,150.50 L65.50,147.51 L66.00,145.07 L66.50,142.86 L67.00,140.82 L67.50,138.88 L68.00,136.99 L68.50,135.08 L69.00,133.09 L69.50,130.94 L70.00,128.57 L70.50,125.96 L71.00,123.20 L71.50,120.39 L72.00,117.62 L72.50,114.99 L73.00,112.50 L73.50,110.08 L74.00,107.71 L74.50,105.38 L75.00,103.08 L75.50,100.68 L76.00,98.39 L76.50,96.50 L77.00,95.04 L77.50,93.82 L78.00,92.73 L78.50,91.57 L79.00,90.48 L79.50,89.63 L80.00,89.16 L80.50,89.38 L81.00,89.91 L81.50,90.63 L82.00,91.46 L82.50,92.32 L83.00,93.37 L83.50,94.66 L84.00,96.06 L84.50,97.45 L85.00,98.71 L85.50,99.81 L86.00,100.92 L86.50,102.24 L87.00,103.94 L87.50,106.66 L88.00,110.35 L88.50,114.24 L89.00,117.97 L89.50,121.90 L90.00,125.79 L90.50,129.36 L91.00,132.51 L91.50,135.48 L92.00,138.30 L92.50,141.01 L93.00,143.60 L93.50,146.10 L94.00,148.53 L94.50,150.89 L95.00,153.04 L95.50,155.08 L96.00,157.18 L96.50,159.48 L97.00,162.17 L97.50,165.21 L98.00,168.27 L98.50,171.04 L99.00,173.69 L99.50,176.25 L100.00,178.65 L100.50,180.84 L101.00,182.81 L101.50,184.66 L102.00,186.38 L102.50,187.95 L103.00,189.37 L103.50,190.66 L104.00,191.86 L104.50,193.00 L105.00,194.07 L105.50,195.06 L106.00,195.99 L106.50,196.86 L107.00,197.69 L107.50,198.49 L108.00,199.26 L108.50,200.01 L109.00,200.70 L109.50,201.34 L110.00,201.94 L110.50,202.48 L111.00,202.93 L111.50,203.32 L112.00,203.66 L112.50,204.02 L113.00,204.39 L113.50,204.78 L114.00,205.18 L114.50,205.52 L115.00,205.81 L115.50,206.12 L116.00,206.48 L116.50,206.91 L117.00,207.39 L117.50,207.88 L118.00,208.36 L118.50,208.81 L119.00,209.23 L119.50,209.57 L120.00,209.83 L120.50,210.07 L121.00,210.30 L121.50,210.55 L122.00,210.85 L122.50,211.15 L123.00,211.42 L123.50,211.66 L124.00,211.88 L124.50,212.07 L125.00,212.23 L125.50,212.40 L126.00,212.56 L126.50,212.73 L127.00,212.94 L127.50,213.17 L128.00,213.41 L128.50,213.63 L129.00,213.83 L129.50,213.97 L130.00,214.05 L130.50,214.09 L131.00,214.10 L131.50,214.12 L132.00,214.16 L132.50,214.26 L133.00,214.37 L133.50,214.47 L134.00,214.56 L134.50,214.62 L135.00,214.60 L135.50,214.63 L136.00,214.68 L136.50,214.74 L137.00,214.80 L137.50,214.85 L138.00,214.90 L138.50,214.91 L139.00,215.00 L139.50,215.09 L140.00,215.15 L140.50,215.23 L141.00,215.27 L141.50,215.29 L142.00,215.33 L142.50,215.41 L143.00,215.52 L143.50,215.61 L144.00,215.73 L144.50,215.83 L145.00,215.91 L145.50,216.01 L146.00,216.10 L146.50,216.21 L147.00,216.32 L147.50,216.46 L148.00,216.58 L148.50,216.64 L149.00,216.69 L149.50,216.71 L150.00,216.75 L150.50,216.85 L151.00,217.02 L151.50,217.22 L152.00,217.43 L152.50,217.64 L153.00,217.74 L153.50,217.84 L154.00,217.92 L154.50,218.03 L155.00,218.21 L155.50,218.40 L156.00,218.53 L156.50,218.61 L157.00,218.67 L157.50,218.73 L158.00,218.77 L158.50,218.89 L159.00,218.97 L159.50,218.98 L160.00,218.97 L160.50,218.93 L161.00,218.83 L161.50,218.72 L162.00,218.57 L162.50,218.42 L163.00,218.30 L163.50,218.28 L164.00,218.30 L164.50,218.34 L165.00,218.29 L165.50,218.15 L166.00,217.95 L166.50,217.75 L167.00,217.54 L167.50,217.36 L168.00,217.15 L168.50,216.90 L169.00,216.64 L169.50,216.42 L170.00,216.26 L170.50,216.17 L171.00,216.16 L171.50,216.16 L172.00,216.11 L172.50,216.01 L173.00,215.84 L173.50,215.58 L174.00,215.26 L174.50,214.87 L175.00,214.44 L175.50,214.01 L176.00,213.59 L176.50,213.22 L177.00,212.90 L177.50,212.66 L178.00,212.48 L178.50,212.31 L179.00,212.11 L179.50,211.88 L180.00,211.63 L180.50,211.41 L181.00,211.19 L181.50,211.04 L182.00,210.93 L182.50,210.88 L183.00,210.88 L183.50,210.84 L184.00,210.75 L184.50,210.58 L185.00,210.36 L185.50,210.19 L186.00,210.02 L186.50,209.87 L187.00,209.68 L187.50,209.44 L188.00,209.17 L188.50,208.90 L189.00,208.69 L189.50,208.53 L190.00,208.41 L190.50,208.37 L191.00,208.33 L191.50,208.31 L192.00,208.24 L192.50,208.14 L193.00,208.07 L193.50,208.00 L194.00,207.97 L194.50,207.97 L195.00,208.04 L195.50,208.09 L196.00,208.11 L196.50,208.07 L197.00,208.02 L197.50,208.01 L198.00,208.10 L198.50,208.24 L199.00,208.40 L199.50,208.55 L200.00,208.71 L200.50,208.85 L201.00,209.00 L201.50,209.12 L202.00,209.22 L202.50,209.21 L203.00,209.07 L203.50,208.87 L204.00,208.57 L204.50,208.25 L205.00,207.97 L205.50,207.76 L206.00,207.73 L206.50,207.89 L207.00,208.17 L207.50,208.48 L208.00,208.81 L208.50,209.16 L209.00,209.50 L209.50,209.78 L210.00,209.99 L210.50,210.13 L211.00,210.19 L211.50,210.18 L212.00,210.14 L212.50,210.09 L213.00,209.96 L213.50,209.80 L214.00,209.61 L214.50,209.38 L215.00,209.14 L215.50,208.91 L216.00,208.73 L216.50,208.62 L217.00,208.57 L217.50,208.56 L218.00,208.52 L218.50,208.50 L219.00,208.46 L219.50,208.47 L220.00,208.52 L220.50,208.56 L221.00,208.57 L221.50,208.51 L222.00,208.21 L222.50,207.76 L223.00,207.18 L223.50,206.57 L224.00,205.96 L224.50,205.45 L225.00,205.08 L225.50,204.76 L226.00,204.51 L226.50,204.27 L227.00,203.99 L227.50,203.67 L228.00,203.30 L228.50,202.89 L229.00,202.43 L229.50,201.95 L230.00,201.46 L230.50,200.92 L231.00,200.34 L231.50,199.73 L232.00,199.08 L232.50,198.40 L233.00,197.70 L233.50,196.97 L234.00,196.18 L234.50,195.29 L235.00,194.31 L235.50,193.26 L236.00,192.13 L236.50,190.95 L237.00,189.72 L237.50,188.44 L238.00,187.12 L238.50,185.73 L239.00,184.24 L239.50,182.62 L240.00,180.82 L240.50,178.70 L241.00,175.95 L241.50,172.82 L242.00,169.61 L242.50,166.63 L243.00,164.12 L243.50,161.97 L244.00,159.99 L244.50,158.09 L245.00,156.18 L245.50,154.18 L246.00,151.98 L246.50,149.47 L247.00,146.57 L247.50,143.32 L248.00,139.78 L248.50,136.00 L249.00,132.05 L249.50,127.99 L250.00,123.89 L250.50,119.80 L251.00,115.80 L251.50,111.84 L252.00,107.73 L252.50,103.51 L253.00,99.24 L253.50,94.95 L254.00,90.70 L254.50,86.52 L255.00,82.48 L255.50,78.62 L256.00,74.99 L256.50,71.66 L257.00,68.58 L257.50,65.60 L258.00,62.57 L258.50,59.37 L259.00,55.63 L259.50,51.47 L260.00,49.02 L260.50,47.50 L261.00,46.34 L261.50,45.47 L262.00,44.71 L262.50,43.97 L263.00,43.37 L263.50,42.97 L264.00,43.08 L264.50,43.79 L265.00,44.84 L265.50,46.00 L266.00,47.19 L266.50,48.66 L267.00,50.38 L267.50,52.39 L268.00,54.92 L268.50,57.98 L269.00,61.74 L269.50,66.17 L270.00,70.75 L270.50,74.97 L271.00,78.78 L271.50,82.49 L272.00,86.08 L272.50,89.59 L273.00,93.03 L273.50,96.40 L274.00,99.72 L274.50,103.03 L275.00,106.33 L275.50,109.64 L276.00,112.97 L276.50,116.35 L277.00,119.75 L277.50,123.17 L278.00,126.58 L278.50,129.98 L279.00,133.36 L279.50,136.70 L280.00,140.00 L280.50,143.23 L281.00,146.39 L281.50,149.43 L282.00,152.36 L282.50,155.17 L283.00,157.89 L283.50,160.59 L284.00,163.29 L284.50,166.03 L285.00,168.83 L285.50,171.65 L286.00,174.41 L286.50,177.07 L287.00,179.58 L287.50,181.94 L288.00,184.22 L288.50,186.36 L289.00,188.33 L289.50,190.06 L290.00,191.63 L290.50,193.13 L291.00,194.55 L291.50,195.88 L292.00,197.08 L292.50,198.18 L293.00,199.14 L293.50,199.97 L294.00,200.73 L294.50,201.44 L295.00,202.15 L295.50,202.86 L296.00,203.56 L296.50,204.23 L297.00,204.82 L297.50,205.35 L298.00,205.85 L298.50,206.36 L299.00,206.89 L299.50,207.45 L300.00,208.00 L300.50,208.54 L301.00,209.05 L301.50,209.55 L302.00,210.04 L302.50,210.52 L303.00,210.98 L303.50,211.45 L304.00,211.93 L304.50,212.36 L305.00,212.69 L305.50,212.89 L306.00,212.97 L306.50,212.98 L307.00,213.09 L307.50,213.34 L308.00,213.68 L308.50,214.03 L309.00,214.32 L309.50,214.53 L310.00,214.66 L310.50,214.70 L311.00,214.70 L311.50,214.66 L312.00,214.57 L312.50,214.51 L313.00,214.54 L313.50,214.62 L314.00,214.74 L314.50,214.90 L315.00,215.06 L315.50,215.23 L316.00,215.43 L316.50,215.68 L317.00,215.90 L317.50,216.08 L318.00,216.20 L318.50,216.30 L319.00,216.46 L319.50,216.71 L320.00,216.93 L320.50,217.09 L321.00,217.06 L321.50,216.88 L322.00,216.66 L322.50,216.42 L323.00,216.30 L323.50,216.23 L324.00,216.17 L324.50,216.12 L325.00,216.05 L325.50,216.05 L326.00,216.12 L326.50,216.22 L327.00,216.39 L327.50,216.53 L328.00,216.65 L328.50,216.67 L329.00,216.61 L329.50,216.50 L330.00,216.35 L330.50,216.30 L331.00,216.40 L331.50,216.62 L332.00,216.91 L332.50,217.15 L333.00,217.20 L333.50,217.10 L334.00,216.93 L334.50,216.76 L335.00,216.63 L335.50,216.58 L336.00,216.61" fill="none" stroke="#ee2222" stroke-width="0.95" stroke-linejoin="round"/><text x="0.1" y="11.3" font-family="Liberation Sans, sans-serif" font-size="15" font-weight="normal" fill="#111" text-anchor="start" letter-spacing="0.3" stroke="#111" stroke-width="0.25">(a)</text><text x="350.0" y="11.9" font-family="Liberation Sans, sans-serif" font-size="15.3" font-weight="normal" fill="#111" text-anchor="start" letter-spacing="0.6" stroke="#111" stroke-width="0.25">(b)</text><text x="178" y="15" font-family="Liberation Sans, sans-serif" font-size="6.8" font-weight="bold" fill="#222" stroke="#222" stroke-width="0.18" text-anchor="middle" >Cs 3d</text><text x="538" y="14.8" font-family="Liberation Sans, sans-serif" font-size="6.8" font-weight="bold" fill="#222" stroke="#222" stroke-width="0.18" text-anchor="middle" >Cs 3d</text><text x="27.0" y="25.7" font-family="Liberation Sans, sans-serif" font-size="6.75" font-weight="bold" fill="#222" stroke="#222" stroke-width="0.18" text-anchor="start" text-decoration="underline">x-ray irradiation time:</text><text x="27.0" y="33.7" font-family="Liberation Sans, sans-serif" font-size="6.75" font-weight="bold" fill="#ee1c1c" stroke="#ee1c1c" stroke-width="0.18" text-anchor="start" >0 h</text><text x="27.0" y="42.1" font-family="Liberation Sans, sans-serif" font-size="6.75" font-weight="bold" fill="#2a9a2a" stroke="#2a9a2a" stroke-width="0.18" text-anchor="start" >1.5 h</text><text x="27.0" y="50.5" font-family="Liberation Sans, sans-serif" font-size="6.75" font-weight="bold" fill="#2a5caa" stroke="#2a5caa" stroke-width="0.18" text-anchor="start" >3.5 h</text><text x="27.0" y="58.9" font-family="Liberation Sans, sans-serif" font-size="6.75" font-weight="bold" fill="#222" stroke="#222" stroke-width="0.18" text-anchor="start" >5.5 h</text><text x="378.6" y="25.9" font-family="Liberation Sans, sans-serif" font-size="7.1" font-weight="bold" fill="#222" stroke="#222" stroke-width="0.18" text-anchor="start" text-decoration="underline">x-ray irradiation time:</text><text x="378.6" y="36.8" font-family="Liberation Sans, sans-serif" font-size="7.1" font-weight="bold" fill="#ee1c1c" stroke="#ee1c1c" stroke-width="0.18" text-anchor="start" >0 h</text><text x="378.6" y="45.7" font-family="Liberation Sans, sans-serif" font-size="7.1" font-weight="bold" fill="#2a9a2a" stroke="#2a9a2a" stroke-width="0.18" text-anchor="start" >1.5 h</text><text x="378.6" y="54.0" font-family="Liberation Sans, sans-serif" font-size="7.1" font-weight="bold" fill="#2a5caa" stroke="#2a5caa" stroke-width="0.18" text-anchor="start" >3.5 h</text><text x="378.6" y="63.0" font-family="Liberation Sans, sans-serif" font-size="7.1" font-weight="bold" fill="#222" stroke="#222" stroke-width="0.18" text-anchor="start" >5.5 h</text><text x="73.68" y="231.2" font-family="Liberation Sans, sans-serif" font-size="6.9" font-weight="bold" fill="#222" stroke="#222" stroke-width="0.18" text-anchor="middle" >740</text><text x="126.36" y="231.2" font-family="Liberation Sans, sans-serif" font-size="6.9" font-weight="bold" fill="#222" stroke="#222" stroke-width="0.18" text-anchor="middle" >736</text><text x="179.04" y="231.2" font-family="Liberation Sans, sans-serif" font-size="6.9" font-weight="bold" fill="#222" stroke="#222" stroke-width="0.18" text-anchor="middle" >732</text><text x="231.72" y="231.2" font-family="Liberation Sans, sans-serif" font-size="6.9" font-weight="bold" fill="#222" stroke="#222" stroke-width="0.18" text-anchor="middle" >728</text><text x="284.4" y="231.2" font-family="Liberation Sans, sans-serif" font-size="6.9" font-weight="bold" fill="#222" stroke="#222" stroke-width="0.18" text-anchor="middle" >724</text><text x="337.08" y="231.2" font-family="Liberation Sans, sans-serif" font-size="6.9" font-weight="bold" fill="#222" stroke="#222" stroke-width="0.18" text-anchor="middle" >720</text><text x="407.4" y="231.2" font-family="Liberation Sans, sans-serif" font-size="6.9" font-weight="bold" fill="#222" stroke="#222" stroke-width="0.18" text-anchor="middle" >744</text><text x="453.36" y="231.2" font-family="Liberation Sans, sans-serif" font-size="6.9" font-weight="bold" fill="#222" stroke="#222" stroke-width="0.18" text-anchor="middle" >740</text><text x="499.32" y="231.2" font-family="Liberation Sans, sans-serif" font-size="6.9" font-weight="bold" fill="#222" stroke="#222" stroke-width="0.18" text-anchor="middle" >736</text><text x="545.28" y="231.2" font-family="Liberation Sans, sans-serif" font-size="6.9" font-weight="bold" fill="#222" stroke="#222" stroke-width="0.18" text-anchor="middle" >732</text><text x="591.24" y="231.2" font-family="Liberation Sans, sans-serif" font-size="6.9" font-weight="bold" fill="#222" stroke="#222" stroke-width="0.18" text-anchor="middle" >728</text><text x="637.2" y="231.2" font-family="Liberation Sans, sans-serif" font-size="6.9" font-weight="bold" fill="#222" stroke="#222" stroke-width="0.18" text-anchor="middle" >724</text><text x="683.16" y="231.2" font-family="Liberation Sans, sans-serif" font-size="6.9" font-weight="bold" fill="#222" stroke="#222" stroke-width="0.18" text-anchor="middle" >720</text><text x="179.2" y="239" font-family="Liberation Sans, sans-serif" font-size="6.95" font-weight="bold" fill="#222" stroke="#222" stroke-width="0.18" text-anchor="middle" >Binding Energy (eV)</text><text x="539.2" y="239" font-family="Liberation Sans, sans-serif" font-size="6.95" font-weight="bold" fill="#222" stroke="#222" stroke-width="0.18" text-anchor="middle" >Binding Energy (eV)</text><text x="0" y="0" font-family="Liberation Sans, sans-serif" font-size="6.5" font-weight="bold" fill="#222" stroke="#222" stroke-width="0.18" text-anchor="middle" transform="translate(17.4,118.3) rotate(-90)">Arbitrary Units</text><text x="0" y="0" font-family="Liberation Sans, sans-serif" font-size="6.8" font-weight="bold" fill="#222" stroke="#222" stroke-width="0.18" text-anchor="middle" transform="translate(369.4,117.2) rotate(-90)">Arbitrary Units</text><text x="71.6" y="74" font-family="Liberation Sans, sans-serif" font-size="6.65" font-weight="bold" fill="#222" stroke="#222" stroke-width="0.18">Cs 3d<tspan font-size="4.9" dx="1.2" dy="1.4">3/2</tspan></text><text x="253.9" y="29.5" font-family="Liberation Sans, sans-serif" font-size="6.65" font-weight="bold" fill="#222" stroke="#222" stroke-width="0.18">Cs 3d<tspan font-size="4.9" dx="0.3" dy="1.4">5/2</tspan></text><text x="92.9" y="91" font-family="Liberation Sans, sans-serif" font-size="6.4" font-weight="bold" fill="#222" stroke="#222" stroke-width="0.18" text-anchor="start" >- 0.25 eV</text><text x="279.9" y="43.2" font-family="Liberation Sans, sans-serif" font-size="6.4" font-weight="bold" fill="#222" stroke="#222" stroke-width="0.18" text-anchor="start" >- 0.25 eV</text><text x="332.6" y="211.8" font-family="Liberation Sans, sans-serif" font-size="6.6" font-weight="bold" fill="#1d3560" stroke="#1d3560" stroke-width="0.18" text-anchor="middle" >3</text><text x="332.4" y="217.6" font-family="Liberation Sans, sans-serif" font-size="6.6" font-weight="bold" fill="#ee2222" stroke="#ee2222" stroke-width="0.18" text-anchor="middle" >0</text><text x="427.1" y="60.3" font-family="Liberation Sans, sans-serif" font-size="5.6" font-weight="bold" fill="#222" stroke="#222" stroke-width="0.24">Cs<tspan font-size="3.6" dy="-2.2">0</tspan></text><text x="454.6" y="63.1" font-family="Liberation Sans, sans-serif" font-size="5.6" font-weight="bold" fill="#222" stroke="#222" stroke-width="0.24">Cs<tspan font-size="3.6" dy="-2.2">+1</tspan></text><text x="587.4" y="60.8" font-family="Liberation Sans, sans-serif" font-size="5.6" font-weight="bold" fill="#222" stroke="#222" stroke-width="0.24">Cs<tspan font-size="3.6" dy="-2.2">0</tspan></text><text x="614.2" y="48" font-family="Liberation Sans, sans-serif" font-size="5.6" font-weight="bold" fill="#222" stroke="#222" stroke-width="0.24">Cs<tspan font-size="3.6" dy="-2.2">+1</tspan></text><text x="483.8" y="68.2" font-family="Liberation Sans, sans-serif" font-size="5.65" font-weight="bold" fill="#222" stroke="#222" stroke-width="0.24" text-anchor="start" >charge artefact</text><text x="648.5" y="65.8" font-family="Liberation Sans, sans-serif" font-size="5.65" font-weight="bold" fill="#222" stroke="#222" stroke-width="0.24" text-anchor="start" >charge artefact</text><text x="560" y="63" font-family="Liberation Sans, sans-serif" font-size="5.65" font-weight="bold" fill="#222" stroke="#222" stroke-width="0.24" text-anchor="middle" >Mg ghosts</text><text x="560.5" y="71.4" font-family="Liberation Sans, sans-serif" font-size="5.65" font-weight="bold" fill="#222" stroke="#222" stroke-width="0.24" text-anchor="middle" >Cs plasmons</text><path d="M435.5,63.0 L441.6,72.4" stroke="#444" stroke-width="0.5" fill="none"/><path d="M441.60,72.40 L438.92,70.56 L441.02,69.20 Z" fill="#111"/><path d="M494.4,70.4 L483.4,77.6" stroke="#444" stroke-width="0.5" fill="none"/><path d="M483.40,77.60 L485.23,74.91 L486.59,77.00 Z" fill="#111"/><path d="M595.0,63.8 L603.2,74.0" stroke="#444" stroke-width="0.5" fill="none"/><path d="M603.20,74.00 L600.35,72.45 L602.29,70.88 Z" fill="#111"/><path d="M658.7,70.4 L645.9,77.4" stroke="#444" stroke-width="0.5" fill="none"/><path d="M645.90,77.40 L647.93,74.86 L649.13,77.06 Z" fill="#111"/><text x="700.4" y="82.6" font-family="Liberation Sans, sans-serif" font-size="7.2" font-weight="bold" fill="#1a1a1a" stroke="#1a1a1a" stroke-width="0.18" text-anchor="middle" >3</text><text x="700.4" y="126.9" font-family="Liberation Sans, sans-serif" font-size="7.2" font-weight="bold" fill="#2a5caa" stroke="#2a5caa" stroke-width="0.18" text-anchor="middle" >2</text><text x="700.2" y="170.6" font-family="Liberation Sans, sans-serif" font-size="7.2" font-weight="bold" fill="#2e9e3a" stroke="#2e9e3a" stroke-width="0.18" text-anchor="middle" >1</text><text x="700.4" y="214.9" font-family="Liberation Sans, sans-serif" font-size="7.2" font-weight="bold" fill="#ee2222" stroke="#ee2222" stroke-width="0.18" text-anchor="middle" >0</text></svg>
</body></html>
